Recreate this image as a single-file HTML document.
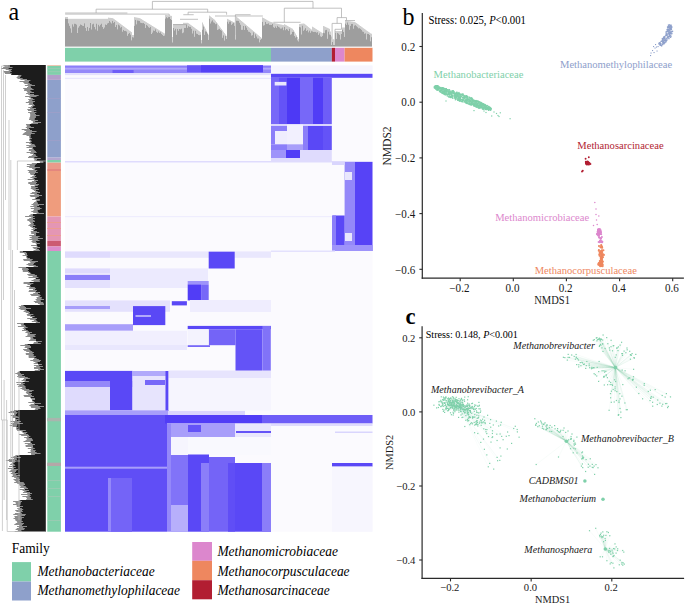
<!DOCTYPE html>
<html><head><meta charset="utf-8"><style>
html,body{margin:0;padding:0;background:#fff;width:685px;height:604px;overflow:hidden}
svg{display:block;font-family:"Liberation Serif",serif}
</style></head><body>
<svg width="685" height="604" viewBox="0 0 685 604">
<g fill="#cfcfcf"><rect x="65" y="17.0" width="1" height="1.5"/><rect x="66" y="17.0" width="1" height="2.0"/><rect x="67" y="17.0" width="1" height="2.0"/><rect x="68" y="18.8" width="1" height="4.4"/><rect x="69" y="18.8" width="1" height="6.9"/><rect x="70" y="18.8" width="1" height="9.4"/><rect x="71" y="18.8" width="1" height="13.7"/><rect x="72" y="18.8" width="1" height="5.4"/><rect x="73" y="18.8" width="1" height="7.6"/><rect x="74" y="18.8" width="1" height="4.7"/><rect x="75" y="18.8" width="1" height="4.9"/><rect x="76" y="18.8" width="1" height="5.6"/><rect x="77" y="18.8" width="1" height="14.2"/><rect x="78" y="18.8" width="1" height="8.6"/><rect x="79" y="18.8" width="1" height="7.3"/><rect x="80" y="18.8" width="1" height="5.5"/><rect x="81" y="18.8" width="1" height="6.1"/><rect x="82" y="18.8" width="1" height="6.7"/><rect x="83" y="18.8" width="1" height="7.2"/><rect x="84" y="18.8" width="1" height="4.4"/><rect x="85" y="18.8" width="1" height="8.9"/><rect x="86" y="18.8" width="1" height="11.9"/><rect x="87" y="18.8" width="1" height="8.1"/><rect x="88" y="18.8" width="1" height="11.8"/><rect x="89" y="18.8" width="1" height="8.9"/><rect x="90" y="18.8" width="1" height="4.2"/><rect x="91" y="18.8" width="1" height="10.5"/><rect x="92" y="18.8" width="1" height="5.4"/><rect x="93" y="18.8" width="1" height="4.7"/><rect x="94" y="18.8" width="1" height="8.1"/><rect x="95" y="18.8" width="1" height="10.4"/><rect x="96" y="18.8" width="1" height="4.7"/><rect x="97" y="18.8" width="1" height="11.7"/><rect x="98" y="18.8" width="1" height="5.8"/><rect x="99" y="18.8" width="1" height="7.4"/><rect x="100" y="18.8" width="1" height="5.8"/><rect x="101" y="18.8" width="1" height="4.7"/><rect x="102" y="18.8" width="1" height="8.1"/><rect x="103" y="18.8" width="1" height="9.9"/><rect x="104" y="18.8" width="1" height="8.5"/><rect x="105" y="18.8" width="1" height="5.5"/><rect x="106" y="18.8" width="1" height="6.2"/><rect x="107" y="18.8" width="1" height="4.5"/><rect x="108" y="17.6" width="1" height="5.3"/><rect x="109" y="17.8" width="1" height="3.1"/><rect x="110" y="17.9" width="1" height="4.3"/><rect x="111" y="18.0" width="1" height="5.3"/><rect x="112" y="18.1" width="1" height="2.7"/><rect x="113" y="18.6" width="1" height="4.1"/><rect x="114" y="19.3" width="1" height="2.3"/><rect x="115" y="20.1" width="1" height="6.9"/><rect x="116" y="20.8" width="1" height="4.1"/><rect x="117" y="21.6" width="1" height="7.6"/><rect x="118" y="22.3" width="1" height="2.1"/><rect x="119" y="23.1" width="1" height="2.2"/><rect x="120" y="23.8" width="1" height="3.6"/><rect x="121" y="24.6" width="1" height="2.1"/><rect x="122" y="25.3" width="1" height="6.2"/><rect x="123" y="26.1" width="1" height="3.8"/><rect x="124" y="26.8" width="1" height="4.1"/><rect x="125" y="27.6" width="1" height="3.1"/><rect x="126" y="28.3" width="1" height="3.0"/><rect x="127" y="29.1" width="1" height="6.5"/><rect x="128" y="29.8" width="1" height="3.9"/><rect x="129" y="30.6" width="1" height="2.3"/><rect x="130" y="31.3" width="1" height="3.1"/><rect x="131" y="32.1" width="1" height="8.1"/><rect x="132" y="35.0" width="1" height="2.1"/><rect x="133" y="35.0" width="1" height="2.3"/><rect x="134" y="17.1" width="1" height="8.6"/><rect x="135" y="17.3" width="1" height="2.6"/><rect x="136" y="17.5" width="1" height="6.7"/><rect x="137" y="17.7" width="1" height="2.6"/><rect x="138" y="17.9" width="1" height="2.6"/><rect x="139" y="18.1" width="1" height="2.8"/><rect x="140" y="18.5" width="1" height="3.8"/><rect x="141" y="19.1" width="1" height="3.5"/><rect x="142" y="19.8" width="1" height="3.3"/><rect x="143" y="20.4" width="1" height="2.5"/><rect x="144" y="21.0" width="1" height="2.9"/><rect x="145" y="21.6" width="1" height="6.3"/><rect x="146" y="22.2" width="1" height="2.6"/><rect x="147" y="22.9" width="1" height="2.7"/><rect x="148" y="23.5" width="1" height="3.6"/><rect x="149" y="24.1" width="1" height="3.6"/><rect x="150" y="24.7" width="1" height="2.2"/><rect x="151" y="25.3" width="1" height="8.6"/><rect x="152" y="26.0" width="1" height="6.4"/><rect x="153" y="26.6" width="1" height="3.7"/><rect x="154" y="27.2" width="1" height="3.7"/><rect x="155" y="27.8" width="1" height="1.4"/><rect x="156" y="28.4" width="1" height="3.3"/><rect x="157" y="29.1" width="1" height="3.7"/><rect x="158" y="29.7" width="1" height="1.6"/><rect x="159" y="30.3" width="1" height="2.5"/><rect x="160" y="30.9" width="1" height="1.3"/><rect x="161" y="31.5" width="1" height="2.5"/><rect x="162" y="32.2" width="1" height="2.7"/><rect x="163" y="32.8" width="1" height="3.2"/><rect x="164" y="33.4" width="1" height="2.0"/><rect x="165" y="14.9" width="1" height="3.5"/><rect x="166" y="15.0" width="1" height="2.0"/><rect x="167" y="15.2" width="1" height="2.9"/><rect x="168" y="15.4" width="1" height="1.7"/><rect x="169" y="15.6" width="1" height="1.4"/><rect x="170" y="15.7" width="1" height="3.0"/><rect x="171" y="15.9" width="1" height="4.1"/><rect x="172" y="37.0" width="1" height="5.3"/><rect x="173" y="24.0" width="1" height="4.0"/><rect x="174" y="24.0" width="1" height="6.3"/><rect x="175" y="24.0" width="1" height="4.6"/><rect x="176" y="24.0" width="1" height="10.6"/><rect x="177" y="24.0" width="1" height="4.9"/><rect x="178" y="24.0" width="1" height="6.6"/><rect x="179" y="24.0" width="1" height="5.0"/><rect x="180" y="24.0" width="1" height="5.2"/><rect x="181" y="24.0" width="1" height="4.5"/><rect x="182" y="24.0" width="1" height="9.1"/><rect x="183" y="22.8" width="1" height="9.5"/><rect x="184" y="22.8" width="1" height="5.1"/><rect x="185" y="22.8" width="1" height="5.1"/><rect x="186" y="22.8" width="1" height="1.6"/><rect x="187" y="22.8" width="1" height="4.8"/><rect x="188" y="23.2" width="1" height="3.0"/><rect x="189" y="23.9" width="1" height="2.9"/><rect x="190" y="24.7" width="1" height="2.1"/><rect x="191" y="25.4" width="1" height="3.2"/><rect x="192" y="26.1" width="1" height="7.2"/><rect x="193" y="26.9" width="1" height="3.7"/><rect x="194" y="27.6" width="1" height="9.0"/><rect x="195" y="28.4" width="1" height="2.2"/><rect x="196" y="29.1" width="1" height="4.3"/><rect x="197" y="29.8" width="1" height="4.1"/><rect x="198" y="30.6" width="1" height="4.4"/><rect x="199" y="31.3" width="1" height="3.8"/><rect x="200" y="32.1" width="1" height="2.7"/><rect x="201" y="40.0" width="1" height="3.2"/><rect x="202" y="22.5" width="1" height="7.0"/><rect x="203" y="24.5" width="1" height="1.8"/><rect x="204" y="26.6" width="1" height="8.2"/><rect x="205" y="28.6" width="1" height="2.6"/><rect x="206" y="30.6" width="1" height="1.3"/><rect x="207" y="32.7" width="1" height="1.2"/><rect x="208" y="34.7" width="1" height="5.1"/><rect x="209" y="15.6" width="1" height="2.9"/><rect x="210" y="16.4" width="1" height="6.9"/><rect x="211" y="17.2" width="1" height="4.1"/><rect x="212" y="18.0" width="1" height="2.2"/><rect x="213" y="18.8" width="1" height="3.4"/><rect x="214" y="19.6" width="1" height="3.0"/><rect x="215" y="20.7" width="1" height="3.4"/><rect x="216" y="22.1" width="1" height="1.3"/><rect x="217" y="23.4" width="1" height="6.4"/><rect x="218" y="24.8" width="1" height="4.4"/><rect x="219" y="26.2" width="1" height="2.4"/><rect x="220" y="27.6" width="1" height="2.4"/><rect x="221" y="28.9" width="1" height="1.4"/><rect x="222" y="30.3" width="1" height="7.3"/><rect x="223" y="31.7" width="1" height="3.5"/><rect x="224" y="33.1" width="1" height="7.4"/><rect x="225" y="34.4" width="1" height="1.5"/><rect x="226" y="35.8" width="1" height="3.2"/><rect x="227" y="18.9" width="1" height="2.6"/><rect x="228" y="19.4" width="1" height="4.2"/><rect x="229" y="19.9" width="1" height="1.6"/><rect x="230" y="20.4" width="1" height="1.0"/><rect x="231" y="21.0" width="1" height="4.0"/><rect x="232" y="21.5" width="1" height="2.1"/><rect x="233" y="22.0" width="1" height="0.9"/><rect x="234" y="22.5" width="1" height="3.2"/><rect x="235" y="35.7" width="1" height="3.7"/><rect x="236" y="16.7" width="1" height="3.7"/><rect x="237" y="17.6" width="1" height="3.0"/><rect x="238" y="18.4" width="1" height="2.4"/><rect x="239" y="19.3" width="1" height="3.3"/><rect x="240" y="20.1" width="1" height="4.3"/><rect x="241" y="21.0" width="1" height="8.8"/><rect x="242" y="21.8" width="1" height="7.8"/><rect x="243" y="22.6" width="1" height="3.4"/><rect x="244" y="23.5" width="1" height="6.3"/><rect x="245" y="24.3" width="1" height="1.6"/><rect x="246" y="25.2" width="1" height="2.2"/><rect x="247" y="26.0" width="1" height="3.8"/><rect x="248" y="26.9" width="1" height="4.5"/><rect x="249" y="27.7" width="1" height="4.0"/><rect x="250" y="28.6" width="1" height="4.3"/><rect x="251" y="29.4" width="1" height="6.0"/><rect x="252" y="30.2" width="1" height="4.9"/><rect x="253" y="31.1" width="1" height="1.1"/><rect x="254" y="31.9" width="1" height="5.8"/><rect x="255" y="32.8" width="1" height="1.5"/><rect x="256" y="33.6" width="1" height="2.7"/><rect x="257" y="34.5" width="1" height="3.9"/><rect x="258" y="35.3" width="1" height="3.0"/><rect x="259" y="36.1" width="1" height="6.1"/><rect x="260" y="37.0" width="1" height="2.7"/><rect x="261" y="37.8" width="1" height="1.0"/><rect x="262" y="17.4" width="1" height="4.3"/><rect x="263" y="18.0" width="1" height="7.4"/><rect x="264" y="18.5" width="1" height="6.5"/><rect x="265" y="19.1" width="1" height="2.8"/><rect x="266" y="19.7" width="1" height="4.0"/><rect x="267" y="20.3" width="1" height="3.7"/><rect x="268" y="20.8" width="1" height="2.4"/><rect x="269" y="21.4" width="1" height="3.4"/><rect x="270" y="21.8" width="1" height="2.9"/><rect x="271" y="22.1" width="1" height="2.9"/><rect x="272" y="22.4" width="1" height="1.5"/><rect x="273" y="22.7" width="1" height="4.4"/><rect x="274" y="23.0" width="1" height="4.9"/><rect x="275" y="23.3" width="1" height="3.0"/><rect x="276" y="23.5" width="1" height="4.3"/><rect x="277" y="23.7" width="1" height="1.9"/><rect x="278" y="24.0" width="1" height="2.8"/><rect x="279" y="24.2" width="1" height="3.1"/><rect x="280" y="24.4" width="1" height="4.0"/><rect x="281" y="24.6" width="1" height="3.7"/><rect x="282" y="24.9" width="1" height="2.4"/><rect x="283" y="25.1" width="1" height="5.0"/><rect x="284" y="24.2" width="1" height="2.7"/><rect x="285" y="24.8" width="1" height="5.3"/><rect x="286" y="25.3" width="1" height="3.4"/><rect x="287" y="25.9" width="1" height="3.5"/><rect x="288" y="26.5" width="1" height="4.3"/><rect x="289" y="27.0" width="1" height="1.6"/><rect x="290" y="27.6" width="1" height="6.9"/><rect x="291" y="28.2" width="1" height="6.0"/><rect x="292" y="28.7" width="1" height="3.1"/><rect x="293" y="29.9" width="1" height="1.6"/><rect x="294" y="31.7" width="1" height="4.2"/><rect x="295" y="33.5" width="1" height="3.9"/><rect x="296" y="35.2" width="1" height="1.3"/><rect x="297" y="37.0" width="1" height="3.2"/><rect x="298" y="38.8" width="1" height="2.5"/><rect x="299" y="24.0" width="1" height="2.9"/><rect x="300" y="23.9" width="1" height="3.4"/><rect x="301" y="23.7" width="1" height="10.6"/><rect x="302" y="23.6" width="1" height="1.9"/><rect x="303" y="23.5" width="1" height="7.3"/><rect x="304" y="23.8" width="1" height="5.7"/><rect x="305" y="24.6" width="1" height="3.4"/><rect x="306" y="25.4" width="1" height="5.2"/><rect x="307" y="26.2" width="1" height="3.8"/><rect x="308" y="27.1" width="1" height="5.1"/><rect x="309" y="27.9" width="1" height="2.7"/><rect x="310" y="28.7" width="1" height="3.9"/><rect x="311" y="29.5" width="1" height="1.6"/><rect x="312" y="26.7" width="1" height="4.7"/><rect x="313" y="27.3" width="1" height="4.7"/><rect x="314" y="27.9" width="1" height="3.9"/><rect x="315" y="28.6" width="1" height="3.2"/><rect x="316" y="29.2" width="1" height="3.1"/><rect x="317" y="29.9" width="1" height="2.3"/><rect x="318" y="30.5" width="1" height="4.2"/><rect x="319" y="31.2" width="1" height="2.1"/><rect x="320" y="31.8" width="1" height="4.4"/><rect x="321" y="32.4" width="1" height="4.5"/><rect x="322" y="33.1" width="1" height="2.7"/><rect x="323" y="26.0" width="1" height="6.6"/><rect x="324" y="26.4" width="1" height="6.6"/><rect x="325" y="26.9" width="1" height="3.1"/><rect x="326" y="27.4" width="1" height="2.6"/><rect x="327" y="27.8" width="1" height="10.8"/><rect x="328" y="28.3" width="1" height="3.2"/><rect x="329" y="28.8" width="1" height="5.5"/><rect x="330" y="31.5" width="1" height="3.3"/><rect x="331" y="36.5" width="1" height="8.5"/><rect x="332" y="39.2" width="1" height="2.8"/><rect x="333" y="39.2" width="1" height="5.8"/><rect x="334" y="39.2" width="1" height="5.8"/><rect x="335" y="31.0" width="1" height="2.0"/><rect x="336" y="31.0" width="1" height="7.8"/><rect x="337" y="31.0" width="1" height="1.8"/><rect x="338" y="31.0" width="1" height="2.4"/><rect x="339" y="31.0" width="1" height="3.6"/><rect x="340" y="31.0" width="1" height="8.3"/><rect x="341" y="31.0" width="1" height="2.9"/><rect x="342" y="27.5" width="1" height="1.9"/><rect x="343" y="27.5" width="1" height="4.4"/><rect x="344" y="27.5" width="1" height="9.3"/><rect x="345" y="20.6" width="1" height="2.8"/><rect x="346" y="20.7" width="1" height="4.0"/><rect x="347" y="20.9" width="1" height="1.4"/><rect x="348" y="21.0" width="1" height="3.5"/><rect x="349" y="21.2" width="1" height="8.5"/><rect x="350" y="21.3" width="1" height="4.4"/><rect x="351" y="21.5" width="1" height="2.4"/><rect x="352" y="21.6" width="1" height="2.2"/><rect x="353" y="21.8" width="1" height="6.9"/><rect x="354" y="21.9" width="1" height="3.5"/><rect x="355" y="22.4" width="1" height="2.7"/><rect x="356" y="23.1" width="1" height="3.0"/><rect x="357" y="23.8" width="1" height="3.2"/><rect x="358" y="24.5" width="1" height="3.7"/><rect x="359" y="25.3" width="1" height="2.8"/><rect x="360" y="26.0" width="1" height="2.7"/><rect x="361" y="26.7" width="1" height="3.0"/><rect x="362" y="27.4" width="1" height="3.9"/><rect x="363" y="28.2" width="1" height="3.5"/><rect x="364" y="28.9" width="1" height="4.6"/><rect x="365" y="29.6" width="1" height="3.6"/><rect x="366" y="30.4" width="1" height="8.9"/><rect x="367" y="31.1" width="1" height="2.6"/><rect x="368" y="31.8" width="1" height="2.2"/><rect x="369" y="32.5" width="1" height="2.5"/><rect x="370" y="33.3" width="1" height="8.0"/><rect x="371" y="33.7" width="1" height="3.4"/></g>
<g fill="#9e9e9e"><rect x="65" y="18.5" width="1" height="28.1"/><rect x="66" y="19.0" width="1" height="27.6"/><rect x="67" y="19.0" width="1" height="27.6"/><rect x="68" y="23.2" width="1" height="23.4"/><rect x="69" y="25.7" width="1" height="20.9"/><rect x="70" y="28.2" width="1" height="18.4"/><rect x="71" y="32.5" width="1" height="14.1"/><rect x="72" y="24.2" width="1" height="22.4"/><rect x="73" y="26.4" width="1" height="20.2"/><rect x="74" y="23.5" width="1" height="23.1"/><rect x="75" y="23.7" width="1" height="22.9"/><rect x="76" y="24.4" width="1" height="22.2"/><rect x="77" y="33.0" width="1" height="13.6"/><rect x="78" y="27.4" width="1" height="19.2"/><rect x="79" y="26.1" width="1" height="20.5"/><rect x="80" y="24.3" width="1" height="22.3"/><rect x="81" y="24.9" width="1" height="21.7"/><rect x="82" y="25.5" width="1" height="21.1"/><rect x="83" y="26.0" width="1" height="20.6"/><rect x="84" y="23.2" width="1" height="23.4"/><rect x="85" y="27.7" width="1" height="18.9"/><rect x="86" y="30.7" width="1" height="15.9"/><rect x="87" y="26.9" width="1" height="19.7"/><rect x="88" y="30.6" width="1" height="16.0"/><rect x="89" y="27.7" width="1" height="18.9"/><rect x="90" y="23.0" width="1" height="23.6"/><rect x="91" y="29.3" width="1" height="17.3"/><rect x="92" y="24.2" width="1" height="22.4"/><rect x="93" y="23.5" width="1" height="23.1"/><rect x="94" y="26.9" width="1" height="19.7"/><rect x="95" y="29.2" width="1" height="17.4"/><rect x="96" y="23.5" width="1" height="23.1"/><rect x="97" y="30.5" width="1" height="16.1"/><rect x="98" y="24.6" width="1" height="22.0"/><rect x="99" y="26.2" width="1" height="20.4"/><rect x="100" y="24.6" width="1" height="22.0"/><rect x="101" y="23.5" width="1" height="23.1"/><rect x="102" y="26.9" width="1" height="19.7"/><rect x="103" y="28.7" width="1" height="17.9"/><rect x="104" y="27.3" width="1" height="19.3"/><rect x="105" y="24.3" width="1" height="22.3"/><rect x="106" y="25.0" width="1" height="21.6"/><rect x="107" y="23.3" width="1" height="23.3"/><rect x="108" y="22.9" width="1" height="23.7"/><rect x="109" y="20.9" width="1" height="25.7"/><rect x="110" y="22.2" width="1" height="24.4"/><rect x="111" y="23.3" width="1" height="23.3"/><rect x="112" y="20.8" width="1" height="25.8"/><rect x="113" y="22.7" width="1" height="23.9"/><rect x="114" y="21.7" width="1" height="24.9"/><rect x="115" y="27.0" width="1" height="19.6"/><rect x="116" y="24.9" width="1" height="21.7"/><rect x="117" y="29.2" width="1" height="17.4"/><rect x="118" y="24.4" width="1" height="22.2"/><rect x="119" y="25.3" width="1" height="21.3"/><rect x="120" y="27.4" width="1" height="19.2"/><rect x="121" y="26.7" width="1" height="19.9"/><rect x="122" y="31.5" width="1" height="15.1"/><rect x="123" y="29.9" width="1" height="16.7"/><rect x="124" y="30.9" width="1" height="15.7"/><rect x="125" y="30.7" width="1" height="15.9"/><rect x="126" y="31.3" width="1" height="15.3"/><rect x="127" y="35.6" width="1" height="11.0"/><rect x="128" y="33.7" width="1" height="12.9"/><rect x="129" y="32.9" width="1" height="13.7"/><rect x="130" y="34.4" width="1" height="12.2"/><rect x="131" y="40.2" width="1" height="6.4"/><rect x="132" y="37.1" width="1" height="9.5"/><rect x="133" y="37.3" width="1" height="9.3"/><rect x="134" y="25.7" width="1" height="20.9"/><rect x="135" y="19.9" width="1" height="26.7"/><rect x="136" y="24.2" width="1" height="22.4"/><rect x="137" y="20.3" width="1" height="26.3"/><rect x="138" y="20.5" width="1" height="26.1"/><rect x="139" y="20.9" width="1" height="25.7"/><rect x="140" y="22.4" width="1" height="24.2"/><rect x="141" y="22.7" width="1" height="23.9"/><rect x="142" y="23.1" width="1" height="23.5"/><rect x="143" y="22.9" width="1" height="23.7"/><rect x="144" y="23.9" width="1" height="22.7"/><rect x="145" y="27.9" width="1" height="18.7"/><rect x="146" y="24.8" width="1" height="21.8"/><rect x="147" y="25.6" width="1" height="21.0"/><rect x="148" y="27.1" width="1" height="19.5"/><rect x="149" y="27.7" width="1" height="18.9"/><rect x="150" y="26.9" width="1" height="19.7"/><rect x="151" y="34.0" width="1" height="12.6"/><rect x="152" y="32.4" width="1" height="14.2"/><rect x="153" y="30.3" width="1" height="16.3"/><rect x="154" y="30.9" width="1" height="15.7"/><rect x="155" y="29.2" width="1" height="17.4"/><rect x="156" y="31.7" width="1" height="14.9"/><rect x="157" y="32.8" width="1" height="13.8"/><rect x="158" y="31.3" width="1" height="15.3"/><rect x="159" y="32.8" width="1" height="13.8"/><rect x="160" y="32.2" width="1" height="14.4"/><rect x="161" y="34.0" width="1" height="12.6"/><rect x="162" y="34.9" width="1" height="11.7"/><rect x="163" y="36.0" width="1" height="10.6"/><rect x="164" y="35.4" width="1" height="11.2"/><rect x="165" y="18.4" width="1" height="28.2"/><rect x="166" y="17.1" width="1" height="29.5"/><rect x="167" y="18.1" width="1" height="28.5"/><rect x="168" y="17.1" width="1" height="29.5"/><rect x="169" y="17.0" width="1" height="29.6"/><rect x="170" y="18.8" width="1" height="27.8"/><rect x="171" y="20.0" width="1" height="26.6"/><rect x="172" y="42.3" width="1" height="4.3"/><rect x="173" y="28.0" width="1" height="18.6"/><rect x="174" y="30.3" width="1" height="16.3"/><rect x="175" y="28.6" width="1" height="18.0"/><rect x="176" y="34.6" width="1" height="12.0"/><rect x="177" y="28.9" width="1" height="17.7"/><rect x="178" y="30.6" width="1" height="16.0"/><rect x="179" y="29.0" width="1" height="17.6"/><rect x="180" y="29.2" width="1" height="17.4"/><rect x="181" y="28.5" width="1" height="18.1"/><rect x="182" y="33.1" width="1" height="13.5"/><rect x="183" y="32.3" width="1" height="14.3"/><rect x="184" y="27.9" width="1" height="18.7"/><rect x="185" y="27.9" width="1" height="18.7"/><rect x="186" y="24.4" width="1" height="22.2"/><rect x="187" y="27.6" width="1" height="19.0"/><rect x="188" y="26.1" width="1" height="20.5"/><rect x="189" y="26.8" width="1" height="19.8"/><rect x="190" y="26.8" width="1" height="19.8"/><rect x="191" y="28.6" width="1" height="18.0"/><rect x="192" y="33.3" width="1" height="13.3"/><rect x="193" y="30.5" width="1" height="16.1"/><rect x="194" y="36.6" width="1" height="10.0"/><rect x="195" y="30.6" width="1" height="16.0"/><rect x="196" y="33.4" width="1" height="13.2"/><rect x="197" y="33.9" width="1" height="12.7"/><rect x="198" y="35.0" width="1" height="11.6"/><rect x="199" y="35.1" width="1" height="11.5"/><rect x="200" y="34.7" width="1" height="11.9"/><rect x="201" y="43.2" width="1" height="3.4"/><rect x="202" y="29.5" width="1" height="17.1"/><rect x="203" y="26.3" width="1" height="20.3"/><rect x="204" y="34.8" width="1" height="11.8"/><rect x="205" y="31.2" width="1" height="15.4"/><rect x="206" y="31.9" width="1" height="14.7"/><rect x="207" y="33.8" width="1" height="12.8"/><rect x="208" y="39.8" width="1" height="6.8"/><rect x="209" y="18.5" width="1" height="28.1"/><rect x="210" y="23.3" width="1" height="23.3"/><rect x="211" y="21.3" width="1" height="25.3"/><rect x="212" y="20.2" width="1" height="26.4"/><rect x="213" y="22.2" width="1" height="24.4"/><rect x="214" y="22.6" width="1" height="24.0"/><rect x="215" y="24.1" width="1" height="22.5"/><rect x="216" y="23.4" width="1" height="23.2"/><rect x="217" y="29.8" width="1" height="16.8"/><rect x="218" y="29.2" width="1" height="17.4"/><rect x="219" y="28.6" width="1" height="18.0"/><rect x="220" y="30.0" width="1" height="16.6"/><rect x="221" y="30.4" width="1" height="16.2"/><rect x="222" y="37.6" width="1" height="9.0"/><rect x="223" y="35.2" width="1" height="11.4"/><rect x="224" y="40.4" width="1" height="6.2"/><rect x="225" y="35.9" width="1" height="10.7"/><rect x="226" y="39.0" width="1" height="7.6"/><rect x="227" y="21.5" width="1" height="25.1"/><rect x="228" y="23.5" width="1" height="23.1"/><rect x="229" y="21.5" width="1" height="25.1"/><rect x="230" y="21.4" width="1" height="25.2"/><rect x="231" y="24.9" width="1" height="21.7"/><rect x="232" y="23.6" width="1" height="23.0"/><rect x="233" y="22.9" width="1" height="23.7"/><rect x="234" y="25.7" width="1" height="20.9"/><rect x="235" y="39.4" width="1" height="7.2"/><rect x="236" y="20.5" width="1" height="26.1"/><rect x="237" y="20.6" width="1" height="26.0"/><rect x="238" y="20.8" width="1" height="25.8"/><rect x="239" y="22.6" width="1" height="24.0"/><rect x="240" y="24.5" width="1" height="22.1"/><rect x="241" y="29.7" width="1" height="16.9"/><rect x="242" y="29.6" width="1" height="17.0"/><rect x="243" y="26.0" width="1" height="20.6"/><rect x="244" y="29.8" width="1" height="16.8"/><rect x="245" y="25.9" width="1" height="20.7"/><rect x="246" y="27.4" width="1" height="19.2"/><rect x="247" y="29.8" width="1" height="16.8"/><rect x="248" y="31.4" width="1" height="15.2"/><rect x="249" y="31.7" width="1" height="14.9"/><rect x="250" y="32.8" width="1" height="13.8"/><rect x="251" y="35.4" width="1" height="11.2"/><rect x="252" y="35.1" width="1" height="11.5"/><rect x="253" y="32.2" width="1" height="14.4"/><rect x="254" y="37.8" width="1" height="8.8"/><rect x="255" y="34.2" width="1" height="12.4"/><rect x="256" y="36.3" width="1" height="10.3"/><rect x="257" y="38.3" width="1" height="8.3"/><rect x="258" y="38.3" width="1" height="8.3"/><rect x="259" y="42.2" width="1" height="4.4"/><rect x="260" y="39.7" width="1" height="6.9"/><rect x="261" y="38.9" width="1" height="7.7"/><rect x="262" y="21.7" width="1" height="24.9"/><rect x="263" y="25.4" width="1" height="21.2"/><rect x="264" y="25.1" width="1" height="21.5"/><rect x="265" y="21.9" width="1" height="24.7"/><rect x="266" y="23.7" width="1" height="22.9"/><rect x="267" y="23.9" width="1" height="22.7"/><rect x="268" y="23.2" width="1" height="23.4"/><rect x="269" y="24.8" width="1" height="21.8"/><rect x="270" y="24.7" width="1" height="21.9"/><rect x="271" y="25.0" width="1" height="21.6"/><rect x="272" y="23.9" width="1" height="22.7"/><rect x="273" y="27.1" width="1" height="19.5"/><rect x="274" y="27.9" width="1" height="18.7"/><rect x="275" y="26.3" width="1" height="20.3"/><rect x="276" y="27.8" width="1" height="18.8"/><rect x="277" y="25.6" width="1" height="21.0"/><rect x="278" y="26.8" width="1" height="19.8"/><rect x="279" y="27.3" width="1" height="19.3"/><rect x="280" y="28.4" width="1" height="18.2"/><rect x="281" y="28.3" width="1" height="18.3"/><rect x="282" y="27.3" width="1" height="19.3"/><rect x="283" y="30.1" width="1" height="16.5"/><rect x="284" y="26.9" width="1" height="19.7"/><rect x="285" y="30.1" width="1" height="16.5"/><rect x="286" y="28.8" width="1" height="17.8"/><rect x="287" y="29.4" width="1" height="17.2"/><rect x="288" y="30.8" width="1" height="15.8"/><rect x="289" y="28.6" width="1" height="18.0"/><rect x="290" y="34.5" width="1" height="12.1"/><rect x="291" y="34.1" width="1" height="12.5"/><rect x="292" y="31.8" width="1" height="14.8"/><rect x="293" y="31.5" width="1" height="15.1"/><rect x="294" y="35.9" width="1" height="10.7"/><rect x="295" y="37.4" width="1" height="9.2"/><rect x="296" y="36.5" width="1" height="10.1"/><rect x="297" y="40.2" width="1" height="6.4"/><rect x="298" y="41.3" width="1" height="5.3"/><rect x="299" y="26.9" width="1" height="19.7"/><rect x="300" y="27.2" width="1" height="19.4"/><rect x="301" y="34.3" width="1" height="12.3"/><rect x="302" y="25.5" width="1" height="21.1"/><rect x="303" y="30.7" width="1" height="15.9"/><rect x="304" y="29.5" width="1" height="17.1"/><rect x="305" y="28.1" width="1" height="18.5"/><rect x="306" y="30.7" width="1" height="15.9"/><rect x="307" y="30.1" width="1" height="16.5"/><rect x="308" y="32.2" width="1" height="14.4"/><rect x="309" y="30.5" width="1" height="16.1"/><rect x="310" y="32.6" width="1" height="14.0"/><rect x="311" y="31.1" width="1" height="15.5"/><rect x="312" y="31.3" width="1" height="15.3"/><rect x="313" y="32.0" width="1" height="14.6"/><rect x="314" y="31.8" width="1" height="14.8"/><rect x="315" y="31.8" width="1" height="14.8"/><rect x="316" y="32.4" width="1" height="14.2"/><rect x="317" y="32.1" width="1" height="14.5"/><rect x="318" y="34.7" width="1" height="11.9"/><rect x="319" y="33.2" width="1" height="13.4"/><rect x="320" y="36.2" width="1" height="10.4"/><rect x="321" y="36.9" width="1" height="9.7"/><rect x="322" y="35.8" width="1" height="10.8"/><rect x="323" y="32.6" width="1" height="14.0"/><rect x="324" y="33.1" width="1" height="13.5"/><rect x="325" y="30.1" width="1" height="16.5"/><rect x="326" y="29.9" width="1" height="16.7"/><rect x="327" y="38.6" width="1" height="8.0"/><rect x="328" y="31.5" width="1" height="15.1"/><rect x="329" y="34.3" width="1" height="12.3"/><rect x="330" y="34.8" width="1" height="11.8"/><rect x="331" y="45.0" width="1" height="1.6"/><rect x="332" y="42.0" width="1" height="4.6"/><rect x="333" y="45.0" width="1" height="1.6"/><rect x="334" y="45.0" width="1" height="1.6"/><rect x="335" y="33.0" width="1" height="13.6"/><rect x="336" y="38.8" width="1" height="7.8"/><rect x="337" y="32.8" width="1" height="13.8"/><rect x="338" y="33.4" width="1" height="13.2"/><rect x="339" y="34.6" width="1" height="12.0"/><rect x="340" y="39.3" width="1" height="7.3"/><rect x="341" y="33.9" width="1" height="12.7"/><rect x="342" y="29.4" width="1" height="17.2"/><rect x="343" y="31.9" width="1" height="14.7"/><rect x="344" y="36.8" width="1" height="9.8"/><rect x="345" y="23.4" width="1" height="23.2"/><rect x="346" y="24.7" width="1" height="21.9"/><rect x="347" y="22.3" width="1" height="24.3"/><rect x="348" y="24.5" width="1" height="22.1"/><rect x="349" y="29.6" width="1" height="17.0"/><rect x="350" y="25.7" width="1" height="20.9"/><rect x="351" y="23.9" width="1" height="22.7"/><rect x="352" y="23.8" width="1" height="22.8"/><rect x="353" y="28.6" width="1" height="18.0"/><rect x="354" y="25.4" width="1" height="21.2"/><rect x="355" y="25.1" width="1" height="21.5"/><rect x="356" y="26.1" width="1" height="20.5"/><rect x="357" y="27.1" width="1" height="19.5"/><rect x="358" y="28.2" width="1" height="18.4"/><rect x="359" y="28.1" width="1" height="18.5"/><rect x="360" y="28.7" width="1" height="17.9"/><rect x="361" y="29.7" width="1" height="16.9"/><rect x="362" y="31.3" width="1" height="15.3"/><rect x="363" y="31.7" width="1" height="14.9"/><rect x="364" y="33.5" width="1" height="13.1"/><rect x="365" y="33.2" width="1" height="13.4"/><rect x="366" y="39.3" width="1" height="7.3"/><rect x="367" y="33.7" width="1" height="12.9"/><rect x="368" y="34.0" width="1" height="12.6"/><rect x="369" y="35.0" width="1" height="11.6"/><rect x="370" y="41.2" width="1" height="5.4"/><rect x="371" y="37.1" width="1" height="9.5"/></g>
<g stroke="#a8a8a8" stroke-width="0.7"><line x1="152.4" y1="1.4" x2="313" y2="1.4"/><line x1="152.4" y1="1.4" x2="152.4" y2="9.2"/><line x1="313" y1="1.4" x2="313" y2="8.2"/><line x1="96.1" y1="9.2" x2="207.7" y2="9.2"/><line x1="96.1" y1="9.2" x2="96.1" y2="13"/><line x1="207.7" y1="9.2" x2="207.7" y2="12.2"/><line x1="65.1" y1="13" x2="127.4" y2="13"/><line x1="65.1" y1="14.1" x2="169.2" y2="14.1"/><line x1="169.2" y1="14.1" x2="169.2" y2="16"/><line x1="188.1" y1="12.2" x2="226.6" y2="12.2"/><line x1="188.1" y1="12.2" x2="188.1" y2="14.6"/><line x1="226.6" y1="12.2" x2="226.6" y2="14.7"/><line x1="183.3" y1="14.7" x2="193.7" y2="14.7"/><line x1="180" y1="19.3" x2="198" y2="19.3"/><line x1="173" y1="24.6" x2="186.7" y2="24.6"/><line x1="235.4" y1="14.7" x2="250.6" y2="14.7"/><line x1="235.4" y1="14.7" x2="235.4" y2="35.7"/><line x1="215" y1="16" x2="262.9" y2="16"/><line x1="284.3" y1="8.2" x2="341.5" y2="8.2"/><line x1="284.3" y1="8.2" x2="284.3" y2="22.3"/><line x1="341.5" y1="8.2" x2="341.5" y2="17.6"/><line x1="273.4" y1="22.3" x2="300.6" y2="22.3"/><line x1="337.1" y1="17.6" x2="346.5" y2="17.6"/><line x1="337.1" y1="17.6" x2="337.1" y2="23.4"/><line x1="332.1" y1="23.4" x2="341.5" y2="23.4"/><line x1="346.5" y1="17.6" x2="346.5" y2="20.5"/><line x1="345" y1="20.5" x2="355" y2="20.5"/><line x1="332.1" y1="23.4" x2="332.1" y2="39.2"/><line x1="341.5" y1="23.4" x2="341.5" y2="29.3"/><line x1="335" y1="29.3" x2="341.5" y2="29.3"/><line x1="335" y1="29.3" x2="335" y2="39"/></g>
<rect x="65.00" y="47.80" width="206.00" height="13.80" fill="#7fd0aa"/>
<rect x="271.00" y="47.80" width="60.80" height="13.80" fill="#8ea0cb"/>
<rect x="331.80" y="47.80" width="3.20" height="13.80" fill="#b21e32"/>
<rect x="335.00" y="47.80" width="9.60" height="13.80" fill="#dc87cd"/>
<rect x="344.60" y="47.80" width="27.90" height="13.80" fill="#ee875f"/>
<rect x="47.30" y="251.00" width="13.60" height="280.70" fill="#7fd0aa"/>
<rect x="47.30" y="79.90" width="13.60" height="77.70" fill="#8ea0cb"/>
<rect x="47.30" y="169.00" width="13.60" height="47.50" fill="#ef9c7d"/>
<rect x="47.30" y="216.50" width="13.60" height="24.50" fill="#e496b4"/>
<rect x="47.30" y="65.90" width="13.60" height="9.00" fill="#7fd0aa"/>
<rect x="47.30" y="162.40" width="13.60" height="6.60" fill="#eb9a8a"/>
<rect x="47.30" y="241.00" width="13.60" height="5.50" fill="#cc5a72"/>
<rect x="47.30" y="74.90" width="13.60" height="5.00" fill="#b29fca"/>
<rect x="47.30" y="246.50" width="13.60" height="4.50" fill="#dc8ccc"/>
<rect x="47.30" y="417.90" width="13.60" height="3.40" fill="#a9b5ae"/>
<rect x="47.30" y="462.70" width="13.60" height="3.30" fill="#b5a7a8"/>
<rect x="47.30" y="157.60" width="13.60" height="2.40" fill="#b3a6cf"/>
<rect x="47.30" y="160.00" width="13.60" height="2.40" fill="#7fd0aa"/>
<rect x="47.30" y="169.50" width="13.60" height="1.00" fill="#d97080"/>
<rect x="47.30" y="222.00" width="13.60" height="1.00" fill="#ec9c90"/>
<rect x="47.30" y="228.00" width="13.60" height="1.00" fill="#ec9c90"/>
<rect x="47.30" y="235.00" width="13.60" height="1.00" fill="#ec9c90"/>
<rect x="47.30" y="480.00" width="13.60" height="0.60" fill="#a8c8b8"/>
<rect x="47.30" y="488.00" width="13.60" height="0.60" fill="#a8c8b8"/>
<rect x="47.30" y="496.00" width="13.60" height="0.60" fill="#a8c8b8"/>
<rect x="47.30" y="520.00" width="13.60" height="0.60" fill="#a8c8b8"/>
<rect x="47.30" y="65.30" width="13.60" height="0.60" fill="#e9a585"/>
<rect x="47.30" y="68.00" width="13.60" height="0.60" fill="#a8c8b8"/>
<rect x="47.30" y="71.50" width="13.60" height="0.60" fill="#a8c8b8"/>
<rect x="47.30" y="98.00" width="13.60" height="0.50" fill="#a89ec6"/>
<rect x="47.30" y="112.00" width="13.60" height="0.50" fill="#a89ec6"/>
<rect x="47.30" y="140.00" width="13.60" height="0.50" fill="#a89ec6"/>
<g fill="#8c8c8c"><rect x="3.4" y="65" width="6.3" height="1"/><rect x="4.5" y="66" width="5.4" height="1"/><rect x="3.1" y="67" width="9.2" height="1"/><rect x="1.1" y="68" width="7.3" height="1"/><rect x="5.7" y="69" width="5.8" height="1"/><rect x="8.7" y="70" width="1.9" height="1"/><rect x="3.6" y="71" width="7.9" height="1"/><rect x="4.3" y="72" width="5.8" height="1"/><rect x="4.9" y="73" width="6.5" height="1"/><rect x="11.6" y="74" width="0.0" height="1"/><rect x="18.3" y="75" width="2.9" height="1"/><rect x="17.5" y="76" width="3.0" height="1"/><rect x="16.6" y="77" width="3.2" height="1"/><rect x="17.5" y="78" width="4.9" height="1"/><rect x="20.4" y="79" width="6.2" height="1"/><rect x="24.5" y="80" width="5.7" height="1"/><rect x="19.5" y="81" width="9.5" height="1"/><rect x="23.4" y="82" width="5.0" height="1"/><rect x="24.3" y="83" width="5.2" height="1"/><rect x="27.6" y="84" width="3.8" height="1"/><rect x="24.9" y="85" width="10.0" height="1"/><rect x="28.1" y="86" width="2.4" height="1"/><rect x="27.0" y="87" width="3.7" height="1"/><rect x="23.2" y="88" width="8.9" height="1"/><rect x="24.3" y="89" width="9.1" height="1"/><rect x="24.1" y="90" width="6.0" height="1"/><rect x="26.8" y="91" width="4.5" height="1"/><rect x="27.5" y="92" width="6.1" height="1"/><rect x="26.1" y="93" width="3.9" height="1"/><rect x="28.3" y="94" width="5.5" height="1"/><rect x="29.7" y="95" width="8.7" height="1"/><rect x="25.1" y="96" width="11.2" height="1"/><rect x="29.3" y="97" width="1.9" height="1"/><rect x="30.5" y="98" width="2.2" height="1"/><rect x="28.2" y="99" width="6.1" height="1"/><rect x="29.1" y="100" width="3.1" height="1"/><rect x="28.3" y="101" width="6.6" height="1"/><rect x="25.8" y="102" width="7.3" height="1"/><rect x="29.1" y="103" width="3.6" height="1"/><rect x="28.6" y="104" width="5.4" height="1"/><rect x="32.2" y="105" width="2.3" height="1"/><rect x="30.9" y="106" width="2.1" height="1"/><rect x="28.3" y="107" width="3.9" height="1"/><rect x="30.1" y="108" width="5.6" height="1"/><rect x="27.3" y="109" width="6.7" height="1"/><rect x="28.0" y="110" width="8.2" height="1"/><rect x="31.5" y="111" width="2.5" height="1"/><rect x="28.1" y="112" width="8.1" height="1"/><rect x="29.9" y="113" width="5.1" height="1"/><rect x="30.2" y="114" width="5.7" height="1"/><rect x="30.2" y="115" width="9.1" height="1"/><rect x="30.1" y="116" width="5.6" height="1"/><rect x="29.6" y="117" width="6.1" height="1"/><rect x="29.4" y="118" width="5.2" height="1"/><rect x="29.0" y="119" width="5.5" height="1"/><rect x="31.3" y="120" width="6.4" height="1"/><rect x="32.8" y="121" width="2.4" height="1"/><rect x="32.9" y="122" width="8.1" height="1"/><rect x="31.3" y="123" width="6.7" height="1"/><rect x="26.0" y="124" width="3.6" height="1"/><rect x="26.6" y="125" width="2.9" height="1"/><rect x="26.8" y="126" width="3.8" height="1"/><rect x="25.8" y="127" width="8.0" height="1"/><rect x="27.0" y="128" width="2.0" height="1"/><rect x="21.7" y="129" width="8.0" height="1"/><rect x="24.4" y="130" width="7.3" height="1"/><rect x="26.1" y="131" width="10.2" height="1"/><rect x="24.6" y="132" width="7.0" height="1"/><rect x="23.4" y="133" width="11.1" height="1"/><rect x="22.6" y="134" width="8.1" height="1"/><rect x="26.5" y="135" width="3.9" height="1"/><rect x="29.1" y="136" width="1.4" height="1"/><rect x="29.2" y="137" width="1.0" height="1"/><rect x="29.6" y="138" width="1.8" height="1"/><rect x="29.0" y="139" width="1.1" height="1"/><rect x="29.3" y="140" width="1.8" height="1"/><rect x="30.3" y="141" width="1.3" height="1"/><rect x="25.9" y="142" width="4.6" height="1"/><rect x="29.2" y="143" width="2.3" height="1"/><rect x="30.7" y="144" width="3.6" height="1"/><rect x="26.3" y="145" width="8.8" height="1"/><rect x="28.8" y="146" width="7.0" height="1"/><rect x="26.5" y="147" width="6.6" height="1"/><rect x="31.8" y="148" width="1.3" height="1"/><rect x="29.0" y="149" width="4.5" height="1"/><rect x="28.8" y="150" width="5.7" height="1"/><rect x="30.9" y="151" width="4.9" height="1"/><rect x="26.6" y="152" width="9.8" height="1"/><rect x="30.3" y="153" width="3.4" height="1"/><rect x="33.0" y="154" width="2.3" height="1"/><rect x="31.7" y="155" width="4.0" height="1"/><rect x="28.9" y="156" width="8.3" height="1"/><rect x="28.0" y="157" width="6.2" height="1"/><rect x="33.7" y="158" width="6.8" height="1"/><rect x="34.4" y="159" width="2.4" height="1"/><rect x="34.3" y="160" width="1.9" height="1"/><rect x="39.6" y="161" width="3.5" height="1"/><rect x="39.9" y="162" width="3.3" height="1"/><rect x="31.8" y="163" width="5.1" height="1"/><rect x="26.9" y="164" width="8.7" height="1"/><rect x="29.7" y="165" width="5.0" height="1"/><rect x="26.8" y="166" width="7.6" height="1"/><rect x="29.2" y="167" width="10.6" height="1"/><rect x="32.1" y="168" width="3.3" height="1"/><rect x="33.5" y="169" width="1.2" height="1"/><rect x="27.7" y="170" width="9.4" height="1"/><rect x="29.1" y="171" width="6.7" height="1"/><rect x="28.5" y="172" width="9.1" height="1"/><rect x="30.0" y="173" width="4.9" height="1"/><rect x="30.5" y="174" width="3.5" height="1"/><rect x="33.7" y="175" width="2.1" height="1"/><rect x="32.2" y="176" width="2.4" height="1"/><rect x="30.4" y="177" width="6.0" height="1"/><rect x="32.6" y="178" width="1.5" height="1"/><rect x="27.7" y="179" width="6.9" height="1"/><rect x="34.0" y="180" width="3.6" height="1"/><rect x="31.9" y="181" width="3.6" height="1"/><rect x="28.3" y="182" width="8.7" height="1"/><rect x="28.3" y="183" width="7.8" height="1"/><rect x="30.1" y="184" width="8.7" height="1"/><rect x="34.6" y="185" width="2.9" height="1"/><rect x="31.0" y="186" width="4.1" height="1"/><rect x="31.2" y="187" width="6.2" height="1"/><rect x="30.8" y="188" width="4.5" height="1"/><rect x="32.5" y="189" width="6.4" height="1"/><rect x="33.9" y="190" width="2.0" height="1"/><rect x="35.2" y="191" width="2.4" height="1"/><rect x="31.9" y="192" width="8.1" height="1"/><rect x="30.4" y="193" width="6.3" height="1"/><rect x="34.4" y="194" width="4.0" height="1"/><rect x="29.8" y="195" width="12.2" height="1"/><rect x="30.4" y="196" width="8.3" height="1"/><rect x="35.3" y="197" width="1.8" height="1"/><rect x="34.8" y="198" width="1.0" height="1"/><rect x="32.2" y="199" width="7.4" height="1"/><rect x="36.3" y="200" width="3.2" height="1"/><rect x="35.5" y="201" width="1.4" height="1"/><rect x="34.0" y="202" width="3.3" height="1"/><rect x="33.1" y="203" width="4.6" height="1"/><rect x="31.5" y="204" width="12.5" height="1"/><rect x="33.4" y="205" width="5.5" height="1"/><rect x="30.3" y="206" width="6.8" height="1"/><rect x="34.2" y="207" width="5.5" height="1"/><rect x="30.8" y="208" width="10.7" height="1"/><rect x="33.9" y="209" width="5.9" height="1"/><rect x="33.3" y="210" width="4.1" height="1"/><rect x="31.3" y="211" width="6.5" height="1"/><rect x="33.2" y="212" width="5.0" height="1"/><rect x="36.6" y="213" width="7.4" height="1"/><rect x="30.5" y="214" width="2.5" height="1"/><rect x="29.1" y="215" width="3.9" height="1"/><rect x="25.1" y="216" width="9.3" height="1"/><rect x="31.3" y="217" width="1.6" height="1"/><rect x="29.2" y="218" width="5.7" height="1"/><rect x="27.4" y="219" width="5.2" height="1"/><rect x="27.4" y="220" width="6.8" height="1"/><rect x="29.3" y="221" width="5.6" height="1"/><rect x="30.2" y="222" width="2.7" height="1"/><rect x="30.8" y="223" width="2.8" height="1"/><rect x="29.5" y="224" width="3.9" height="1"/><rect x="28.4" y="225" width="6.7" height="1"/><rect x="30.2" y="226" width="2.8" height="1"/><rect x="31.6" y="227" width="3.2" height="1"/><rect x="33.1" y="228" width="3.4" height="1"/><rect x="31.4" y="229" width="3.4" height="1"/><rect x="33.0" y="230" width="1.0" height="1"/><rect x="30.8" y="231" width="5.9" height="1"/><rect x="31.2" y="232" width="7.9" height="1"/><rect x="31.2" y="233" width="4.7" height="1"/><rect x="34.0" y="234" width="2.1" height="1"/><rect x="29.2" y="235" width="6.7" height="1"/><rect x="31.7" y="236" width="7.7" height="1"/><rect x="29.7" y="237" width="8.4" height="1"/><rect x="31.6" y="238" width="11.1" height="1"/><rect x="29.4" y="239" width="8.2" height="1"/><rect x="32.4" y="240" width="6.9" height="1"/><rect x="31.5" y="241" width="4.3" height="1"/><rect x="32.4" y="242" width="4.3" height="1"/><rect x="35.7" y="243" width="3.9" height="1"/><rect x="36.3" y="244" width="0.7" height="1"/><rect x="31.1" y="245" width="5.7" height="1"/><rect x="36.6" y="246" width="0.8" height="1"/><rect x="32.7" y="247" width="7.2" height="1"/><rect x="33.6" y="248" width="3.5" height="1"/><rect x="35.6" y="249" width="3.3" height="1"/><rect x="33.5" y="250" width="6.2" height="1"/><rect x="19.8" y="251" width="3.2" height="1"/><rect x="19.8" y="252" width="6.3" height="1"/><rect x="24.4" y="253" width="2.6" height="1"/><rect x="25.0" y="254" width="2.0" height="1"/><rect x="22.6" y="255" width="4.8" height="1"/><rect x="26.2" y="256" width="0.5" height="1"/><rect x="26.3" y="257" width="1.0" height="1"/><rect x="26.8" y="258" width="3.0" height="1"/><rect x="23.2" y="259" width="9.3" height="1"/><rect x="23.7" y="260" width="7.6" height="1"/><rect x="29.7" y="261" width="8.2" height="1"/><rect x="30.4" y="262" width="4.9" height="1"/><rect x="28.1" y="263" width="6.0" height="1"/><rect x="26.5" y="264" width="6.7" height="1"/><rect x="28.5" y="265" width="7.0" height="1"/><rect x="33.6" y="266" width="4.2" height="1"/><rect x="18.4" y="267" width="7.7" height="1"/><rect x="22.2" y="268" width="5.9" height="1"/><rect x="22.0" y="269" width="6.7" height="1"/><rect x="22.7" y="270" width="4.9" height="1"/><rect x="22.8" y="271" width="6.1" height="1"/><rect x="28.2" y="272" width="1.8" height="1"/><rect x="29.7" y="273" width="1.4" height="1"/><rect x="27.3" y="274" width="7.2" height="1"/><rect x="28.4" y="275" width="8.5" height="1"/><rect x="32.7" y="276" width="3.8" height="1"/><rect x="28.4" y="277" width="9.7" height="1"/><rect x="35.5" y="278" width="0.4" height="1"/><rect x="33.6" y="279" width="6.2" height="1"/><rect x="31.5" y="280" width="7.9" height="1"/><rect x="33.7" y="281" width="6.0" height="1"/><rect x="23.6" y="282" width="5.8" height="1"/><rect x="23.5" y="283" width="9.8" height="1"/><rect x="27.5" y="284" width="3.6" height="1"/><rect x="29.9" y="285" width="0.2" height="1"/><rect x="26.6" y="286" width="3.7" height="1"/><rect x="29.4" y="287" width="5.4" height="1"/><rect x="28.9" y="288" width="6.7" height="1"/><rect x="33.0" y="289" width="2.0" height="1"/><rect x="29.1" y="290" width="7.4" height="1"/><rect x="28.6" y="291" width="7.3" height="1"/><rect x="35.2" y="292" width="4.6" height="1"/><rect x="33.2" y="293" width="4.5" height="1"/><rect x="30.3" y="294" width="9.1" height="1"/><rect x="31.2" y="295" width="9.2" height="1"/><rect x="38.4" y="296" width="1.2" height="1"/><rect x="36.5" y="297" width="5.3" height="1"/><rect x="36.9" y="298" width="4.4" height="1"/><rect x="35.6" y="299" width="8.4" height="1"/><rect x="36.4" y="300" width="4.0" height="1"/><rect x="33.8" y="301" width="6.9" height="1"/><rect x="35.0" y="302" width="8.1" height="1"/><rect x="37.9" y="303" width="5.6" height="1"/><rect x="39.7" y="304" width="4.3" height="1"/><rect x="21.1" y="305" width="2.2" height="1"/><rect x="18.8" y="306" width="5.9" height="1"/><rect x="19.9" y="307" width="5.9" height="1"/><rect x="18.8" y="308" width="12.1" height="1"/><rect x="20.5" y="309" width="5.5" height="1"/><rect x="24.6" y="310" width="2.0" height="1"/><rect x="23.6" y="311" width="5.0" height="1"/><rect x="25.7" y="312" width="4.1" height="1"/><rect x="28.2" y="313" width="1.1" height="1"/><rect x="26.8" y="314" width="6.4" height="1"/><rect x="27.2" y="315" width="3.8" height="1"/><rect x="30.1" y="316" width="4.4" height="1"/><rect x="32.6" y="317" width="0.0" height="1"/><rect x="27.2" y="318" width="9.6" height="1"/><rect x="30.1" y="319" width="5.3" height="1"/><rect x="33.8" y="320" width="2.6" height="1"/><rect x="31.8" y="321" width="5.5" height="1"/><rect x="35.8" y="322" width="4.2" height="1"/><rect x="17.1" y="323" width="6.7" height="1"/><rect x="20.9" y="324" width="2.8" height="1"/><rect x="21.3" y="325" width="3.9" height="1"/><rect x="17.9" y="326" width="7.6" height="1"/><rect x="23.9" y="327" width="3.6" height="1"/><rect x="22.7" y="328" width="2.5" height="1"/><rect x="24.0" y="329" width="2.0" height="1"/><rect x="22.0" y="330" width="5.5" height="1"/><rect x="26.4" y="331" width="2.1" height="1"/><rect x="25.4" y="332" width="6.4" height="1"/><rect x="27.6" y="333" width="2.1" height="1"/><rect x="27.6" y="334" width="8.1" height="1"/><rect x="27.3" y="335" width="7.1" height="1"/><rect x="25.6" y="336" width="9.6" height="1"/><rect x="30.3" y="337" width="2.4" height="1"/><rect x="30.5" y="338" width="2.8" height="1"/><rect x="30.2" y="339" width="5.8" height="1"/><rect x="28.9" y="340" width="6.9" height="1"/><rect x="36.2" y="341" width="5.4" height="1"/><rect x="33.8" y="342" width="3.9" height="1"/><rect x="33.3" y="343" width="7.2" height="1"/><rect x="24.8" y="344" width="2.6" height="1"/><rect x="20.3" y="345" width="9.5" height="1"/><rect x="25.2" y="346" width="5.3" height="1"/><rect x="24.6" y="347" width="6.5" height="1"/><rect x="27.0" y="348" width="1.4" height="1"/><rect x="23.1" y="349" width="6.2" height="1"/><rect x="24.2" y="350" width="6.1" height="1"/><rect x="26.2" y="351" width="5.9" height="1"/><rect x="29.1" y="352" width="4.6" height="1"/><rect x="25.7" y="353" width="6.8" height="1"/><rect x="25.9" y="354" width="8.0" height="1"/><rect x="28.6" y="355" width="4.8" height="1"/><rect x="28.6" y="356" width="7.4" height="1"/><rect x="28.7" y="357" width="5.6" height="1"/><rect x="34.1" y="358" width="2.3" height="1"/><rect x="33.1" y="359" width="5.5" height="1"/><rect x="30.3" y="360" width="10.4" height="1"/><rect x="33.4" y="361" width="6.4" height="1"/><rect x="35.4" y="362" width="1.9" height="1"/><rect x="33.7" y="363" width="4.1" height="1"/><rect x="38.1" y="364" width="3.6" height="1"/><rect x="33.9" y="365" width="5.1" height="1"/><rect x="36.2" y="366" width="6.7" height="1"/><rect x="34.0" y="367" width="5.6" height="1"/><rect x="34.0" y="368" width="6.4" height="1"/><rect x="38.2" y="369" width="5.8" height="1"/><rect x="34.7" y="370" width="5.3" height="1"/><rect x="18.6" y="371" width="1.2" height="1"/><rect x="17.4" y="372" width="2.3" height="1"/><rect x="15.3" y="373" width="5.5" height="1"/><rect x="17.5" y="374" width="6.5" height="1"/><rect x="18.0" y="375" width="4.1" height="1"/><rect x="17.1" y="376" width="7.9" height="1"/><rect x="18.6" y="377" width="8.9" height="1"/><rect x="24.1" y="378" width="5.7" height="1"/><rect x="23.1" y="379" width="2.9" height="1"/><rect x="21.6" y="380" width="3.9" height="1"/><rect x="24.5" y="381" width="4.2" height="1"/><rect x="16.3" y="382" width="6.2" height="1"/><rect x="21.0" y="383" width="3.8" height="1"/><rect x="16.9" y="384" width="6.4" height="1"/><rect x="18.9" y="385" width="5.5" height="1"/><rect x="17.9" y="386" width="7.4" height="1"/><rect x="22.2" y="387" width="3.1" height="1"/><rect x="20.4" y="388" width="5.4" height="1"/><rect x="22.3" y="389" width="6.7" height="1"/><rect x="24.1" y="390" width="9.3" height="1"/><rect x="26.5" y="391" width="5.3" height="1"/><rect x="25.9" y="392" width="3.4" height="1"/><rect x="26.6" y="393" width="5.0" height="1"/><rect x="28.1" y="394" width="2.9" height="1"/><rect x="23.6" y="395" width="8.2" height="1"/><rect x="24.2" y="396" width="9.4" height="1"/><rect x="30.1" y="397" width="0.7" height="1"/><rect x="30.8" y="398" width="4.1" height="1"/><rect x="31.8" y="399" width="3.1" height="1"/><rect x="32.3" y="400" width="0.0" height="1"/><rect x="32.5" y="401" width="1.6" height="1"/><rect x="28.3" y="402" width="6.7" height="1"/><rect x="33.9" y="403" width="6.8" height="1"/><rect x="30.6" y="404" width="3.9" height="1"/><rect x="29.3" y="405" width="8.8" height="1"/><rect x="30.7" y="406" width="13.2" height="1"/><rect x="31.1" y="407" width="8.5" height="1"/><rect x="35.4" y="408" width="5.1" height="1"/><rect x="34.8" y="409" width="3.3" height="1"/><rect x="13.9" y="410" width="4.0" height="1"/><rect x="10.2" y="411" width="5.9" height="1"/><rect x="8.6" y="412" width="8.7" height="1"/><rect x="13.8" y="413" width="3.0" height="1"/><rect x="13.9" y="414" width="2.0" height="1"/><rect x="10.8" y="415" width="4.5" height="1"/><rect x="12.6" y="416" width="4.8" height="1"/><rect x="12.6" y="417" width="6.0" height="1"/><rect x="15.1" y="418" width="0.5" height="1"/><rect x="15.2" y="419" width="3.1" height="1"/><rect x="15.0" y="420" width="1.8" height="1"/><rect x="10.4" y="421" width="10.5" height="1"/><rect x="13.7" y="422" width="4.9" height="1"/><rect x="10.9" y="423" width="11.8" height="1"/><rect x="12.0" y="424" width="5.2" height="1"/><rect x="9.8" y="425" width="7.3" height="1"/><rect x="12.4" y="426" width="4.0" height="1"/><rect x="16.2" y="427" width="1.4" height="1"/><rect x="16.1" y="428" width="1.1" height="1"/><rect x="16.4" y="429" width="2.7" height="1"/><rect x="17.2" y="430" width="8.3" height="1"/><rect x="21.6" y="431" width="1.1" height="1"/><rect x="22.5" y="432" width="4.6" height="1"/><rect x="23.7" y="433" width="2.2" height="1"/><rect x="19.1" y="434" width="9.0" height="1"/><rect x="21.2" y="435" width="7.5" height="1"/><rect x="27.1" y="436" width="3.1" height="1"/><rect x="24.1" y="437" width="4.4" height="1"/><rect x="26.4" y="438" width="5.6" height="1"/><rect x="26.7" y="439" width="5.7" height="1"/><rect x="25.5" y="440" width="7.4" height="1"/><rect x="23.5" y="441" width="7.0" height="1"/><rect x="30.1" y="442" width="0.9" height="1"/><rect x="24.8" y="443" width="7.3" height="1"/><rect x="27.7" y="444" width="6.9" height="1"/><rect x="25.5" y="445" width="7.1" height="1"/><rect x="25.7" y="446" width="7.1" height="1"/><rect x="31.4" y="447" width="1.8" height="1"/><rect x="27.8" y="448" width="6.6" height="1"/><rect x="31.0" y="449" width="2.2" height="1"/><rect x="30.5" y="450" width="5.0" height="1"/><rect x="30.7" y="451" width="4.2" height="1"/><rect x="27.8" y="452" width="8.6" height="1"/><rect x="31.0" y="453" width="9.3" height="1"/><rect x="31.1" y="454" width="3.8" height="1"/><rect x="15.4" y="455" width="3.4" height="1"/><rect x="13.5" y="456" width="3.1" height="1"/><rect x="11.1" y="457" width="9.3" height="1"/><rect x="13.8" y="458" width="2.6" height="1"/><rect x="8.8" y="459" width="7.9" height="1"/><rect x="5.9" y="460" width="9.0" height="1"/><rect x="9.1" y="461" width="6.2" height="1"/><rect x="12.0" y="462" width="2.5" height="1"/><rect x="11.5" y="463" width="1.9" height="1"/><rect x="10.1" y="464" width="4.2" height="1"/><rect x="12.3" y="465" width="2.7" height="1"/><rect x="9.1" y="466" width="4.1" height="1"/><rect x="12.7" y="467" width="2.8" height="1"/><rect x="7.8" y="468" width="6.1" height="1"/><rect x="11.5" y="469" width="6.2" height="1"/><rect x="10.5" y="470" width="5.8" height="1"/><rect x="9.4" y="471" width="6.6" height="1"/><rect x="12.1" y="472" width="2.6" height="1"/><rect x="10.8" y="473" width="7.0" height="1"/><rect x="12.6" y="474" width="3.6" height="1"/><rect x="12.8" y="475" width="7.1" height="1"/><rect x="11.8" y="476" width="5.5" height="1"/><rect x="14.2" y="477" width="4.1" height="1"/><rect x="15.9" y="478" width="2.6" height="1"/><rect x="13.5" y="479" width="6.3" height="1"/><rect x="14.6" y="480" width="4.4" height="1"/><rect x="15.8" y="481" width="4.2" height="1"/><rect x="14.2" y="482" width="9.3" height="1"/><rect x="17.3" y="483" width="7.0" height="1"/><rect x="19.2" y="484" width="5.6" height="1"/><rect x="19.6" y="485" width="3.9" height="1"/><rect x="20.6" y="486" width="4.9" height="1"/><rect x="20.1" y="487" width="6.2" height="1"/><rect x="23.9" y="488" width="4.1" height="1"/><rect x="19.6" y="489" width="5.3" height="1"/><rect x="22.6" y="490" width="6.2" height="1"/><rect x="24.2" y="491" width="2.1" height="1"/><rect x="22.9" y="492" width="6.8" height="1"/><rect x="27.2" y="493" width="4.6" height="1"/><rect x="21.1" y="494" width="8.8" height="1"/><rect x="27.5" y="495" width="2.8" height="1"/><rect x="22.4" y="496" width="7.1" height="1"/><rect x="26.2" y="497" width="4.9" height="1"/><rect x="26.9" y="498" width="4.2" height="1"/><rect x="26.2" y="499" width="6.3" height="1"/><rect x="18.8" y="500" width="1.4" height="1"/><rect x="13.1" y="501" width="8.6" height="1"/><rect x="15.5" y="502" width="5.5" height="1"/><rect x="15.8" y="503" width="4.7" height="1"/><rect x="13.0" y="504" width="7.3" height="1"/><rect x="16.6" y="505" width="2.9" height="1"/><rect x="16.7" y="506" width="5.9" height="1"/><rect x="19.7" y="507" width="0.1" height="1"/><rect x="17.2" y="508" width="4.5" height="1"/><rect x="18.3" y="509" width="4.8" height="1"/><rect x="15.2" y="510" width="6.6" height="1"/><rect x="16.4" y="511" width="6.2" height="1"/><rect x="19.6" y="512" width="1.5" height="1"/><rect x="14.9" y="513" width="6.7" height="1"/><rect x="13.3" y="514" width="12.3" height="1"/><rect x="17.4" y="515" width="7.5" height="1"/><rect x="14.4" y="516" width="6.9" height="1"/><rect x="14.9" y="517" width="8.8" height="1"/><rect x="13.5" y="518" width="8.2" height="1"/><rect x="15.2" y="519" width="6.3" height="1"/><rect x="15.5" y="520" width="5.9" height="1"/><rect x="16.8" y="521" width="6.0" height="1"/><rect x="17.2" y="522" width="4.2" height="1"/><rect x="15.6" y="523" width="8.4" height="1"/><rect x="14.3" y="524" width="8.7" height="1"/><rect x="19.2" y="525" width="2.8" height="1"/><rect x="17.0" y="526" width="9.7" height="1"/><rect x="18.8" y="527" width="4.3" height="1"/><rect x="16.7" y="528" width="7.9" height="1"/><rect x="15.6" y="529" width="8.4" height="1"/><rect x="17.8" y="530" width="3.3" height="1"/><rect x="14.7" y="531" width="6.7" height="1"/></g>
<g fill="#1c1c1c"><rect x="9.7" y="65" width="36.1" height="1"/><rect x="9.9" y="66" width="35.9" height="1"/><rect x="12.3" y="67" width="33.5" height="1"/><rect x="8.4" y="68" width="37.4" height="1"/><rect x="11.6" y="69" width="34.2" height="1"/><rect x="10.6" y="70" width="35.2" height="1"/><rect x="11.5" y="71" width="34.3" height="1"/><rect x="10.1" y="72" width="35.7" height="1"/><rect x="11.4" y="73" width="34.4" height="1"/><rect x="11.2" y="74" width="34.6" height="1"/><rect x="21.2" y="75" width="24.6" height="1"/><rect x="20.5" y="76" width="25.3" height="1"/><rect x="19.8" y="77" width="26.0" height="1"/><rect x="22.4" y="78" width="23.4" height="1"/><rect x="26.7" y="79" width="19.1" height="1"/><rect x="30.2" y="80" width="15.6" height="1"/><rect x="29.0" y="81" width="16.8" height="1"/><rect x="28.4" y="82" width="17.4" height="1"/><rect x="29.5" y="83" width="16.3" height="1"/><rect x="31.4" y="84" width="14.4" height="1"/><rect x="34.9" y="85" width="10.9" height="1"/><rect x="30.5" y="86" width="15.3" height="1"/><rect x="30.7" y="87" width="15.1" height="1"/><rect x="32.1" y="88" width="13.7" height="1"/><rect x="33.4" y="89" width="12.4" height="1"/><rect x="30.2" y="90" width="15.6" height="1"/><rect x="31.3" y="91" width="14.5" height="1"/><rect x="33.7" y="92" width="12.1" height="1"/><rect x="30.0" y="93" width="15.8" height="1"/><rect x="33.9" y="94" width="11.9" height="1"/><rect x="38.4" y="95" width="7.4" height="1"/><rect x="36.3" y="96" width="9.5" height="1"/><rect x="31.1" y="97" width="14.7" height="1"/><rect x="32.7" y="98" width="13.1" height="1"/><rect x="34.3" y="99" width="11.5" height="1"/><rect x="32.2" y="100" width="13.6" height="1"/><rect x="34.9" y="101" width="10.9" height="1"/><rect x="33.1" y="102" width="12.7" height="1"/><rect x="32.8" y="103" width="13.0" height="1"/><rect x="33.9" y="104" width="11.9" height="1"/><rect x="34.5" y="105" width="11.3" height="1"/><rect x="33.1" y="106" width="12.7" height="1"/><rect x="32.2" y="107" width="13.6" height="1"/><rect x="35.7" y="108" width="10.1" height="1"/><rect x="34.0" y="109" width="11.8" height="1"/><rect x="36.2" y="110" width="9.6" height="1"/><rect x="33.9" y="111" width="11.9" height="1"/><rect x="36.2" y="112" width="9.6" height="1"/><rect x="35.0" y="113" width="10.8" height="1"/><rect x="35.9" y="114" width="9.9" height="1"/><rect x="39.3" y="115" width="6.5" height="1"/><rect x="35.7" y="116" width="10.1" height="1"/><rect x="35.7" y="117" width="10.1" height="1"/><rect x="34.6" y="118" width="11.2" height="1"/><rect x="34.5" y="119" width="11.3" height="1"/><rect x="37.7" y="120" width="8.1" height="1"/><rect x="35.1" y="121" width="10.7" height="1"/><rect x="41.0" y="122" width="4.8" height="1"/><rect x="38.0" y="123" width="7.8" height="1"/><rect x="29.6" y="124" width="16.2" height="1"/><rect x="29.5" y="125" width="16.3" height="1"/><rect x="30.6" y="126" width="15.2" height="1"/><rect x="33.8" y="127" width="12.0" height="1"/><rect x="29.0" y="128" width="16.8" height="1"/><rect x="29.8" y="129" width="16.0" height="1"/><rect x="31.8" y="130" width="14.0" height="1"/><rect x="36.3" y="131" width="9.5" height="1"/><rect x="31.6" y="132" width="14.2" height="1"/><rect x="34.5" y="133" width="11.3" height="1"/><rect x="30.7" y="134" width="15.1" height="1"/><rect x="30.4" y="135" width="15.4" height="1"/><rect x="30.5" y="136" width="15.3" height="1"/><rect x="30.3" y="137" width="15.5" height="1"/><rect x="31.5" y="138" width="14.3" height="1"/><rect x="30.1" y="139" width="15.7" height="1"/><rect x="31.1" y="140" width="14.7" height="1"/><rect x="31.5" y="141" width="14.3" height="1"/><rect x="30.4" y="142" width="15.4" height="1"/><rect x="31.5" y="143" width="14.3" height="1"/><rect x="34.3" y="144" width="11.5" height="1"/><rect x="35.1" y="145" width="10.7" height="1"/><rect x="35.7" y="146" width="10.1" height="1"/><rect x="33.0" y="147" width="12.8" height="1"/><rect x="33.1" y="148" width="12.7" height="1"/><rect x="33.5" y="149" width="12.3" height="1"/><rect x="34.5" y="150" width="11.3" height="1"/><rect x="35.8" y="151" width="10.0" height="1"/><rect x="36.4" y="152" width="9.4" height="1"/><rect x="33.7" y="153" width="12.1" height="1"/><rect x="35.3" y="154" width="10.5" height="1"/><rect x="35.7" y="155" width="10.1" height="1"/><rect x="37.2" y="156" width="8.6" height="1"/><rect x="34.2" y="157" width="11.6" height="1"/><rect x="40.5" y="158" width="5.3" height="1"/><rect x="36.9" y="159" width="8.9" height="1"/><rect x="36.2" y="160" width="9.6" height="1"/><rect x="43.1" y="161" width="2.7" height="1"/><rect x="43.2" y="162" width="2.6" height="1"/><rect x="36.9" y="163" width="8.9" height="1"/><rect x="35.5" y="164" width="10.3" height="1"/><rect x="34.7" y="165" width="11.1" height="1"/><rect x="34.4" y="166" width="11.4" height="1"/><rect x="39.8" y="167" width="6.0" height="1"/><rect x="35.3" y="168" width="10.5" height="1"/><rect x="34.7" y="169" width="11.1" height="1"/><rect x="37.1" y="170" width="8.7" height="1"/><rect x="35.9" y="171" width="9.9" height="1"/><rect x="37.6" y="172" width="8.2" height="1"/><rect x="35.0" y="173" width="10.8" height="1"/><rect x="34.1" y="174" width="11.7" height="1"/><rect x="35.8" y="175" width="10.0" height="1"/><rect x="34.7" y="176" width="11.1" height="1"/><rect x="36.4" y="177" width="9.4" height="1"/><rect x="34.1" y="178" width="11.7" height="1"/><rect x="34.6" y="179" width="11.2" height="1"/><rect x="37.7" y="180" width="8.1" height="1"/><rect x="35.5" y="181" width="10.3" height="1"/><rect x="37.0" y="182" width="8.8" height="1"/><rect x="36.0" y="183" width="9.8" height="1"/><rect x="38.8" y="184" width="7.0" height="1"/><rect x="37.5" y="185" width="8.3" height="1"/><rect x="35.1" y="186" width="10.7" height="1"/><rect x="37.5" y="187" width="8.3" height="1"/><rect x="35.4" y="188" width="10.4" height="1"/><rect x="38.9" y="189" width="6.9" height="1"/><rect x="35.9" y="190" width="9.9" height="1"/><rect x="37.5" y="191" width="8.3" height="1"/><rect x="40.0" y="192" width="5.8" height="1"/><rect x="36.7" y="193" width="9.1" height="1"/><rect x="38.5" y="194" width="7.3" height="1"/><rect x="42.0" y="195" width="3.8" height="1"/><rect x="38.7" y="196" width="7.1" height="1"/><rect x="37.1" y="197" width="8.7" height="1"/><rect x="35.8" y="198" width="10.0" height="1"/><rect x="39.6" y="199" width="6.2" height="1"/><rect x="39.5" y="200" width="6.3" height="1"/><rect x="36.9" y="201" width="8.9" height="1"/><rect x="37.3" y="202" width="8.5" height="1"/><rect x="37.7" y="203" width="8.1" height="1"/><rect x="44.0" y="204" width="1.8" height="1"/><rect x="39.0" y="205" width="6.8" height="1"/><rect x="37.1" y="206" width="8.7" height="1"/><rect x="39.7" y="207" width="6.1" height="1"/><rect x="41.4" y="208" width="4.4" height="1"/><rect x="39.7" y="209" width="6.1" height="1"/><rect x="37.4" y="210" width="8.4" height="1"/><rect x="37.7" y="211" width="8.1" height="1"/><rect x="38.3" y="212" width="7.5" height="1"/><rect x="44.0" y="213" width="1.8" height="1"/><rect x="33.0" y="214" width="12.8" height="1"/><rect x="32.9" y="215" width="12.9" height="1"/><rect x="34.4" y="216" width="11.4" height="1"/><rect x="33.0" y="217" width="12.8" height="1"/><rect x="34.9" y="218" width="10.9" height="1"/><rect x="32.7" y="219" width="13.1" height="1"/><rect x="34.2" y="220" width="11.6" height="1"/><rect x="34.9" y="221" width="10.9" height="1"/><rect x="32.9" y="222" width="12.9" height="1"/><rect x="33.6" y="223" width="12.2" height="1"/><rect x="33.4" y="224" width="12.4" height="1"/><rect x="35.2" y="225" width="10.6" height="1"/><rect x="33.0" y="226" width="12.8" height="1"/><rect x="34.9" y="227" width="10.9" height="1"/><rect x="36.5" y="228" width="9.3" height="1"/><rect x="34.8" y="229" width="11.0" height="1"/><rect x="34.0" y="230" width="11.8" height="1"/><rect x="36.7" y="231" width="9.1" height="1"/><rect x="39.1" y="232" width="6.7" height="1"/><rect x="35.9" y="233" width="9.9" height="1"/><rect x="36.1" y="234" width="9.7" height="1"/><rect x="35.9" y="235" width="9.9" height="1"/><rect x="39.4" y="236" width="6.4" height="1"/><rect x="38.1" y="237" width="7.7" height="1"/><rect x="42.7" y="238" width="3.1" height="1"/><rect x="37.6" y="239" width="8.2" height="1"/><rect x="39.3" y="240" width="6.5" height="1"/><rect x="35.8" y="241" width="10.0" height="1"/><rect x="36.6" y="242" width="9.2" height="1"/><rect x="39.6" y="243" width="6.2" height="1"/><rect x="37.0" y="244" width="8.8" height="1"/><rect x="36.8" y="245" width="9.0" height="1"/><rect x="37.4" y="246" width="8.4" height="1"/><rect x="39.9" y="247" width="5.9" height="1"/><rect x="37.1" y="248" width="8.7" height="1"/><rect x="38.9" y="249" width="6.9" height="1"/><rect x="39.7" y="250" width="6.1" height="1"/><rect x="23.0" y="251" width="22.8" height="1"/><rect x="26.1" y="252" width="19.7" height="1"/><rect x="27.0" y="253" width="18.8" height="1"/><rect x="27.0" y="254" width="18.8" height="1"/><rect x="27.4" y="255" width="18.4" height="1"/><rect x="26.7" y="256" width="19.1" height="1"/><rect x="27.3" y="257" width="18.5" height="1"/><rect x="29.8" y="258" width="16.0" height="1"/><rect x="32.5" y="259" width="13.3" height="1"/><rect x="31.4" y="260" width="14.4" height="1"/><rect x="37.9" y="261" width="7.9" height="1"/><rect x="35.2" y="262" width="10.6" height="1"/><rect x="34.0" y="263" width="11.8" height="1"/><rect x="33.2" y="264" width="12.6" height="1"/><rect x="35.5" y="265" width="10.3" height="1"/><rect x="37.8" y="266" width="8.0" height="1"/><rect x="26.1" y="267" width="19.7" height="1"/><rect x="28.1" y="268" width="17.7" height="1"/><rect x="28.7" y="269" width="17.1" height="1"/><rect x="27.6" y="270" width="18.2" height="1"/><rect x="28.9" y="271" width="16.9" height="1"/><rect x="30.1" y="272" width="15.7" height="1"/><rect x="31.1" y="273" width="14.7" height="1"/><rect x="34.5" y="274" width="11.3" height="1"/><rect x="36.9" y="275" width="8.9" height="1"/><rect x="36.5" y="276" width="9.3" height="1"/><rect x="38.2" y="277" width="7.6" height="1"/><rect x="35.9" y="278" width="9.9" height="1"/><rect x="39.8" y="279" width="6.0" height="1"/><rect x="39.4" y="280" width="6.4" height="1"/><rect x="39.7" y="281" width="6.1" height="1"/><rect x="29.4" y="282" width="16.4" height="1"/><rect x="33.2" y="283" width="12.6" height="1"/><rect x="31.1" y="284" width="14.7" height="1"/><rect x="30.1" y="285" width="15.7" height="1"/><rect x="30.4" y="286" width="15.4" height="1"/><rect x="34.7" y="287" width="11.1" height="1"/><rect x="35.6" y="288" width="10.2" height="1"/><rect x="35.0" y="289" width="10.8" height="1"/><rect x="36.6" y="290" width="9.2" height="1"/><rect x="35.9" y="291" width="9.9" height="1"/><rect x="39.9" y="292" width="5.9" height="1"/><rect x="37.8" y="293" width="8.0" height="1"/><rect x="39.4" y="294" width="6.4" height="1"/><rect x="40.4" y="295" width="5.4" height="1"/><rect x="39.6" y="296" width="6.2" height="1"/><rect x="41.7" y="297" width="4.1" height="1"/><rect x="41.3" y="298" width="4.5" height="1"/><rect x="44.0" y="299" width="1.8" height="1"/><rect x="40.4" y="300" width="5.4" height="1"/><rect x="40.7" y="301" width="5.1" height="1"/><rect x="43.1" y="302" width="2.7" height="1"/><rect x="43.5" y="303" width="2.3" height="1"/><rect x="44.0" y="304" width="1.8" height="1"/><rect x="23.3" y="305" width="22.5" height="1"/><rect x="24.6" y="306" width="21.2" height="1"/><rect x="25.9" y="307" width="19.9" height="1"/><rect x="30.9" y="308" width="14.9" height="1"/><rect x="26.0" y="309" width="19.8" height="1"/><rect x="26.6" y="310" width="19.2" height="1"/><rect x="28.6" y="311" width="17.2" height="1"/><rect x="29.9" y="312" width="15.9" height="1"/><rect x="29.3" y="313" width="16.5" height="1"/><rect x="33.2" y="314" width="12.6" height="1"/><rect x="30.9" y="315" width="14.9" height="1"/><rect x="34.4" y="316" width="11.4" height="1"/><rect x="32.3" y="317" width="13.5" height="1"/><rect x="36.8" y="318" width="9.0" height="1"/><rect x="35.4" y="319" width="10.4" height="1"/><rect x="36.3" y="320" width="9.5" height="1"/><rect x="37.3" y="321" width="8.5" height="1"/><rect x="40.0" y="322" width="5.8" height="1"/><rect x="23.8" y="323" width="22.0" height="1"/><rect x="23.6" y="324" width="22.2" height="1"/><rect x="25.1" y="325" width="20.7" height="1"/><rect x="25.5" y="326" width="20.3" height="1"/><rect x="27.4" y="327" width="18.4" height="1"/><rect x="25.2" y="328" width="20.6" height="1"/><rect x="26.0" y="329" width="19.8" height="1"/><rect x="27.5" y="330" width="18.3" height="1"/><rect x="28.5" y="331" width="17.3" height="1"/><rect x="31.8" y="332" width="14.0" height="1"/><rect x="29.8" y="333" width="16.0" height="1"/><rect x="35.7" y="334" width="10.1" height="1"/><rect x="34.4" y="335" width="11.4" height="1"/><rect x="35.2" y="336" width="10.6" height="1"/><rect x="32.7" y="337" width="13.1" height="1"/><rect x="33.3" y="338" width="12.5" height="1"/><rect x="36.0" y="339" width="9.8" height="1"/><rect x="35.8" y="340" width="10.0" height="1"/><rect x="41.6" y="341" width="4.2" height="1"/><rect x="37.7" y="342" width="8.1" height="1"/><rect x="40.5" y="343" width="5.3" height="1"/><rect x="27.4" y="344" width="18.4" height="1"/><rect x="29.8" y="345" width="16.0" height="1"/><rect x="30.6" y="346" width="15.2" height="1"/><rect x="31.0" y="347" width="14.8" height="1"/><rect x="28.4" y="348" width="17.4" height="1"/><rect x="29.3" y="349" width="16.5" height="1"/><rect x="30.3" y="350" width="15.5" height="1"/><rect x="32.1" y="351" width="13.7" height="1"/><rect x="33.7" y="352" width="12.1" height="1"/><rect x="32.5" y="353" width="13.3" height="1"/><rect x="33.8" y="354" width="12.0" height="1"/><rect x="33.4" y="355" width="12.4" height="1"/><rect x="35.9" y="356" width="9.9" height="1"/><rect x="34.3" y="357" width="11.5" height="1"/><rect x="36.4" y="358" width="9.4" height="1"/><rect x="38.6" y="359" width="7.2" height="1"/><rect x="40.7" y="360" width="5.1" height="1"/><rect x="39.8" y="361" width="6.0" height="1"/><rect x="37.3" y="362" width="8.5" height="1"/><rect x="37.8" y="363" width="8.0" height="1"/><rect x="41.7" y="364" width="4.1" height="1"/><rect x="39.1" y="365" width="6.7" height="1"/><rect x="42.9" y="366" width="2.9" height="1"/><rect x="39.6" y="367" width="6.2" height="1"/><rect x="40.4" y="368" width="5.4" height="1"/><rect x="44.0" y="369" width="1.8" height="1"/><rect x="40.0" y="370" width="5.8" height="1"/><rect x="19.8" y="371" width="26.0" height="1"/><rect x="19.7" y="372" width="26.1" height="1"/><rect x="20.7" y="373" width="25.1" height="1"/><rect x="24.0" y="374" width="21.8" height="1"/><rect x="22.1" y="375" width="23.7" height="1"/><rect x="25.0" y="376" width="20.8" height="1"/><rect x="27.5" y="377" width="18.3" height="1"/><rect x="29.7" y="378" width="16.1" height="1"/><rect x="26.0" y="379" width="19.8" height="1"/><rect x="25.5" y="380" width="20.3" height="1"/><rect x="28.7" y="381" width="17.1" height="1"/><rect x="22.5" y="382" width="23.3" height="1"/><rect x="24.7" y="383" width="21.1" height="1"/><rect x="23.2" y="384" width="22.6" height="1"/><rect x="24.3" y="385" width="21.5" height="1"/><rect x="25.3" y="386" width="20.5" height="1"/><rect x="25.3" y="387" width="20.5" height="1"/><rect x="25.8" y="388" width="20.0" height="1"/><rect x="29.1" y="389" width="16.7" height="1"/><rect x="33.4" y="390" width="12.4" height="1"/><rect x="31.8" y="391" width="14.0" height="1"/><rect x="29.2" y="392" width="16.6" height="1"/><rect x="31.6" y="393" width="14.2" height="1"/><rect x="31.0" y="394" width="14.8" height="1"/><rect x="31.8" y="395" width="14.0" height="1"/><rect x="33.7" y="396" width="12.1" height="1"/><rect x="30.8" y="397" width="15.0" height="1"/><rect x="34.9" y="398" width="10.9" height="1"/><rect x="34.9" y="399" width="10.9" height="1"/><rect x="32.3" y="400" width="13.5" height="1"/><rect x="34.1" y="401" width="11.7" height="1"/><rect x="35.0" y="402" width="10.8" height="1"/><rect x="40.7" y="403" width="5.1" height="1"/><rect x="34.5" y="404" width="11.3" height="1"/><rect x="38.1" y="405" width="7.7" height="1"/><rect x="43.9" y="406" width="1.9" height="1"/><rect x="39.6" y="407" width="6.2" height="1"/><rect x="40.4" y="408" width="5.4" height="1"/><rect x="38.1" y="409" width="7.7" height="1"/><rect x="18.0" y="410" width="27.8" height="1"/><rect x="16.1" y="411" width="29.7" height="1"/><rect x="17.3" y="412" width="28.5" height="1"/><rect x="16.8" y="413" width="29.0" height="1"/><rect x="15.8" y="414" width="30.0" height="1"/><rect x="15.4" y="415" width="30.4" height="1"/><rect x="17.4" y="416" width="28.4" height="1"/><rect x="18.6" y="417" width="27.2" height="1"/><rect x="15.6" y="418" width="30.2" height="1"/><rect x="18.3" y="419" width="27.5" height="1"/><rect x="16.8" y="420" width="29.0" height="1"/><rect x="20.9" y="421" width="24.9" height="1"/><rect x="18.6" y="422" width="27.2" height="1"/><rect x="22.7" y="423" width="23.1" height="1"/><rect x="17.2" y="424" width="28.6" height="1"/><rect x="17.1" y="425" width="28.7" height="1"/><rect x="16.4" y="426" width="29.4" height="1"/><rect x="17.7" y="427" width="28.1" height="1"/><rect x="17.2" y="428" width="28.6" height="1"/><rect x="19.1" y="429" width="26.7" height="1"/><rect x="25.5" y="430" width="20.3" height="1"/><rect x="22.7" y="431" width="23.1" height="1"/><rect x="27.1" y="432" width="18.7" height="1"/><rect x="25.9" y="433" width="19.9" height="1"/><rect x="28.1" y="434" width="17.7" height="1"/><rect x="28.8" y="435" width="17.0" height="1"/><rect x="30.2" y="436" width="15.6" height="1"/><rect x="28.5" y="437" width="17.3" height="1"/><rect x="32.0" y="438" width="13.8" height="1"/><rect x="32.4" y="439" width="13.4" height="1"/><rect x="32.9" y="440" width="12.9" height="1"/><rect x="30.5" y="441" width="15.3" height="1"/><rect x="31.0" y="442" width="14.8" height="1"/><rect x="32.0" y="443" width="13.8" height="1"/><rect x="34.7" y="444" width="11.1" height="1"/><rect x="32.6" y="445" width="13.2" height="1"/><rect x="32.9" y="446" width="12.9" height="1"/><rect x="33.1" y="447" width="12.7" height="1"/><rect x="34.5" y="448" width="11.3" height="1"/><rect x="33.1" y="449" width="12.7" height="1"/><rect x="35.5" y="450" width="10.3" height="1"/><rect x="35.0" y="451" width="10.8" height="1"/><rect x="36.4" y="452" width="9.4" height="1"/><rect x="40.3" y="453" width="5.5" height="1"/><rect x="34.8" y="454" width="11.0" height="1"/><rect x="18.8" y="455" width="27.0" height="1"/><rect x="16.6" y="456" width="29.2" height="1"/><rect x="20.5" y="457" width="25.3" height="1"/><rect x="16.4" y="458" width="29.4" height="1"/><rect x="16.7" y="459" width="29.1" height="1"/><rect x="15.0" y="460" width="30.8" height="1"/><rect x="15.4" y="461" width="30.4" height="1"/><rect x="14.5" y="462" width="31.3" height="1"/><rect x="13.3" y="463" width="32.5" height="1"/><rect x="14.3" y="464" width="31.5" height="1"/><rect x="15.1" y="465" width="30.7" height="1"/><rect x="13.2" y="466" width="32.6" height="1"/><rect x="15.5" y="467" width="30.3" height="1"/><rect x="13.9" y="468" width="31.9" height="1"/><rect x="17.7" y="469" width="28.1" height="1"/><rect x="16.3" y="470" width="29.5" height="1"/><rect x="16.0" y="471" width="29.8" height="1"/><rect x="14.7" y="472" width="31.1" height="1"/><rect x="17.7" y="473" width="28.1" height="1"/><rect x="16.1" y="474" width="29.7" height="1"/><rect x="19.9" y="475" width="25.9" height="1"/><rect x="17.3" y="476" width="28.5" height="1"/><rect x="18.4" y="477" width="27.4" height="1"/><rect x="18.5" y="478" width="27.3" height="1"/><rect x="19.8" y="479" width="26.0" height="1"/><rect x="19.1" y="480" width="26.7" height="1"/><rect x="20.0" y="481" width="25.8" height="1"/><rect x="23.5" y="482" width="22.3" height="1"/><rect x="24.3" y="483" width="21.5" height="1"/><rect x="24.9" y="484" width="20.9" height="1"/><rect x="23.4" y="485" width="22.4" height="1"/><rect x="25.5" y="486" width="20.3" height="1"/><rect x="26.3" y="487" width="19.5" height="1"/><rect x="28.0" y="488" width="17.8" height="1"/><rect x="25.0" y="489" width="20.8" height="1"/><rect x="28.8" y="490" width="17.0" height="1"/><rect x="26.3" y="491" width="19.5" height="1"/><rect x="29.8" y="492" width="16.0" height="1"/><rect x="31.8" y="493" width="14.0" height="1"/><rect x="29.8" y="494" width="16.0" height="1"/><rect x="30.4" y="495" width="15.4" height="1"/><rect x="29.5" y="496" width="16.3" height="1"/><rect x="31.1" y="497" width="14.7" height="1"/><rect x="31.0" y="498" width="14.8" height="1"/><rect x="32.5" y="499" width="13.3" height="1"/><rect x="20.2" y="500" width="25.6" height="1"/><rect x="21.8" y="501" width="24.0" height="1"/><rect x="20.9" y="502" width="24.9" height="1"/><rect x="20.4" y="503" width="25.4" height="1"/><rect x="20.3" y="504" width="25.5" height="1"/><rect x="19.5" y="505" width="26.3" height="1"/><rect x="22.7" y="506" width="23.1" height="1"/><rect x="19.8" y="507" width="26.0" height="1"/><rect x="21.7" y="508" width="24.1" height="1"/><rect x="23.1" y="509" width="22.7" height="1"/><rect x="21.9" y="510" width="23.9" height="1"/><rect x="22.6" y="511" width="23.2" height="1"/><rect x="21.1" y="512" width="24.7" height="1"/><rect x="21.6" y="513" width="24.2" height="1"/><rect x="25.6" y="514" width="20.2" height="1"/><rect x="24.9" y="515" width="20.9" height="1"/><rect x="21.3" y="516" width="24.5" height="1"/><rect x="23.7" y="517" width="22.1" height="1"/><rect x="21.7" y="518" width="24.1" height="1"/><rect x="21.5" y="519" width="24.3" height="1"/><rect x="21.4" y="520" width="24.4" height="1"/><rect x="22.8" y="521" width="23.0" height="1"/><rect x="21.3" y="522" width="24.5" height="1"/><rect x="24.0" y="523" width="21.8" height="1"/><rect x="22.9" y="524" width="22.9" height="1"/><rect x="22.0" y="525" width="23.8" height="1"/><rect x="26.8" y="526" width="19.0" height="1"/><rect x="23.1" y="527" width="22.7" height="1"/><rect x="24.6" y="528" width="21.2" height="1"/><rect x="24.1" y="529" width="21.7" height="1"/><rect x="21.2" y="530" width="24.6" height="1"/><rect x="21.5" y="531" width="24.3" height="1"/></g>
<g stroke="#bcbcbc" stroke-width="0.7"><line x1="1.5" y1="66" x2="1.5" y2="420"/><line x1="1.5" y1="66" x2="8" y2="66"/><line x1="3.5" y1="70" x2="3.5" y2="300"/><line x1="7.2" y1="420" x2="7.2" y2="531.5"/><line x1="7.2" y1="531.5" x2="45.8" y2="531.5"/><line x1="10.8" y1="160" x2="10.8" y2="460"/><line x1="12.5" y1="250" x2="12.5" y2="470"/><line x1="14.5" y1="290" x2="14.5" y2="410"/><line x1="17.4" y1="161" x2="17.4" y2="250"/><line x1="17.4" y1="161" x2="45.8" y2="161"/><line x1="19" y1="376" x2="19" y2="520"/><line x1="9" y1="120" x2="9" y2="250"/><line x1="5.5" y1="75" x2="5.5" y2="200"/><line x1="2.4" y1="420" x2="2.4" y2="531"/><line x1="4.1" y1="380" x2="4.1" y2="500"/><line x1="1.5" y1="420" x2="7.2" y2="420"/><line x1="12" y1="461" x2="20" y2="461"/><line x1="6.6" y1="400" x2="6.6" y2="520"/></g>
<rect x="65.00" y="65.50" width="307.50" height="466.20" fill="rgb(251,250,254)"/>
<rect x="65.00" y="65.50" width="206.00" height="2.40" fill="rgb(139,126,249)"/>
<rect x="65.00" y="67.90" width="206.00" height="1.30" fill="rgb(177,169,251)"/>
<rect x="65.00" y="69.20" width="206.00" height="4.00" fill="rgb(148,136,249)"/>
<rect x="112.50" y="70.00" width="21.10" height="3.00" fill="rgb(110,93,247)"/>
<rect x="65.00" y="73.20" width="206.00" height="1.90" fill="rgb(228,225,253)"/>
<rect x="187.00" y="65.30" width="76.00" height="6.90" fill="rgb(104,87,247)"/>
<rect x="201.00" y="65.30" width="62.00" height="6.90" fill="rgb(85,65,246)"/>
<rect x="65.00" y="77.80" width="206.00" height="1.20" fill="rgb(233,231,253)"/>
<rect x="271.00" y="65.50" width="101.50" height="7.00" fill="rgb(246,245,254)"/>
<rect x="271.00" y="73.80" width="101.50" height="4.00" fill="rgb(90,72,246)"/>
<rect x="271.00" y="77.80" width="8.00" height="46.20" fill="rgb(119,104,248)"/>
<rect x="279.00" y="77.80" width="8.00" height="46.20" fill="rgb(100,83,247)"/>
<rect x="287.00" y="77.80" width="13.00" height="46.20" fill="rgb(77,57,245)"/>
<rect x="300.00" y="77.80" width="13.00" height="46.20" fill="rgb(119,104,248)"/>
<rect x="313.00" y="77.80" width="10.00" height="46.20" fill="rgb(81,61,246)"/>
<rect x="323.00" y="77.80" width="8.80" height="46.20" fill="rgb(110,93,247)"/>
<rect x="274.70" y="81.90" width="11.70" height="3.60" fill="rgb(233,231,253)"/>
<rect x="271.00" y="124.00" width="60.80" height="2.20" fill="rgb(217,213,253)"/>
<rect x="271.00" y="126.00" width="4.00" height="18.30" fill="rgb(139,126,249)"/>
<rect x="275.00" y="126.00" width="12.00" height="5.00" fill="rgb(139,126,249)"/>
<rect x="275.00" y="131.00" width="12.00" height="13.30" fill="rgb(239,237,254)"/>
<rect x="287.00" y="124.60" width="16.00" height="19.70" fill="rgb(242,240,254)"/>
<rect x="303.00" y="126.00" width="5.00" height="24.00" fill="rgb(139,126,249)"/>
<rect x="308.00" y="126.00" width="15.00" height="24.00" fill="rgb(90,72,246)"/>
<rect x="323.00" y="126.00" width="8.80" height="24.00" fill="rgb(100,83,247)"/>
<rect x="271.00" y="144.30" width="16.00" height="5.70" fill="rgb(139,126,249)"/>
<rect x="287.00" y="144.30" width="16.00" height="5.70" fill="rgb(168,158,250)"/>
<rect x="271.00" y="150.00" width="15.00" height="8.00" fill="rgb(158,147,250)"/>
<rect x="286.00" y="150.00" width="14.00" height="8.00" fill="rgb(81,61,246)"/>
<rect x="300.00" y="150.00" width="31.80" height="8.00" fill="rgb(223,219,253)"/>
<rect x="271.00" y="158.00" width="60.80" height="3.20" fill="rgb(223,219,253)"/>
<rect x="65.00" y="161.00" width="307.50" height="1.50" fill="rgb(223,219,253)"/>
<rect x="344.60" y="162.00" width="10.40" height="89.00" fill="rgb(148,136,249)"/>
<rect x="355.00" y="162.00" width="17.50" height="89.00" fill="rgb(87,67,246)"/>
<rect x="345.00" y="172.00" width="7.00" height="8.00" fill="rgb(233,231,253)"/>
<rect x="345.00" y="233.00" width="7.00" height="8.00" fill="rgb(233,231,253)"/>
<rect x="332.00" y="162.00" width="12.60" height="3.00" fill="rgb(217,213,253)"/>
<rect x="332.50" y="215.50" width="12.10" height="29.50" fill="rgb(90,72,246)"/>
<rect x="332.00" y="215.50" width="4.00" height="29.50" fill="rgb(139,126,249)"/>
<rect x="332.00" y="245.00" width="40.50" height="6.00" fill="rgb(158,147,250)"/>
<rect x="65.00" y="216.00" width="267.00" height="1.20" fill="rgb(239,237,254)"/>
<rect x="65.00" y="251.40" width="45.00" height="6.40" fill="rgb(223,219,253)"/>
<rect x="110.00" y="251.40" width="161.00" height="6.40" fill="rgb(233,231,253)"/>
<rect x="271.00" y="250.50" width="64.00" height="1.50" fill="rgb(228,225,253)"/>
<rect x="208.70" y="251.70" width="26.00" height="16.80" fill="rgb(90,72,246)"/>
<rect x="65.00" y="268.40" width="45.00" height="5.20" fill="rgb(223,219,253)"/>
<rect x="65.00" y="274.80" width="45.00" height="5.20" fill="rgb(139,126,249)"/>
<rect x="65.00" y="280.00" width="45.00" height="8.00" fill="rgb(228,225,253)"/>
<rect x="110.00" y="268.40" width="98.00" height="19.60" fill="rgb(236,234,254)"/>
<rect x="187.70" y="281.00" width="21.00" height="3.40" fill="rgb(158,147,250)"/>
<rect x="187.70" y="284.40" width="13.40" height="16.00" fill="rgb(81,61,246)"/>
<rect x="201.10" y="284.40" width="7.60" height="20.60" fill="rgb(119,104,248)"/>
<rect x="171.80" y="301.20" width="15.10" height="4.20" fill="rgb(90,72,246)"/>
<rect x="65.00" y="300.40" width="105.00" height="11.40" fill="rgb(228,225,253)"/>
<rect x="65.00" y="306.00" width="45.00" height="3.00" fill="rgb(168,158,250)"/>
<rect x="190.00" y="300.00" width="81.00" height="12.00" fill="rgb(239,237,254)"/>
<rect x="133.00" y="306.10" width="32.30" height="19.00" fill="rgb(90,72,246)"/>
<rect x="135.50" y="315.00" width="15.50" height="2.00" fill="rgb(177,169,251)"/>
<rect x="65.00" y="324.20" width="68.00" height="6.60" fill="rgb(168,158,250)"/>
<rect x="65.00" y="330.80" width="122.00" height="14.20" fill="rgb(241,239,254)"/>
<rect x="65.00" y="345.00" width="122.00" height="5.00" fill="rgb(233,231,253)"/>
<rect x="187.70" y="325.90" width="83.30" height="3.30" fill="rgb(90,72,246)"/>
<rect x="208.70" y="329.20" width="26.80" height="16.00" fill="rgb(116,100,247)"/>
<rect x="235.50" y="329.20" width="26.90" height="42.00" fill="rgb(100,83,247)"/>
<rect x="262.40" y="326.00" width="8.40" height="45.00" fill="rgb(129,115,248)"/>
<rect x="187.70" y="329.20" width="21.00" height="16.00" fill="rgb(244,243,254)"/>
<rect x="187.70" y="345.20" width="22.30" height="1.80" fill="rgb(119,104,248)"/>
<rect x="65.00" y="370.90" width="67.50" height="10.10" fill="rgb(90,72,246)"/>
<rect x="65.00" y="381.00" width="67.50" height="6.00" fill="rgb(148,136,249)"/>
<rect x="65.00" y="387.00" width="45.00" height="23.30" fill="rgb(223,219,253)"/>
<rect x="110.00" y="381.00" width="22.50" height="29.30" fill="rgb(90,72,246)"/>
<rect x="132.50" y="371.00" width="33.50" height="5.00" fill="rgb(177,169,251)"/>
<rect x="132.50" y="376.00" width="33.50" height="34.30" fill="rgb(231,228,253)"/>
<rect x="145.00" y="380.00" width="20.00" height="5.00" fill="rgb(119,104,248)"/>
<rect x="165.50" y="371.00" width="3.10" height="52.00" fill="rgb(90,72,246)"/>
<rect x="168.60" y="370.50" width="102.40" height="7.50" fill="rgb(231,228,253)"/>
<rect x="168.60" y="378.00" width="102.40" height="32.50" fill="rgb(246,245,254)"/>
<rect x="65.00" y="410.30" width="103.00" height="4.70" fill="rgb(168,158,250)"/>
<rect x="168.00" y="410.90" width="77.00" height="4.10" fill="rgb(217,213,253)"/>
<rect x="65.00" y="415.00" width="102.00" height="116.70" fill="rgb(96,78,246)"/>
<rect x="108.00" y="478.00" width="24.00" height="53.70" fill="rgb(116,100,247)"/>
<rect x="108.00" y="478.00" width="3.00" height="53.70" fill="rgb(148,136,249)"/>
<rect x="65.00" y="466.70" width="102.00" height="2.00" fill="rgb(168,158,250)"/>
<rect x="165.00" y="415.00" width="97.00" height="8.50" fill="rgb(81,61,246)"/>
<rect x="262.00" y="415.00" width="110.50" height="8.50" fill="rgb(110,93,247)"/>
<rect x="167.00" y="423.50" width="68.00" height="13.50" fill="rgb(168,158,250)"/>
<rect x="188.00" y="425.00" width="13.00" height="7.00" fill="rgb(100,83,247)"/>
<rect x="235.00" y="423.50" width="36.00" height="13.50" fill="rgb(233,231,253)"/>
<rect x="236.00" y="431.00" width="35.00" height="2.00" fill="rgb(100,83,247)"/>
<rect x="271.00" y="423.50" width="101.50" height="2.50" fill="rgb(223,219,253)"/>
<rect x="335.00" y="431.50" width="37.50" height="1.50" fill="rgb(217,213,253)"/>
<rect x="167.00" y="423.50" width="4.00" height="108.20" fill="rgb(148,136,249)"/>
<rect x="171.00" y="437.00" width="17.00" height="18.00" fill="rgb(246,245,254)"/>
<rect x="171.00" y="455.00" width="17.00" height="76.70" fill="rgb(129,115,248)"/>
<rect x="171.00" y="505.00" width="17.00" height="26.70" fill="rgb(183,175,251)"/>
<rect x="188.00" y="437.00" width="83.00" height="18.00" fill="rgb(249,249,254)"/>
<rect x="188.00" y="454.50" width="21.00" height="77.20" fill="rgb(90,72,246)"/>
<rect x="209.00" y="457.00" width="26.00" height="74.70" fill="rgb(116,100,247)"/>
<rect x="235.00" y="463.00" width="36.00" height="68.70" fill="rgb(90,72,246)"/>
<rect x="201.00" y="463.00" width="8.00" height="68.70" fill="rgb(139,126,249)"/>
<rect x="262.00" y="463.00" width="9.00" height="68.70" fill="rgb(139,126,249)"/>
<rect x="228.00" y="463.00" width="7.00" height="68.70" fill="rgb(96,78,246)"/>
<rect x="332.00" y="463.00" width="40.50" height="3.60" fill="rgb(90,72,246)"/>
<rect x="332.00" y="466.60" width="40.50" height="65.10" fill="rgb(247,246,254)"/>
<text transform="translate(11.70 553.00) scale(0.955 1)" font-size="14.1" fill="#000">Family</text>
<rect x="12.00" y="562.10" width="19.00" height="19.40" fill="#7fd0aa"/>
<rect x="12.00" y="581.50" width="19.00" height="19.00" fill="#8ea0cb"/>
<text transform="translate(37.40 576.00) scale(0.955 1)" font-size="14.1" fill="#000" font-style="italic">Methanobacteriaceae</text>
<text transform="translate(37.40 595.30) scale(0.955 1)" font-size="14.1" fill="#000" font-style="italic">Methanomethylophilaceae</text>
<rect x="192.20" y="542.00" width="19.80" height="18.80" fill="#dc87cd"/>
<rect x="192.20" y="560.80" width="19.80" height="19.40" fill="#ee875f"/>
<rect x="192.20" y="580.20" width="19.80" height="19.10" fill="#b21e32"/>
<text transform="translate(217.40 556.30) scale(0.955 1)" font-size="14.1" fill="#000" font-style="italic">Methanomicrobiaceae</text>
<text transform="translate(217.40 575.80) scale(0.955 1)" font-size="14.1" fill="#000" font-style="italic">Methanocorpusculaceae</text>
<text transform="translate(217.40 594.80) scale(0.955 1)" font-size="14.1" fill="#000" font-style="italic">Methanosarcinaceae</text>
<text transform="translate(8.60 19.80) scale(0.960 1)" font-size="25" fill="#000">a</text>
<line x1="422.30" y1="12.90" x2="422.30" y2="278.70" stroke="#2a2a2a" stroke-width="1.2"/>
<line x1="421.70" y1="278.20" x2="683.90" y2="278.20" stroke="#2a2a2a" stroke-width="1.2"/>
<line x1="419.40" y1="46.50" x2="422.30" y2="46.50" stroke="#2a2a2a" stroke-width="1.1"/>
<text transform="translate(415.20 50.70) scale(0.955 1)" font-size="11.6" fill="#1a1a1a" text-anchor="end">0.2</text>
<line x1="419.40" y1="102.20" x2="422.30" y2="102.20" stroke="#2a2a2a" stroke-width="1.1"/>
<text transform="translate(415.20 106.40) scale(0.955 1)" font-size="11.6" fill="#1a1a1a" text-anchor="end">0.0</text>
<line x1="419.40" y1="157.90" x2="422.30" y2="157.90" stroke="#2a2a2a" stroke-width="1.1"/>
<text transform="translate(415.20 162.10) scale(0.955 1)" font-size="11.6" fill="#1a1a1a" text-anchor="end">−0.2</text>
<line x1="419.40" y1="213.60" x2="422.30" y2="213.60" stroke="#2a2a2a" stroke-width="1.1"/>
<text transform="translate(415.20 217.80) scale(0.955 1)" font-size="11.6" fill="#1a1a1a" text-anchor="end">−0.4</text>
<line x1="419.40" y1="269.30" x2="422.30" y2="269.30" stroke="#2a2a2a" stroke-width="1.1"/>
<text transform="translate(415.20 273.50) scale(0.955 1)" font-size="11.6" fill="#1a1a1a" text-anchor="end">−0.6</text>
<line x1="460.20" y1="278.20" x2="460.20" y2="281.20" stroke="#2a2a2a" stroke-width="1.1"/>
<text transform="translate(459.40 291.90) scale(0.955 1)" font-size="11.6" fill="#1a1a1a" text-anchor="middle">−0.2</text>
<line x1="513.30" y1="278.20" x2="513.30" y2="281.20" stroke="#2a2a2a" stroke-width="1.1"/>
<text transform="translate(512.50 291.90) scale(0.955 1)" font-size="11.6" fill="#1a1a1a" text-anchor="middle">0.0</text>
<line x1="566.40" y1="278.20" x2="566.40" y2="281.20" stroke="#2a2a2a" stroke-width="1.1"/>
<text transform="translate(565.60 291.90) scale(0.955 1)" font-size="11.6" fill="#1a1a1a" text-anchor="middle">0.2</text>
<line x1="619.60" y1="278.20" x2="619.60" y2="281.20" stroke="#2a2a2a" stroke-width="1.1"/>
<text transform="translate(618.80 291.90) scale(0.955 1)" font-size="11.6" fill="#1a1a1a" text-anchor="middle">0.4</text>
<line x1="672.70" y1="278.20" x2="672.70" y2="281.20" stroke="#2a2a2a" stroke-width="1.1"/>
<text transform="translate(671.90 291.90) scale(0.955 1)" font-size="11.6" fill="#1a1a1a" text-anchor="middle">0.6</text>
<text transform="translate(552.10 304.40) scale(0.915 1)" font-size="11.5" fill="#1a1a1a" text-anchor="middle">NMDS1</text>
<text transform="translate(391.40 146.00) rotate(-90) scale(0.980 1)" font-size="11.8" fill="#1a1a1a" text-anchor="middle">NMDS2</text>
<text transform="translate(402.60 24.70) scale(0.960 1)" font-size="25" fill="#000">b</text>
<text transform="translate(428.6 23.6) scale(0.915 1)" font-size="11.7" fill="#000">Stress: 0.025, <tspan font-style="italic">P</tspan>&lt;0.001</text>
<text transform="translate(433.60 78.20) scale(0.937 1)" font-size="11.3" fill="#7fd0aa">Methanobacteriaceae</text>
<text transform="translate(560.00 68.20) scale(0.937 1)" font-size="11.3" fill="#8ea0cb">Methanomethylophilaceae</text>
<text transform="translate(577.30 148.50) scale(0.937 1)" font-size="11.3" fill="#b21e32">Methanosarcinaceae</text>
<text transform="translate(495.20 220.70) scale(0.937 1)" font-size="11.3" fill="#dc87cd">Methanomicrobiaceae</text>
<text transform="translate(534.70 273.60) scale(0.937 1)" font-size="11.3" fill="#ee875f">Methanocorpusculaceae</text>
<g fill="#7fd0aa"><rect x="468.9" y="100.7" width="1.3" height="1.3"/><rect x="484.1" y="107.6" width="1.3" height="1.3"/><rect x="477.3" y="104.4" width="1.3" height="1.3"/><rect x="445.5" y="93.4" width="1.3" height="1.3"/><rect x="450.3" y="93.7" width="1.3" height="1.3"/><rect x="483.6" y="104.5" width="1.3" height="1.3"/><rect x="434.0" y="86.0" width="1.3" height="1.3"/><rect x="480.1" y="104.9" width="1.3" height="1.3"/><rect x="479.5" y="102.6" width="1.3" height="1.3"/><rect x="459.8" y="97.8" width="1.3" height="1.3"/><rect x="449.7" y="95.6" width="1.3" height="1.3"/><rect x="450.2" y="90.4" width="1.3" height="1.3"/><rect x="447.8" y="92.5" width="1.3" height="1.3"/><rect x="458.2" y="98.1" width="1.3" height="1.3"/><rect x="462.4" y="97.0" width="1.3" height="1.3"/><rect x="465.6" y="97.1" width="1.3" height="1.3"/><rect x="490.3" y="108.0" width="1.3" height="1.3"/><rect x="478.4" y="104.5" width="1.3" height="1.3"/><rect x="468.4" y="101.4" width="1.3" height="1.3"/><rect x="489.7" y="108.4" width="1.3" height="1.3"/><rect x="446.7" y="89.0" width="1.3" height="1.3"/><rect x="441.9" y="91.7" width="1.3" height="1.3"/><rect x="467.2" y="102.6" width="1.3" height="1.3"/><rect x="437.0" y="85.5" width="1.3" height="1.3"/><rect x="436.2" y="85.8" width="1.3" height="1.3"/><rect x="463.6" y="95.6" width="1.3" height="1.3"/><rect x="459.1" y="99.4" width="1.3" height="1.3"/><rect x="485.1" y="108.6" width="1.3" height="1.3"/><rect x="470.5" y="97.5" width="1.3" height="1.3"/><rect x="463.2" y="96.7" width="1.3" height="1.3"/><rect x="462.5" y="95.4" width="1.3" height="1.3"/><rect x="447.6" y="91.9" width="1.3" height="1.3"/><rect x="433.8" y="87.3" width="1.3" height="1.3"/><rect x="445.4" y="88.4" width="1.3" height="1.3"/><rect x="473.7" y="99.9" width="1.3" height="1.3"/><rect x="444.9" y="90.9" width="1.3" height="1.3"/><rect x="454.3" y="95.1" width="1.3" height="1.3"/><rect x="433.7" y="86.5" width="1.3" height="1.3"/><rect x="480.7" y="104.8" width="1.3" height="1.3"/><rect x="443.0" y="88.1" width="1.3" height="1.3"/><rect x="449.0" y="91.6" width="1.3" height="1.3"/><rect x="482.7" y="108.4" width="1.3" height="1.3"/><rect x="461.9" y="99.5" width="1.3" height="1.3"/><rect x="482.3" y="103.5" width="1.3" height="1.3"/><rect x="469.1" y="102.5" width="1.3" height="1.3"/><rect x="476.1" y="102.0" width="1.3" height="1.3"/><rect x="438.2" y="89.4" width="1.3" height="1.3"/><rect x="465.5" y="95.1" width="1.3" height="1.3"/><rect x="461.5" y="100.3" width="1.3" height="1.3"/><rect x="483.5" y="104.3" width="1.3" height="1.3"/><rect x="454.1" y="94.4" width="1.3" height="1.3"/><rect x="467.1" y="100.6" width="1.3" height="1.3"/><rect x="437.0" y="87.4" width="1.3" height="1.3"/><rect x="456.3" y="92.8" width="1.3" height="1.3"/><rect x="452.8" y="91.3" width="1.3" height="1.3"/><rect x="442.5" y="88.7" width="1.3" height="1.3"/><rect x="480.9" y="102.4" width="1.3" height="1.3"/><rect x="455.7" y="93.0" width="1.3" height="1.3"/><rect x="489.6" y="106.8" width="1.3" height="1.3"/><rect x="467.2" y="99.2" width="1.3" height="1.3"/><rect x="468.3" y="98.9" width="1.3" height="1.3"/><rect x="469.6" y="101.1" width="1.3" height="1.3"/><rect x="472.5" y="100.2" width="1.3" height="1.3"/><rect x="443.1" y="87.4" width="1.3" height="1.3"/><rect x="458.9" y="95.1" width="1.3" height="1.3"/><rect x="446.4" y="93.5" width="1.3" height="1.3"/><rect x="456.9" y="93.8" width="1.3" height="1.3"/><rect x="439.3" y="88.0" width="1.3" height="1.3"/><rect x="488.3" y="108.7" width="1.3" height="1.3"/><rect x="445.9" y="90.8" width="1.3" height="1.3"/><rect x="470.7" y="103.7" width="1.3" height="1.3"/><rect x="449.3" y="96.2" width="1.3" height="1.3"/><rect x="483.5" y="105.1" width="1.3" height="1.3"/><rect x="470.5" y="102.6" width="1.3" height="1.3"/><rect x="441.5" y="88.2" width="1.3" height="1.3"/><rect x="482.1" y="103.5" width="1.3" height="1.3"/><rect x="487.3" y="107.1" width="1.3" height="1.3"/><rect x="484.7" y="107.0" width="1.3" height="1.3"/><rect x="464.9" y="101.9" width="1.3" height="1.3"/><rect x="442.5" y="87.9" width="1.3" height="1.3"/><rect x="443.9" y="92.0" width="1.3" height="1.3"/><rect x="486.3" y="107.0" width="1.3" height="1.3"/><rect x="465.8" y="96.1" width="1.3" height="1.3"/><rect x="442.7" y="93.1" width="1.3" height="1.3"/><rect x="483.4" y="107.1" width="1.3" height="1.3"/><rect x="471.0" y="98.4" width="1.3" height="1.3"/><rect x="465.0" y="101.7" width="1.3" height="1.3"/><rect x="455.8" y="92.1" width="1.3" height="1.3"/><rect x="457.8" y="92.8" width="1.3" height="1.3"/><rect x="447.5" y="90.9" width="1.3" height="1.3"/><rect x="435.1" y="88.2" width="1.3" height="1.3"/><rect x="484.0" y="103.8" width="1.3" height="1.3"/><rect x="459.0" y="99.9" width="1.3" height="1.3"/><rect x="464.4" y="99.3" width="1.3" height="1.3"/><rect x="453.0" y="90.8" width="1.3" height="1.3"/><rect x="476.0" y="103.7" width="1.3" height="1.3"/><rect x="435.3" y="86.2" width="1.3" height="1.3"/><rect x="454.4" y="95.5" width="1.3" height="1.3"/><rect x="435.1" y="87.3" width="1.3" height="1.3"/><rect x="440.1" y="90.0" width="1.3" height="1.3"/><rect x="488.0" y="109.6" width="1.3" height="1.3"/><rect x="471.8" y="98.9" width="1.3" height="1.3"/><rect x="457.0" y="98.4" width="1.3" height="1.3"/><rect x="463.5" y="97.4" width="1.3" height="1.3"/><rect x="482.6" y="107.4" width="1.3" height="1.3"/><rect x="451.8" y="97.2" width="1.3" height="1.3"/><rect x="465.8" y="102.6" width="1.3" height="1.3"/><rect x="473.0" y="100.3" width="1.3" height="1.3"/><rect x="453.7" y="94.3" width="1.3" height="1.3"/><rect x="462.0" y="101.0" width="1.3" height="1.3"/><rect x="475.8" y="106.2" width="1.3" height="1.3"/><rect x="485.4" y="106.1" width="1.3" height="1.3"/><rect x="441.1" y="92.1" width="1.3" height="1.3"/><rect x="486.7" y="106.8" width="1.3" height="1.3"/><rect x="434.3" y="85.4" width="1.3" height="1.3"/><rect x="475.6" y="104.8" width="1.3" height="1.3"/><rect x="479.6" y="104.6" width="1.3" height="1.3"/><rect x="441.4" y="89.2" width="1.3" height="1.3"/><rect x="457.6" y="95.1" width="1.3" height="1.3"/><rect x="479.9" y="104.5" width="1.3" height="1.3"/><rect x="435.2" y="85.0" width="1.3" height="1.3"/><rect x="470.5" y="97.6" width="1.3" height="1.3"/><rect x="477.9" y="105.7" width="1.3" height="1.3"/><rect x="462.5" y="98.3" width="1.3" height="1.3"/><rect x="474.3" y="103.7" width="1.3" height="1.3"/><rect x="445.6" y="93.4" width="1.3" height="1.3"/><rect x="445.4" y="89.4" width="1.3" height="1.3"/><rect x="454.7" y="92.8" width="1.3" height="1.3"/><rect x="444.2" y="89.3" width="1.3" height="1.3"/><rect x="453.7" y="93.0" width="1.3" height="1.3"/><rect x="487.1" y="108.4" width="1.3" height="1.3"/><rect x="466.5" y="98.2" width="1.3" height="1.3"/><rect x="453.3" y="93.0" width="1.3" height="1.3"/><rect x="448.5" y="93.5" width="1.3" height="1.3"/><rect x="488.1" y="106.4" width="1.3" height="1.3"/><rect x="459.7" y="93.6" width="1.3" height="1.3"/><rect x="489.1" y="108.7" width="1.3" height="1.3"/><rect x="462.2" y="99.6" width="1.3" height="1.3"/><rect x="463.6" y="96.6" width="1.3" height="1.3"/><rect x="484.2" y="107.1" width="1.3" height="1.3"/><rect x="476.8" y="100.4" width="1.3" height="1.3"/><rect x="466.8" y="98.6" width="1.3" height="1.3"/><rect x="457.5" y="96.6" width="1.3" height="1.3"/><rect x="483.8" y="104.9" width="1.3" height="1.3"/><rect x="457.2" y="94.7" width="1.3" height="1.3"/><rect x="485.8" y="107.4" width="1.3" height="1.3"/><rect x="437.4" y="88.0" width="1.3" height="1.3"/><rect x="458.8" y="93.6" width="1.3" height="1.3"/><rect x="462.6" y="99.4" width="1.3" height="1.3"/><rect x="488.1" y="105.9" width="1.3" height="1.3"/><rect x="446.5" y="95.1" width="1.3" height="1.3"/><rect x="479.9" y="103.0" width="1.3" height="1.3"/><rect x="472.6" y="100.0" width="1.3" height="1.3"/><rect x="475.0" y="100.7" width="1.3" height="1.3"/><rect x="468.0" y="103.4" width="1.3" height="1.3"/><rect x="489.0" y="107.2" width="1.3" height="1.3"/><rect x="452.0" y="94.8" width="1.3" height="1.3"/><rect x="454.8" y="99.1" width="1.3" height="1.3"/><rect x="443.9" y="93.6" width="1.3" height="1.3"/><rect x="437.5" y="85.5" width="1.3" height="1.3"/><rect x="445.5" y="91.4" width="1.3" height="1.3"/><rect x="485.4" y="107.2" width="1.3" height="1.3"/><rect x="480.8" y="106.5" width="1.3" height="1.3"/><rect x="440.3" y="88.1" width="1.3" height="1.3"/><rect x="468.4" y="98.6" width="1.3" height="1.3"/><rect x="462.0" y="93.6" width="1.3" height="1.3"/><rect x="468.7" y="96.6" width="1.3" height="1.3"/><rect x="470.9" y="101.4" width="1.3" height="1.3"/><rect x="452.1" y="90.6" width="1.3" height="1.3"/><rect x="488.6" y="106.6" width="1.3" height="1.3"/><rect x="460.4" y="95.7" width="1.3" height="1.3"/><rect x="470.4" y="97.6" width="1.3" height="1.3"/><rect x="470.9" y="97.6" width="1.3" height="1.3"/><rect x="443.0" y="92.9" width="1.3" height="1.3"/><rect x="437.3" y="87.2" width="1.3" height="1.3"/><rect x="457.6" y="93.6" width="1.3" height="1.3"/><rect x="476.4" y="104.8" width="1.3" height="1.3"/><rect x="480.9" y="102.2" width="1.3" height="1.3"/><rect x="475.6" y="101.3" width="1.3" height="1.3"/><rect x="438.9" y="90.9" width="1.3" height="1.3"/><rect x="484.9" y="108.5" width="1.3" height="1.3"/><rect x="478.7" y="105.3" width="1.3" height="1.3"/><rect x="484.0" y="104.1" width="1.3" height="1.3"/><rect x="463.7" y="96.8" width="1.3" height="1.3"/><rect x="486.2" y="104.8" width="1.3" height="1.3"/><rect x="436.9" y="86.0" width="1.3" height="1.3"/><rect x="436.3" y="85.0" width="1.3" height="1.3"/><rect x="435.6" y="85.1" width="1.3" height="1.3"/><rect x="447.5" y="93.0" width="1.3" height="1.3"/><rect x="448.6" y="89.6" width="1.3" height="1.3"/><rect x="444.9" y="88.8" width="1.3" height="1.3"/><rect x="464.9" y="101.6" width="1.3" height="1.3"/><rect x="436.3" y="86.2" width="1.3" height="1.3"/><rect x="467.6" y="98.3" width="1.3" height="1.3"/><rect x="443.8" y="88.0" width="1.3" height="1.3"/><rect x="471.3" y="103.3" width="1.3" height="1.3"/><rect x="434.7" y="86.8" width="1.3" height="1.3"/><rect x="450.9" y="93.9" width="1.3" height="1.3"/><rect x="486.7" y="107.7" width="1.3" height="1.3"/><rect x="465.1" y="95.6" width="1.3" height="1.3"/><rect x="480.1" y="103.4" width="1.3" height="1.3"/><rect x="470.7" y="101.6" width="1.3" height="1.3"/><rect x="467.0" y="102.8" width="1.3" height="1.3"/><rect x="443.6" y="92.5" width="1.3" height="1.3"/><rect x="465.9" y="100.0" width="1.3" height="1.3"/><rect x="436.0" y="86.9" width="1.3" height="1.3"/><rect x="480.2" y="101.8" width="1.3" height="1.3"/><rect x="487.7" y="109.1" width="1.3" height="1.3"/><rect x="482.7" y="103.4" width="1.3" height="1.3"/><rect x="437.3" y="85.8" width="1.3" height="1.3"/><rect x="452.1" y="95.6" width="1.3" height="1.3"/><rect x="450.6" y="95.9" width="1.3" height="1.3"/><rect x="439.3" y="90.2" width="1.3" height="1.3"/><rect x="469.3" y="100.0" width="1.3" height="1.3"/><rect x="479.5" y="102.6" width="1.3" height="1.3"/><rect x="452.6" y="90.4" width="1.3" height="1.3"/><rect x="481.9" y="107.6" width="1.3" height="1.3"/><rect x="477.6" y="107.1" width="1.3" height="1.3"/><rect x="441.4" y="88.1" width="1.3" height="1.3"/><rect x="476.1" y="105.8" width="1.3" height="1.3"/><rect x="483.8" y="105.7" width="1.3" height="1.3"/><rect x="445.1" y="89.9" width="1.3" height="1.3"/><rect x="466.2" y="99.1" width="1.3" height="1.3"/><rect x="471.2" y="97.5" width="1.3" height="1.3"/><rect x="468.4" y="99.5" width="1.3" height="1.3"/><rect x="439.7" y="87.1" width="1.3" height="1.3"/><rect x="470.5" y="102.4" width="1.3" height="1.3"/><rect x="469.5" y="100.4" width="1.3" height="1.3"/><rect x="479.6" y="107.1" width="1.3" height="1.3"/><rect x="478.1" y="106.8" width="1.3" height="1.3"/><rect x="452.5" y="92.7" width="1.3" height="1.3"/><rect x="475.1" y="101.3" width="1.3" height="1.3"/><rect x="482.0" y="108.1" width="1.3" height="1.3"/><rect x="484.2" y="106.4" width="1.3" height="1.3"/><rect x="443.5" y="88.0" width="1.3" height="1.3"/><rect x="436.1" y="85.0" width="1.3" height="1.3"/><rect x="469.2" y="103.9" width="1.3" height="1.3"/><rect x="445.5" y="91.8" width="1.3" height="1.3"/><rect x="466.7" y="95.9" width="1.3" height="1.3"/><rect x="487.2" y="107.4" width="1.3" height="1.3"/><rect x="455.0" y="95.1" width="1.3" height="1.3"/><rect x="448.0" y="91.8" width="1.3" height="1.3"/><rect x="458.3" y="99.9" width="1.3" height="1.3"/><rect x="469.7" y="103.8" width="1.3" height="1.3"/><rect x="440.2" y="86.9" width="1.3" height="1.3"/><rect x="456.0" y="92.5" width="1.3" height="1.3"/><rect x="441.3" y="89.0" width="1.3" height="1.3"/><rect x="470.3" y="103.2" width="1.3" height="1.3"/><rect x="480.4" y="105.9" width="1.3" height="1.3"/><rect x="454.2" y="96.8" width="1.3" height="1.3"/><rect x="454.3" y="95.5" width="1.3" height="1.3"/><rect x="464.9" y="96.4" width="1.3" height="1.3"/><rect x="444.9" y="93.2" width="1.3" height="1.3"/><rect x="448.8" y="89.1" width="1.3" height="1.3"/><rect x="451.6" y="95.4" width="1.3" height="1.3"/><rect x="460.2" y="94.5" width="1.3" height="1.3"/><rect x="438.3" y="87.9" width="1.3" height="1.3"/><rect x="475.1" y="106.1" width="1.3" height="1.3"/><rect x="466.4" y="99.4" width="1.3" height="1.3"/><rect x="451.7" y="90.3" width="1.3" height="1.3"/><rect x="438.2" y="87.6" width="1.3" height="1.3"/><rect x="476.4" y="104.5" width="1.3" height="1.3"/><rect x="441.9" y="87.2" width="1.3" height="1.3"/><rect x="441.6" y="88.2" width="1.3" height="1.3"/><rect x="441.9" y="87.0" width="1.3" height="1.3"/><rect x="438.2" y="88.1" width="1.3" height="1.3"/><rect x="485.2" y="106.1" width="1.3" height="1.3"/><rect x="448.7" y="92.6" width="1.3" height="1.3"/><rect x="451.4" y="92.1" width="1.3" height="1.3"/><rect x="480.5" y="106.1" width="1.3" height="1.3"/><rect x="469.7" y="98.1" width="1.3" height="1.3"/><rect x="443.2" y="92.9" width="1.3" height="1.3"/><rect x="457.0" y="99.6" width="1.3" height="1.3"/><rect x="483.7" y="106.2" width="1.3" height="1.3"/><rect x="454.8" y="94.8" width="1.3" height="1.3"/><rect x="473.0" y="104.5" width="1.3" height="1.3"/><rect x="439.5" y="87.5" width="1.3" height="1.3"/><rect x="474.0" y="104.5" width="1.3" height="1.3"/><rect x="478.1" y="102.7" width="1.3" height="1.3"/><rect x="479.9" y="106.3" width="1.3" height="1.3"/><rect x="472.3" y="100.4" width="1.3" height="1.3"/><rect x="454.2" y="95.7" width="1.3" height="1.3"/><rect x="436.5" y="89.1" width="1.3" height="1.3"/><rect x="464.1" y="94.9" width="1.3" height="1.3"/><rect x="475.7" y="105.2" width="1.3" height="1.3"/><rect x="444.2" y="91.0" width="1.3" height="1.3"/><rect x="448.9" y="91.8" width="1.3" height="1.3"/><rect x="464.4" y="97.3" width="1.3" height="1.3"/><rect x="477.1" y="100.8" width="1.3" height="1.3"/><rect x="484.8" y="105.4" width="1.3" height="1.3"/><rect x="440.4" y="89.8" width="1.3" height="1.3"/><rect x="444.9" y="88.4" width="1.3" height="1.3"/><rect x="478.5" y="105.4" width="1.3" height="1.3"/><rect x="468.9" y="103.6" width="1.3" height="1.3"/><rect x="473.2" y="105.4" width="1.3" height="1.3"/><rect x="489.9" y="109.6" width="1.3" height="1.3"/><rect x="486.5" y="108.5" width="1.3" height="1.3"/><rect x="481.9" y="103.7" width="1.3" height="1.3"/><rect x="476.5" y="106.6" width="1.3" height="1.3"/><rect x="456.7" y="93.2" width="1.3" height="1.3"/><rect x="469.0" y="102.9" width="1.3" height="1.3"/><rect x="443.1" y="92.7" width="1.3" height="1.3"/><rect x="476.3" y="104.2" width="1.3" height="1.3"/><rect x="476.5" y="103.6" width="1.3" height="1.3"/><rect x="475.2" y="100.8" width="1.3" height="1.3"/><rect x="458.7" y="96.6" width="1.3" height="1.3"/><rect x="455.5" y="93.5" width="1.3" height="1.3"/><rect x="458.3" y="93.2" width="1.3" height="1.3"/><rect x="436.3" y="85.4" width="1.3" height="1.3"/><rect x="480.9" y="107.0" width="1.3" height="1.3"/><rect x="463.4" y="101.3" width="1.3" height="1.3"/><rect x="456.4" y="92.6" width="1.3" height="1.3"/><rect x="465.9" y="95.2" width="1.3" height="1.3"/><rect x="475.1" y="101.2" width="1.3" height="1.3"/><rect x="456.1" y="92.4" width="1.3" height="1.3"/><rect x="481.2" y="103.5" width="1.3" height="1.3"/><rect x="485.7" y="107.2" width="1.3" height="1.3"/><rect x="455.6" y="94.7" width="1.3" height="1.3"/><rect x="441.5" y="89.2" width="1.3" height="1.3"/><rect x="477.4" y="101.8" width="1.3" height="1.3"/><rect x="489.9" y="108.8" width="1.3" height="1.3"/><rect x="442.3" y="88.7" width="1.3" height="1.3"/><rect x="474.3" y="101.8" width="1.3" height="1.3"/><rect x="480.4" y="104.9" width="1.3" height="1.3"/><rect x="485.3" y="108.6" width="1.3" height="1.3"/><rect x="441.0" y="88.0" width="1.3" height="1.3"/><rect x="438.3" y="89.2" width="1.3" height="1.3"/><rect x="490.0" y="107.6" width="1.3" height="1.3"/><rect x="439.2" y="90.8" width="1.3" height="1.3"/><rect x="443.8" y="89.9" width="1.3" height="1.3"/><rect x="466.2" y="99.1" width="1.3" height="1.3"/><rect x="457.9" y="99.2" width="1.3" height="1.3"/><rect x="475.7" y="104.3" width="1.3" height="1.3"/><rect x="445.2" y="88.5" width="1.3" height="1.3"/><rect x="486.0" y="105.2" width="1.3" height="1.3"/><rect x="444.6" y="94.3" width="1.3" height="1.3"/><rect x="478.3" y="101.1" width="1.3" height="1.3"/><rect x="437.9" y="86.8" width="1.3" height="1.3"/><rect x="459.3" y="100.3" width="1.3" height="1.3"/><rect x="436.5" y="85.0" width="1.3" height="1.3"/><rect x="452.2" y="91.3" width="1.3" height="1.3"/><rect x="452.0" y="91.6" width="1.3" height="1.3"/><rect x="475.4" y="100.1" width="1.3" height="1.3"/><rect x="459.4" y="96.4" width="1.3" height="1.3"/><rect x="436.7" y="87.6" width="1.3" height="1.3"/><rect x="490.4" y="107.8" width="1.3" height="1.3"/><rect x="484.6" y="104.5" width="1.3" height="1.3"/><rect x="485.2" y="108.2" width="1.3" height="1.3"/><rect x="446.7" y="94.0" width="1.3" height="1.3"/><rect x="455.7" y="95.9" width="1.3" height="1.3"/><rect x="447.3" y="89.5" width="1.3" height="1.3"/><rect x="440.5" y="89.4" width="1.3" height="1.3"/><rect x="435.4" y="87.0" width="1.3" height="1.3"/><rect x="462.3" y="97.1" width="1.3" height="1.3"/><rect x="439.8" y="90.9" width="1.3" height="1.3"/><rect x="443.7" y="89.8" width="1.3" height="1.3"/><rect x="482.3" y="105.8" width="1.3" height="1.3"/><rect x="462.0" y="94.5" width="1.3" height="1.3"/><rect x="443.8" y="90.9" width="1.3" height="1.3"/><rect x="470.9" y="103.0" width="1.3" height="1.3"/><rect x="447.9" y="94.0" width="1.3" height="1.3"/><rect x="464.1" y="96.4" width="1.3" height="1.3"/><rect x="448.2" y="96.2" width="1.3" height="1.3"/><rect x="462.3" y="99.4" width="1.3" height="1.3"/><rect x="469.5" y="99.9" width="1.3" height="1.3"/><rect x="464.2" y="97.7" width="1.3" height="1.3"/><rect x="455.2" y="97.5" width="1.3" height="1.3"/><rect x="479.2" y="102.4" width="1.3" height="1.3"/><rect x="482.9" y="106.7" width="1.3" height="1.3"/><rect x="443.2" y="91.7" width="1.3" height="1.3"/><rect x="441.2" y="89.6" width="1.3" height="1.3"/><rect x="439.1" y="90.6" width="1.3" height="1.3"/><rect x="489.3" y="108.0" width="1.3" height="1.3"/><rect x="487.1" y="107.2" width="1.3" height="1.3"/><rect x="447.1" y="90.4" width="1.3" height="1.3"/><rect x="488.2" y="109.3" width="1.3" height="1.3"/><rect x="445.7" y="90.1" width="1.3" height="1.3"/><rect x="461.8" y="99.0" width="1.3" height="1.3"/><rect x="462.0" y="96.9" width="1.3" height="1.3"/><rect x="484.9" y="108.7" width="1.3" height="1.3"/><rect x="435.2" y="88.3" width="1.3" height="1.3"/><rect x="452.7" y="90.4" width="1.3" height="1.3"/><rect x="466.3" y="102.8" width="1.3" height="1.3"/><rect x="437.2" y="87.9" width="1.3" height="1.3"/><rect x="448.0" y="89.3" width="1.3" height="1.3"/><rect x="459.9" y="96.8" width="1.3" height="1.3"/><rect x="484.3" y="104.0" width="1.3" height="1.3"/><rect x="476.6" y="103.8" width="1.3" height="1.3"/><rect x="481.1" y="103.4" width="1.3" height="1.3"/><rect x="477.0" y="102.8" width="1.3" height="1.3"/><rect x="474.2" y="101.1" width="1.3" height="1.3"/><rect x="481.6" y="106.1" width="1.3" height="1.3"/><rect x="471.4" y="103.6" width="1.3" height="1.3"/><rect x="474.2" y="105.5" width="1.3" height="1.3"/><rect x="451.1" y="92.2" width="1.3" height="1.3"/><rect x="442.9" y="90.6" width="1.3" height="1.3"/><rect x="477.7" y="100.6" width="1.3" height="1.3"/><rect x="443.2" y="89.5" width="1.3" height="1.3"/><rect x="485.1" y="108.8" width="1.3" height="1.3"/><rect x="468.5" y="97.1" width="1.3" height="1.3"/><rect x="451.0" y="96.6" width="1.3" height="1.3"/><rect x="486.6" y="107.8" width="1.3" height="1.3"/><rect x="442.7" y="88.9" width="1.3" height="1.3"/><rect x="462.1" y="99.8" width="1.3" height="1.3"/><rect x="439.3" y="87.4" width="1.3" height="1.3"/><rect x="488.0" y="109.2" width="1.3" height="1.3"/><rect x="467.3" y="96.3" width="1.3" height="1.3"/><rect x="480.0" y="102.5" width="1.3" height="1.3"/><rect x="448.8" y="94.5" width="1.3" height="1.3"/><rect x="479.1" y="104.3" width="1.3" height="1.3"/><rect x="474.3" y="100.0" width="1.3" height="1.3"/><rect x="470.1" y="100.8" width="1.3" height="1.3"/><rect x="487.8" y="106.7" width="1.3" height="1.3"/><rect x="458.0" y="96.6" width="1.3" height="1.3"/><rect x="456.4" y="97.6" width="1.3" height="1.3"/><rect x="471.9" y="104.0" width="1.3" height="1.3"/><rect x="481.7" y="102.9" width="1.3" height="1.3"/><rect x="452.2" y="94.8" width="1.3" height="1.3"/><rect x="470.3" y="104.3" width="1.3" height="1.3"/><rect x="445.4" y="91.0" width="1.3" height="1.3"/><rect x="464.3" y="100.4" width="1.3" height="1.3"/><rect x="478.2" y="101.4" width="1.3" height="1.3"/><rect x="436.6" y="88.9" width="1.3" height="1.3"/><rect x="474.6" y="103.2" width="1.3" height="1.3"/><rect x="434.1" y="87.3" width="1.3" height="1.3"/><rect x="487.7" y="108.7" width="1.3" height="1.3"/><rect x="459.2" y="99.5" width="1.3" height="1.3"/><rect x="457.8" y="92.5" width="1.3" height="1.3"/><rect x="473.9" y="103.8" width="1.3" height="1.3"/><rect x="464.0" y="96.0" width="1.3" height="1.3"/><rect x="475.6" y="101.4" width="1.3" height="1.3"/><rect x="438.8" y="87.4" width="1.3" height="1.3"/><rect x="465.3" y="99.4" width="1.3" height="1.3"/><rect x="465.0" y="99.6" width="1.3" height="1.3"/><rect x="485.9" y="108.9" width="1.3" height="1.3"/><rect x="436.9" y="85.1" width="1.3" height="1.3"/><rect x="460.0" y="94.4" width="1.3" height="1.3"/><rect x="469.8" y="99.5" width="1.3" height="1.3"/><rect x="464.1" y="100.7" width="1.3" height="1.3"/><rect x="437.8" y="88.0" width="1.3" height="1.3"/><rect x="467.3" y="99.6" width="1.3" height="1.3"/><rect x="445.4" y="93.0" width="1.3" height="1.3"/><rect x="444.2" y="91.7" width="1.3" height="1.3"/><rect x="483.8" y="105.1" width="1.3" height="1.3"/><rect x="445.7" y="88.6" width="1.3" height="1.3"/><rect x="459.4" y="96.4" width="1.3" height="1.3"/><rect x="475.2" y="105.5" width="1.3" height="1.3"/><rect x="473.4" y="102.8" width="1.3" height="1.3"/><rect x="466.1" y="95.6" width="1.3" height="1.3"/><rect x="479.4" y="104.3" width="1.3" height="1.3"/><rect x="460.3" y="96.0" width="1.3" height="1.3"/><rect x="468.6" y="100.7" width="1.3" height="1.3"/><rect x="479.8" y="105.4" width="1.3" height="1.3"/><rect x="470.9" y="104.3" width="1.3" height="1.3"/><rect x="470.5" y="99.7" width="1.3" height="1.3"/><rect x="456.8" y="95.0" width="1.3" height="1.3"/><rect x="465.0" y="99.5" width="1.3" height="1.3"/><rect x="454.9" y="98.3" width="1.3" height="1.3"/><rect x="475.3" y="104.3" width="1.3" height="1.3"/><rect x="455.1" y="94.9" width="1.3" height="1.3"/><rect x="459.2" y="99.1" width="1.3" height="1.3"/><rect x="476.4" y="103.3" width="1.3" height="1.3"/><rect x="461.0" y="100.8" width="1.3" height="1.3"/><rect x="453.3" y="92.7" width="1.3" height="1.3"/><rect x="481.1" y="103.0" width="1.3" height="1.3"/><rect x="454.2" y="97.6" width="1.3" height="1.3"/><rect x="481.8" y="104.4" width="1.3" height="1.3"/><rect x="477.2" y="106.1" width="1.3" height="1.3"/><rect x="458.6" y="97.3" width="1.3" height="1.3"/><rect x="474.0" y="102.4" width="1.3" height="1.3"/><rect x="436.4" y="85.3" width="1.3" height="1.3"/><rect x="454.8" y="97.4" width="1.3" height="1.3"/><rect x="483.1" y="103.5" width="1.3" height="1.3"/><rect x="465.4" y="102.2" width="1.3" height="1.3"/><rect x="464.4" y="101.3" width="1.3" height="1.3"/><rect x="471.8" y="100.0" width="1.3" height="1.3"/><rect x="473.0" y="99.3" width="1.3" height="1.3"/><rect x="465.7" y="101.7" width="1.3" height="1.3"/><rect x="457.4" y="95.8" width="1.3" height="1.3"/><rect x="444.8" y="88.5" width="1.3" height="1.3"/><rect x="450.1" y="93.1" width="1.3" height="1.3"/><rect x="450.8" y="91.5" width="1.3" height="1.3"/><rect x="458.2" y="95.5" width="1.3" height="1.3"/><rect x="490.3" y="108.9" width="1.3" height="1.3"/><rect x="452.2" y="97.6" width="1.3" height="1.3"/><rect x="458.1" y="98.7" width="1.3" height="1.3"/><rect x="455.4" y="92.4" width="1.3" height="1.3"/><rect x="466.7" y="99.1" width="1.3" height="1.3"/><rect x="487.4" y="107.4" width="1.3" height="1.3"/><rect x="483.3" y="108.6" width="1.3" height="1.3"/><rect x="455.9" y="92.0" width="1.3" height="1.3"/><rect x="448.6" y="92.6" width="1.3" height="1.3"/><rect x="483.1" y="108.2" width="1.3" height="1.3"/><rect x="461.8" y="96.7" width="1.3" height="1.3"/><rect x="473.1" y="100.3" width="1.3" height="1.3"/><rect x="437.7" y="88.0" width="1.3" height="1.3"/><rect x="483.0" y="105.0" width="1.3" height="1.3"/><rect x="450.0" y="96.6" width="1.3" height="1.3"/><rect x="462.6" y="94.6" width="1.3" height="1.3"/><rect x="445.4" y="89.3" width="1.3" height="1.3"/><rect x="458.4" y="92.9" width="1.3" height="1.3"/><rect x="480.1" y="106.3" width="1.3" height="1.3"/><rect x="480.8" y="104.0" width="1.3" height="1.3"/><rect x="459.4" y="99.9" width="1.3" height="1.3"/><rect x="476.1" y="106.0" width="1.3" height="1.3"/><rect x="458.4" y="99.8" width="1.3" height="1.3"/><rect x="455.3" y="93.2" width="1.3" height="1.3"/><rect x="465.8" y="95.1" width="1.3" height="1.3"/><rect x="445.2" y="90.4" width="1.3" height="1.3"/><rect x="450.1" y="96.9" width="1.3" height="1.3"/><rect x="473.0" y="103.8" width="1.3" height="1.3"/><rect x="478.3" y="101.3" width="1.3" height="1.3"/><rect x="436.5" y="88.0" width="1.3" height="1.3"/><rect x="474.1" y="105.3" width="1.3" height="1.3"/><rect x="478.8" y="107.5" width="1.3" height="1.3"/><rect x="458.2" y="98.0" width="1.3" height="1.3"/><rect x="436.5" y="88.8" width="1.3" height="1.3"/><rect x="471.4" y="103.7" width="1.3" height="1.3"/><rect x="447.8" y="91.2" width="1.3" height="1.3"/><rect x="471.2" y="98.2" width="1.3" height="1.3"/><rect x="454.2" y="96.8" width="1.3" height="1.3"/><rect x="470.7" y="98.3" width="1.3" height="1.3"/><rect x="448.4" y="91.6" width="1.3" height="1.3"/><rect x="459.4" y="100.6" width="1.3" height="1.3"/><rect x="463.2" y="98.5" width="1.3" height="1.3"/><rect x="469.4" y="100.5" width="1.3" height="1.3"/><rect x="444.0" y="93.6" width="1.3" height="1.3"/><rect x="488.5" y="106.9" width="1.3" height="1.3"/><rect x="448.5" y="96.4" width="1.3" height="1.3"/><rect x="449.6" y="96.3" width="1.3" height="1.3"/><rect x="448.4" y="91.4" width="1.3" height="1.3"/><rect x="437.8" y="86.9" width="1.3" height="1.3"/><rect x="458.4" y="93.3" width="1.3" height="1.3"/><rect x="476.3" y="106.2" width="1.3" height="1.3"/><rect x="474.6" y="100.4" width="1.3" height="1.3"/><rect x="445.7" y="88.1" width="1.3" height="1.3"/><rect x="440.5" y="91.4" width="1.3" height="1.3"/><rect x="451.4" y="94.5" width="1.3" height="1.3"/><rect x="476.7" y="104.7" width="1.3" height="1.3"/><rect x="460.7" y="98.9" width="1.3" height="1.3"/><rect x="486.6" y="105.1" width="1.3" height="1.3"/><rect x="471.9" y="98.5" width="1.3" height="1.3"/><rect x="468.8" y="100.2" width="1.3" height="1.3"/><rect x="478.2" y="101.1" width="1.3" height="1.3"/><rect x="476.1" y="103.3" width="1.3" height="1.3"/><rect x="452.2" y="96.1" width="1.3" height="1.3"/><rect x="447.6" y="93.3" width="1.3" height="1.3"/><rect x="458.0" y="97.1" width="1.3" height="1.3"/><rect x="462.4" y="94.2" width="1.3" height="1.3"/><rect x="442.1" y="88.3" width="1.3" height="1.3"/><rect x="457.5" y="99.2" width="1.3" height="1.3"/><rect x="470.9" y="98.3" width="1.3" height="1.3"/><rect x="441.1" y="89.6" width="1.3" height="1.3"/><rect x="442.3" y="87.3" width="1.3" height="1.3"/><rect x="442.4" y="92.7" width="1.3" height="1.3"/><rect x="450.4" y="90.8" width="1.3" height="1.3"/><rect x="488.3" y="107.4" width="1.3" height="1.3"/><rect x="435.2" y="86.5" width="1.3" height="1.3"/><rect x="443.4" y="91.8" width="1.3" height="1.3"/><rect x="441.9" y="92.5" width="1.3" height="1.3"/><rect x="459.9" y="98.7" width="1.3" height="1.3"/><rect x="434.9" y="85.6" width="1.3" height="1.3"/><rect x="460.6" y="93.7" width="1.3" height="1.3"/><rect x="442.3" y="91.2" width="1.3" height="1.3"/><rect x="447.5" y="95.7" width="1.3" height="1.3"/><rect x="479.6" y="101.6" width="1.3" height="1.3"/><rect x="443.3" y="92.1" width="1.3" height="1.3"/><rect x="469.5" y="98.0" width="1.3" height="1.3"/><rect x="456.6" y="95.4" width="1.3" height="1.3"/><rect x="457.1" y="96.1" width="1.3" height="1.3"/><rect x="479.6" y="105.5" width="1.3" height="1.3"/><rect x="441.6" y="92.6" width="1.3" height="1.3"/><rect x="485.8" y="107.8" width="1.3" height="1.3"/><rect x="484.4" y="105.9" width="1.3" height="1.3"/><rect x="470.9" y="102.6" width="1.3" height="1.3"/><rect x="436.6" y="86.9" width="1.3" height="1.3"/><rect x="471.5" y="100.7" width="1.3" height="1.3"/><rect x="468.1" y="98.8" width="1.3" height="1.3"/><rect x="477.3" y="103.8" width="1.3" height="1.3"/><rect x="446.1" y="90.0" width="1.3" height="1.3"/><rect x="488.1" y="106.6" width="1.3" height="1.3"/><rect x="484.4" y="104.6" width="1.3" height="1.3"/><rect x="440.2" y="88.7" width="1.3" height="1.3"/><rect x="451.9" y="92.3" width="1.3" height="1.3"/><rect x="435.0" y="87.7" width="1.3" height="1.3"/><rect x="480.0" y="107.1" width="1.3" height="1.3"/><rect x="485.8" y="106.1" width="1.3" height="1.3"/><rect x="489.7" y="108.6" width="1.3" height="1.3"/><rect x="467.2" y="102.5" width="1.3" height="1.3"/><rect x="471.7" y="100.4" width="1.3" height="1.3"/><rect x="471.9" y="101.9" width="1.3" height="1.3"/><rect x="466.1" y="98.6" width="1.3" height="1.3"/><rect x="487.5" y="108.1" width="1.3" height="1.3"/><rect x="466.9" y="102.8" width="1.3" height="1.3"/><rect x="453.6" y="91.6" width="1.3" height="1.3"/><rect x="461.5" y="101.0" width="1.3" height="1.3"/><rect x="434.6" y="86.7" width="1.3" height="1.3"/><rect x="473.9" y="104.4" width="1.3" height="1.3"/><rect x="472.6" y="102.7" width="1.3" height="1.3"/><rect x="456.4" y="98.7" width="1.3" height="1.3"/><rect x="482.1" y="104.7" width="1.3" height="1.3"/><rect x="475.9" y="104.6" width="1.3" height="1.3"/><rect x="453.2" y="92.5" width="1.3" height="1.3"/><rect x="438.0" y="87.9" width="1.3" height="1.3"/><rect x="440.6" y="90.3" width="1.3" height="1.3"/><rect x="444.6" y="89.0" width="1.3" height="1.3"/><rect x="451.9" y="90.4" width="1.3" height="1.3"/><rect x="458.2" y="98.6" width="1.3" height="1.3"/><rect x="485.9" y="108.3" width="1.3" height="1.3"/><rect x="448.8" y="93.9" width="1.3" height="1.3"/><rect x="484.8" y="105.7" width="1.3" height="1.3"/><rect x="471.8" y="102.6" width="1.3" height="1.3"/><rect x="482.7" y="103.5" width="1.3" height="1.3"/><rect x="455.9" y="96.8" width="1.3" height="1.3"/><rect x="433.9" y="86.0" width="1.3" height="1.3"/><rect x="477.9" y="104.8" width="1.3" height="1.3"/><rect x="447.5" y="91.7" width="1.3" height="1.3"/><rect x="442.2" y="88.2" width="1.3" height="1.3"/><rect x="478.3" y="105.7" width="1.3" height="1.3"/><rect x="472.6" y="101.5" width="1.3" height="1.3"/><rect x="444.9" y="92.7" width="1.3" height="1.3"/><rect x="449.0" y="91.7" width="1.3" height="1.3"/><rect x="487.5" y="105.7" width="1.3" height="1.3"/><rect x="448.6" y="92.9" width="1.3" height="1.3"/><rect x="473.1" y="102.9" width="1.3" height="1.3"/><rect x="440.0" y="91.4" width="1.3" height="1.3"/><rect x="478.8" y="107.0" width="1.3" height="1.3"/><rect x="441.3" y="87.0" width="1.3" height="1.3"/><rect x="462.2" y="99.8" width="1.3" height="1.3"/><rect x="436.2" y="85.9" width="1.3" height="1.3"/><rect x="464.4" y="99.9" width="1.3" height="1.3"/><rect x="481.8" y="104.8" width="1.3" height="1.3"/><rect x="438.8" y="87.3" width="1.3" height="1.3"/><rect x="449.1" y="92.6" width="1.3" height="1.3"/><rect x="476.8" y="103.8" width="1.3" height="1.3"/><rect x="467.6" y="101.1" width="1.3" height="1.3"/><rect x="450.8" y="94.6" width="1.3" height="1.3"/><rect x="468.8" y="101.5" width="1.3" height="1.3"/><rect x="459.6" y="95.8" width="1.3" height="1.3"/><rect x="482.2" y="106.7" width="1.3" height="1.3"/><rect x="450.5" y="92.1" width="1.3" height="1.3"/><rect x="476.3" y="104.1" width="1.3" height="1.3"/><rect x="469.8" y="100.3" width="1.3" height="1.3"/><rect x="475.4" y="103.4" width="1.3" height="1.3"/><rect x="456.2" y="91.5" width="1.3" height="1.3"/><rect x="474.7" y="102.7" width="1.3" height="1.3"/><rect x="473.9" y="100.4" width="1.3" height="1.3"/><rect x="455.7" y="94.4" width="1.3" height="1.3"/><rect x="436.0" y="85.0" width="1.3" height="1.3"/><rect x="488.1" y="108.3" width="1.3" height="1.3"/><rect x="473.0" y="104.7" width="1.3" height="1.3"/><rect x="445.4" y="90.3" width="1.3" height="1.3"/><rect x="476.0" y="100.5" width="1.3" height="1.3"/><rect x="448.9" y="93.6" width="1.3" height="1.3"/><rect x="461.1" y="94.3" width="1.3" height="1.3"/><rect x="481.7" y="107.7" width="1.3" height="1.3"/><rect x="459.9" y="93.8" width="1.3" height="1.3"/><rect x="450.2" y="92.1" width="1.3" height="1.3"/><rect x="450.8" y="93.4" width="1.3" height="1.3"/><rect x="438.8" y="86.3" width="1.3" height="1.3"/><rect x="446.4" y="90.4" width="1.3" height="1.3"/><rect x="449.4" y="91.2" width="1.3" height="1.3"/><rect x="442.8" y="91.5" width="1.3" height="1.3"/><rect x="436.3" y="89.3" width="1.3" height="1.3"/><rect x="460.3" y="95.9" width="1.3" height="1.3"/><rect x="444.9" y="93.0" width="1.3" height="1.3"/><rect x="476.4" y="100.9" width="1.3" height="1.3"/><rect x="485.8" y="107.3" width="1.3" height="1.3"/><rect x="449.1" y="92.3" width="1.3" height="1.3"/><rect x="466.6" y="97.6" width="1.3" height="1.3"/><rect x="461.5" y="99.9" width="1.3" height="1.3"/><rect x="437.4" y="88.8" width="1.3" height="1.3"/><rect x="441.3" y="87.4" width="1.3" height="1.3"/><rect x="484.1" y="105.2" width="1.3" height="1.3"/><rect x="459.7" y="99.3" width="1.3" height="1.3"/><rect x="478.0" y="107.3" width="1.3" height="1.3"/><rect x="437.2" y="88.0" width="1.3" height="1.3"/><rect x="466.4" y="101.9" width="1.3" height="1.3"/><rect x="481.8" y="108.3" width="1.3" height="1.3"/><rect x="482.3" y="107.1" width="1.3" height="1.3"/><rect x="433.9" y="86.2" width="1.3" height="1.3"/><rect x="463.9" y="96.1" width="1.3" height="1.3"/><rect x="454.7" y="93.9" width="1.3" height="1.3"/><rect x="476.3" y="104.2" width="1.3" height="1.3"/><rect x="436.9" y="89.4" width="1.3" height="1.3"/><rect x="449.0" y="91.2" width="1.3" height="1.3"/><rect x="479.9" y="104.2" width="1.3" height="1.3"/><rect x="461.4" y="93.6" width="1.3" height="1.3"/><rect x="458.7" y="98.0" width="1.3" height="1.3"/><rect x="488.7" y="107.6" width="1.3" height="1.3"/><rect x="450.7" y="95.9" width="1.3" height="1.3"/><rect x="436.6" y="85.9" width="1.3" height="1.3"/><rect x="455.3" y="96.6" width="1.3" height="1.3"/><rect x="441.8" y="90.8" width="1.3" height="1.3"/><rect x="438.3" y="87.9" width="1.3" height="1.3"/><rect x="466.6" y="96.9" width="1.3" height="1.3"/><rect x="487.9" y="107.2" width="1.3" height="1.3"/><rect x="465.9" y="100.8" width="1.3" height="1.3"/><rect x="471.1" y="98.9" width="1.3" height="1.3"/><rect x="453.0" y="91.0" width="1.3" height="1.3"/></g>
<g fill="#7fd0aa"><rect x="473.4" y="110.0" width="1.2" height="1.2"/><rect x="491.1" y="115.4" width="1.2" height="1.2"/><rect x="493.4" y="111.4" width="1.2" height="1.2"/><rect x="495.9" y="112.9" width="1.2" height="1.2"/><rect x="497.4" y="114.9" width="1.2" height="1.2"/><rect x="499.7" y="112.2" width="1.2" height="1.2"/><rect x="498.4" y="115.9" width="1.2" height="1.2"/><rect x="509.5" y="118.1" width="1.2" height="1.2"/><rect x="485.4" y="111.9" width="1.2" height="1.2"/><rect x="479.4" y="103.9" width="1.2" height="1.2"/><rect x="458.4" y="91.9" width="1.2" height="1.2"/><rect x="462.4" y="93.4" width="1.2" height="1.2"/><rect x="445.4" y="100.4" width="1.2" height="1.2"/><rect x="469.4" y="96.9" width="1.2" height="1.2"/><rect x="475.4" y="99.9" width="1.2" height="1.2"/><rect x="483.4" y="110.4" width="1.2" height="1.2"/></g>
<g fill="#8ea0cb"><rect x="665.6" y="34.1" width="1.3" height="1.3"/><rect x="669.0" y="29.6" width="1.3" height="1.3"/><rect x="662.4" y="40.8" width="1.3" height="1.3"/><rect x="662.9" y="41.6" width="1.3" height="1.3"/><rect x="660.0" y="43.2" width="1.3" height="1.3"/><rect x="662.7" y="42.1" width="1.3" height="1.3"/><rect x="663.5" y="36.6" width="1.3" height="1.3"/><rect x="667.4" y="28.7" width="1.3" height="1.3"/><rect x="662.6" y="41.5" width="1.3" height="1.3"/><rect x="665.2" y="41.3" width="1.3" height="1.3"/><rect x="661.7" y="38.1" width="1.3" height="1.3"/><rect x="664.7" y="39.8" width="1.3" height="1.3"/><rect x="661.2" y="40.7" width="1.3" height="1.3"/><rect x="666.7" y="30.3" width="1.3" height="1.3"/><rect x="663.3" y="37.2" width="1.3" height="1.3"/><rect x="664.8" y="35.2" width="1.3" height="1.3"/><rect x="668.5" y="32.0" width="1.3" height="1.3"/><rect x="666.5" y="31.0" width="1.3" height="1.3"/><rect x="669.4" y="27.8" width="1.3" height="1.3"/><rect x="668.6" y="35.9" width="1.3" height="1.3"/><rect x="668.3" y="32.7" width="1.3" height="1.3"/><rect x="668.7" y="34.2" width="1.3" height="1.3"/><rect x="660.4" y="40.8" width="1.3" height="1.3"/><rect x="663.0" y="37.2" width="1.3" height="1.3"/><rect x="665.6" y="40.2" width="1.3" height="1.3"/><rect x="660.6" y="44.8" width="1.3" height="1.3"/><rect x="670.0" y="29.2" width="1.3" height="1.3"/><rect x="667.3" y="35.8" width="1.3" height="1.3"/><rect x="666.9" y="26.5" width="1.3" height="1.3"/><rect x="665.4" y="32.3" width="1.3" height="1.3"/><rect x="658.6" y="42.3" width="1.3" height="1.3"/><rect x="668.0" y="26.3" width="1.3" height="1.3"/><rect x="662.3" y="39.2" width="1.3" height="1.3"/><rect x="662.1" y="42.4" width="1.3" height="1.3"/><rect x="667.8" y="36.1" width="1.3" height="1.3"/><rect x="664.3" y="42.0" width="1.3" height="1.3"/><rect x="665.6" y="33.6" width="1.3" height="1.3"/><rect x="669.6" y="32.8" width="1.3" height="1.3"/><rect x="669.6" y="36.6" width="1.3" height="1.3"/><rect x="670.3" y="28.6" width="1.3" height="1.3"/><rect x="669.7" y="31.7" width="1.3" height="1.3"/><rect x="667.4" y="30.8" width="1.3" height="1.3"/><rect x="661.0" y="45.2" width="1.3" height="1.3"/><rect x="670.0" y="32.5" width="1.3" height="1.3"/><rect x="667.0" y="28.7" width="1.3" height="1.3"/><rect x="659.1" y="42.3" width="1.3" height="1.3"/><rect x="668.5" y="27.5" width="1.3" height="1.3"/><rect x="659.7" y="43.6" width="1.3" height="1.3"/><rect x="662.5" y="42.4" width="1.3" height="1.3"/><rect x="663.4" y="36.5" width="1.3" height="1.3"/><rect x="666.2" y="33.4" width="1.3" height="1.3"/><rect x="669.2" y="28.8" width="1.3" height="1.3"/><rect x="670.8" y="26.5" width="1.3" height="1.3"/><rect x="670.5" y="26.5" width="1.3" height="1.3"/><rect x="669.0" y="32.5" width="1.3" height="1.3"/><rect x="668.9" y="33.9" width="1.3" height="1.3"/><rect x="661.9" y="44.0" width="1.3" height="1.3"/><rect x="667.2" y="36.8" width="1.3" height="1.3"/><rect x="659.6" y="44.3" width="1.3" height="1.3"/><rect x="664.3" y="40.2" width="1.3" height="1.3"/><rect x="669.8" y="27.5" width="1.3" height="1.3"/><rect x="667.2" y="37.4" width="1.3" height="1.3"/><rect x="669.9" y="27.8" width="1.3" height="1.3"/><rect x="668.4" y="25.1" width="1.3" height="1.3"/><rect x="660.2" y="43.3" width="1.3" height="1.3"/><rect x="670.2" y="32.6" width="1.3" height="1.3"/><rect x="667.6" y="28.8" width="1.3" height="1.3"/><rect x="669.0" y="26.6" width="1.3" height="1.3"/><rect x="664.9" y="38.4" width="1.3" height="1.3"/><rect x="666.2" y="34.3" width="1.3" height="1.3"/><rect x="667.8" y="24.5" width="1.3" height="1.3"/><rect x="662.4" y="37.7" width="1.3" height="1.3"/><rect x="667.3" y="29.5" width="1.3" height="1.3"/><rect x="661.9" y="39.6" width="1.3" height="1.3"/><rect x="665.9" y="34.9" width="1.3" height="1.3"/><rect x="668.3" y="38.0" width="1.3" height="1.3"/><rect x="666.3" y="34.2" width="1.3" height="1.3"/><rect x="665.3" y="39.6" width="1.3" height="1.3"/><rect x="660.2" y="44.7" width="1.3" height="1.3"/><rect x="663.8" y="41.7" width="1.3" height="1.3"/><rect x="669.5" y="25.7" width="1.3" height="1.3"/><rect x="670.0" y="36.5" width="1.3" height="1.3"/><rect x="668.4" y="29.3" width="1.3" height="1.3"/><rect x="667.9" y="26.7" width="1.3" height="1.3"/><rect x="667.7" y="28.9" width="1.3" height="1.3"/><rect x="671.2" y="30.7" width="1.3" height="1.3"/><rect x="659.5" y="43.3" width="1.3" height="1.3"/><rect x="661.9" y="38.3" width="1.3" height="1.3"/><rect x="663.2" y="42.9" width="1.3" height="1.3"/><rect x="665.1" y="40.2" width="1.3" height="1.3"/><rect x="669.9" y="31.9" width="1.3" height="1.3"/><rect x="668.2" y="33.2" width="1.3" height="1.3"/><rect x="669.5" y="34.9" width="1.3" height="1.3"/><rect x="668.5" y="30.9" width="1.3" height="1.3"/><rect x="668.7" y="34.2" width="1.3" height="1.3"/><rect x="662.1" y="39.5" width="1.3" height="1.3"/><rect x="668.9" y="25.9" width="1.3" height="1.3"/><rect x="667.8" y="30.2" width="1.3" height="1.3"/><rect x="668.8" y="35.7" width="1.3" height="1.3"/><rect x="663.6" y="37.7" width="1.3" height="1.3"/><rect x="664.0" y="37.1" width="1.3" height="1.3"/><rect x="662.7" y="38.4" width="1.3" height="1.3"/><rect x="671.2" y="26.4" width="1.3" height="1.3"/><rect x="666.8" y="28.7" width="1.3" height="1.3"/><rect x="668.2" y="31.2" width="1.3" height="1.3"/><rect x="670.2" y="31.2" width="1.3" height="1.3"/><rect x="663.2" y="40.1" width="1.3" height="1.3"/><rect x="659.4" y="44.2" width="1.3" height="1.3"/><rect x="664.2" y="38.6" width="1.3" height="1.3"/><rect x="670.0" y="24.8" width="1.3" height="1.3"/><rect x="670.1" y="31.5" width="1.3" height="1.3"/><rect x="662.7" y="41.0" width="1.3" height="1.3"/><rect x="659.5" y="42.2" width="1.3" height="1.3"/><rect x="666.0" y="37.6" width="1.3" height="1.3"/><rect x="671.0" y="33.2" width="1.3" height="1.3"/><rect x="668.6" y="32.4" width="1.3" height="1.3"/><rect x="666.3" y="39.2" width="1.3" height="1.3"/><rect x="663.1" y="43.1" width="1.3" height="1.3"/><rect x="665.6" y="31.0" width="1.3" height="1.3"/><rect x="670.5" y="28.5" width="1.3" height="1.3"/><rect x="668.7" y="24.2" width="1.3" height="1.3"/><rect x="669.9" y="27.3" width="1.3" height="1.3"/><rect x="663.2" y="42.8" width="1.3" height="1.3"/><rect x="663.7" y="36.0" width="1.3" height="1.3"/><rect x="658.2" y="43.2" width="1.3" height="1.3"/><rect x="670.5" y="25.6" width="1.3" height="1.3"/><rect x="668.7" y="32.8" width="1.3" height="1.3"/><rect x="662.8" y="40.9" width="1.3" height="1.3"/><rect x="665.9" y="39.8" width="1.3" height="1.3"/><rect x="668.3" y="25.8" width="1.3" height="1.3"/><rect x="666.3" y="32.8" width="1.3" height="1.3"/><rect x="664.0" y="36.8" width="1.3" height="1.3"/><rect x="663.5" y="38.0" width="1.3" height="1.3"/><rect x="670.4" y="35.5" width="1.3" height="1.3"/><rect x="670.8" y="28.4" width="1.3" height="1.3"/><rect x="659.8" y="43.7" width="1.3" height="1.3"/><rect x="666.2" y="34.4" width="1.3" height="1.3"/><rect x="664.0" y="39.7" width="1.3" height="1.3"/><rect x="667.1" y="36.6" width="1.3" height="1.3"/><rect x="667.4" y="26.2" width="1.3" height="1.3"/><rect x="671.9" y="30.7" width="1.3" height="1.3"/><rect x="670.0" y="25.5" width="1.3" height="1.3"/><rect x="670.5" y="28.5" width="1.3" height="1.3"/><rect x="666.5" y="29.1" width="1.3" height="1.3"/><rect x="669.4" y="34.3" width="1.3" height="1.3"/><rect x="671.2" y="32.5" width="1.3" height="1.3"/><rect x="668.7" y="32.7" width="1.3" height="1.3"/><rect x="661.4" y="40.4" width="1.3" height="1.3"/><rect x="670.3" y="24.5" width="1.3" height="1.3"/><rect x="667.4" y="26.7" width="1.3" height="1.3"/></g>
<g fill="#8ea0cb"><rect x="654.5" y="47.5" width="1.1" height="1.1"/><rect x="652.0" y="50.0" width="1.1" height="1.1"/><rect x="650.5" y="52.5" width="1.1" height="1.1"/><rect x="650.0" y="55.0" width="1.1" height="1.1"/><rect x="653.5" y="52.0" width="1.1" height="1.1"/><rect x="656.0" y="46.5" width="1.1" height="1.1"/><rect x="656.5" y="50.5" width="1.1" height="1.1"/><rect x="653.0" y="46.0" width="1.1" height="1.1"/><rect x="657.5" y="46.0" width="1.1" height="1.1"/><rect x="655.0" y="44.0" width="1.1" height="1.1"/></g>
<g fill="#b21e32"><circle cx="586.1" cy="162.7" r="1.1"/><circle cx="587.7" cy="163.7" r="1.1"/><circle cx="587.0" cy="163.0" r="1.1"/><circle cx="586.6" cy="163.5" r="1.1"/><circle cx="588.6" cy="162.5" r="1.1"/><circle cx="588.9" cy="164.4" r="1.1"/><circle cx="586.9" cy="164.4" r="1.1"/><circle cx="585.9" cy="161.9" r="1.1"/><circle cx="586.1" cy="163.2" r="1.1"/><circle cx="587.1" cy="163.1" r="1.1"/><circle cx="587.5" cy="161.5" r="1.1"/><circle cx="587.9" cy="162.2" r="1.1"/><circle cx="586.7" cy="163.2" r="1.1"/><circle cx="586.2" cy="162.2" r="1.1"/><circle cx="586.4" cy="163.6" r="1.1"/><circle cx="588.0" cy="164.2" r="1.1"/><circle cx="586.4" cy="162.8" r="1.1"/><circle cx="586.5" cy="164.0" r="1.1"/></g>
<circle cx="585.6" cy="158.8" r="0.95" fill="#b21e32"/>
<circle cx="588.8" cy="157.2" r="0.95" fill="#b21e32"/>
<circle cx="590.4" cy="164" r="0.95" fill="#b21e32"/>
<circle cx="582" cy="171.5" r="0.95" fill="#b21e32"/>
<circle cx="582.8" cy="170.7" r="0.95" fill="#b21e32"/>
<circle cx="589.5" cy="163" r="0.95" fill="#b21e32"/>
<g fill="#dc87cd"><circle cx="599.8" cy="232.3" r="1.0"/><circle cx="601.9" cy="242.2" r="1.0"/><circle cx="598.0" cy="230.1" r="1.0"/><circle cx="597.7" cy="232.1" r="1.0"/><circle cx="601.0" cy="238.2" r="1.0"/><circle cx="601.9" cy="237.0" r="1.0"/><circle cx="598.4" cy="233.1" r="1.0"/><circle cx="599.8" cy="242.3" r="1.0"/><circle cx="599.0" cy="234.8" r="1.0"/><circle cx="599.0" cy="237.5" r="1.0"/><circle cx="600.0" cy="230.2" r="1.0"/><circle cx="600.9" cy="241.4" r="1.0"/><circle cx="600.6" cy="230.2" r="1.0"/><circle cx="601.2" cy="234.3" r="1.0"/><circle cx="599.8" cy="241.5" r="1.0"/><circle cx="601.6" cy="242.1" r="1.0"/><circle cx="598.6" cy="242.0" r="1.0"/><circle cx="600.6" cy="240.6" r="1.0"/><circle cx="600.1" cy="232.2" r="1.0"/><circle cx="598.3" cy="229.6" r="1.0"/><circle cx="598.1" cy="235.6" r="1.0"/><circle cx="598.6" cy="230.0" r="1.0"/><circle cx="602.1" cy="242.3" r="1.0"/><circle cx="598.6" cy="229.2" r="1.0"/><circle cx="598.3" cy="233.8" r="1.0"/><circle cx="599.9" cy="231.8" r="1.0"/><circle cx="599.8" cy="229.1" r="1.0"/><circle cx="599.0" cy="236.1" r="1.0"/><circle cx="599.0" cy="230.1" r="1.0"/><circle cx="601.9" cy="241.4" r="1.0"/><circle cx="600.8" cy="238.6" r="1.0"/><circle cx="600.5" cy="234.1" r="1.0"/><circle cx="600.4" cy="240.8" r="1.0"/><circle cx="600.5" cy="240.2" r="1.0"/><circle cx="598.5" cy="233.7" r="1.0"/><circle cx="600.0" cy="241.0" r="1.0"/><circle cx="602.4" cy="241.8" r="1.0"/><circle cx="599.8" cy="237.7" r="1.0"/><circle cx="598.8" cy="234.1" r="1.0"/><circle cx="600.3" cy="241.7" r="1.0"/></g>
<g fill="#dc87cd"><circle cx="600.5" cy="232.2" r="1.3"/><circle cx="598.5" cy="234.4" r="1.3"/><circle cx="598.4" cy="229.8" r="1.3"/><circle cx="600.5" cy="231.9" r="1.3"/><circle cx="599.2" cy="230.9" r="1.3"/><circle cx="598.2" cy="231.3" r="1.3"/><circle cx="599.1" cy="233.6" r="1.3"/><circle cx="597.2" cy="234.1" r="1.3"/><circle cx="598.3" cy="231.4" r="1.3"/><circle cx="600.2" cy="232.9" r="1.3"/></g>
<circle cx="594.8" cy="202.6" r="0.75" fill="#dc87cd"/>
<circle cx="596" cy="214.5" r="0.75" fill="#dc87cd"/>
<circle cx="598.8" cy="216" r="0.75" fill="#dc87cd"/>
<circle cx="596.5" cy="220" r="0.75" fill="#dc87cd"/>
<circle cx="597.2" cy="224.5" r="0.75" fill="#dc87cd"/>
<circle cx="593.5" cy="225.5" r="0.75" fill="#dc87cd"/>
<circle cx="596" cy="209" r="0.75" fill="#dc87cd"/>
<g fill="#ee875f"><circle cx="599.4" cy="265.3" r="1.05"/><circle cx="602.0" cy="250.3" r="1.05"/><circle cx="600.6" cy="251.3" r="1.05"/><circle cx="601.0" cy="262.9" r="1.05"/><circle cx="602.5" cy="264.2" r="1.05"/><circle cx="601.4" cy="260.8" r="1.05"/><circle cx="601.6" cy="252.2" r="1.05"/><circle cx="603.9" cy="254.9" r="1.05"/><circle cx="600.7" cy="263.0" r="1.05"/><circle cx="600.7" cy="252.7" r="1.05"/><circle cx="601.8" cy="262.3" r="1.05"/><circle cx="602.8" cy="261.8" r="1.05"/><circle cx="599.7" cy="255.1" r="1.05"/><circle cx="601.1" cy="264.3" r="1.05"/><circle cx="600.2" cy="253.3" r="1.05"/><circle cx="599.8" cy="261.1" r="1.05"/><circle cx="601.9" cy="258.7" r="1.05"/><circle cx="600.4" cy="252.1" r="1.05"/><circle cx="601.6" cy="256.4" r="1.05"/><circle cx="601.4" cy="258.0" r="1.05"/><circle cx="601.4" cy="256.5" r="1.05"/><circle cx="601.2" cy="247.4" r="1.05"/><circle cx="600.2" cy="266.3" r="1.05"/><circle cx="601.3" cy="265.8" r="1.05"/><circle cx="601.4" cy="245.8" r="1.05"/><circle cx="601.7" cy="265.3" r="1.05"/><circle cx="600.9" cy="256.4" r="1.05"/><circle cx="602.2" cy="247.7" r="1.05"/><circle cx="601.9" cy="262.6" r="1.05"/><circle cx="601.3" cy="254.3" r="1.05"/><circle cx="602.0" cy="260.3" r="1.05"/><circle cx="601.5" cy="262.8" r="1.05"/><circle cx="602.0" cy="256.6" r="1.05"/><circle cx="599.0" cy="246.1" r="1.05"/><circle cx="599.9" cy="262.7" r="1.05"/><circle cx="600.8" cy="259.9" r="1.05"/><circle cx="601.4" cy="264.6" r="1.05"/><circle cx="598.8" cy="250.8" r="1.05"/><circle cx="601.0" cy="261.9" r="1.05"/><circle cx="601.5" cy="263.8" r="1.05"/><circle cx="600.9" cy="252.6" r="1.05"/><circle cx="600.9" cy="253.8" r="1.05"/><circle cx="599.7" cy="252.2" r="1.05"/><circle cx="601.2" cy="245.1" r="1.05"/><circle cx="598.9" cy="250.0" r="1.05"/><circle cx="602.2" cy="252.1" r="1.05"/><circle cx="600.5" cy="247.3" r="1.05"/><circle cx="602.5" cy="261.4" r="1.05"/><circle cx="599.3" cy="254.2" r="1.05"/><circle cx="601.7" cy="257.2" r="1.05"/><circle cx="601.3" cy="251.1" r="1.05"/><circle cx="600.3" cy="252.8" r="1.05"/><circle cx="600.0" cy="261.2" r="1.05"/><circle cx="602.5" cy="255.1" r="1.05"/><circle cx="601.7" cy="257.8" r="1.05"/><circle cx="602.8" cy="254.1" r="1.05"/><circle cx="601.2" cy="257.0" r="1.05"/><circle cx="601.5" cy="264.3" r="1.05"/><circle cx="601.6" cy="250.7" r="1.05"/><circle cx="602.1" cy="256.2" r="1.05"/><circle cx="601.8" cy="259.8" r="1.05"/><circle cx="602.0" cy="246.9" r="1.05"/><circle cx="600.8" cy="265.7" r="1.05"/><circle cx="599.6" cy="255.7" r="1.05"/><circle cx="603.4" cy="250.3" r="1.05"/><circle cx="601.5" cy="261.3" r="1.05"/><circle cx="601.8" cy="262.5" r="1.05"/><circle cx="600.8" cy="258.6" r="1.05"/><circle cx="602.4" cy="264.7" r="1.05"/><circle cx="601.4" cy="246.9" r="1.05"/><circle cx="602.4" cy="256.3" r="1.05"/><circle cx="600.6" cy="261.0" r="1.05"/><circle cx="601.3" cy="264.7" r="1.05"/><circle cx="601.5" cy="258.8" r="1.05"/><circle cx="600.9" cy="258.0" r="1.05"/><circle cx="601.5" cy="253.3" r="1.05"/><circle cx="603.0" cy="257.3" r="1.05"/><circle cx="600.7" cy="256.9" r="1.05"/><circle cx="601.1" cy="264.5" r="1.05"/><circle cx="601.5" cy="262.8" r="1.05"/></g>
<g fill="#ee875f"><circle cx="601.7" cy="265.7" r="1.3"/><circle cx="599.2" cy="263.7" r="1.3"/><circle cx="602.4" cy="265.9" r="1.3"/><circle cx="599.6" cy="263.3" r="1.3"/><circle cx="599.7" cy="264.0" r="1.3"/><circle cx="598.6" cy="264.5" r="1.3"/><circle cx="599.0" cy="263.3" r="1.3"/><circle cx="601.6" cy="263.8" r="1.3"/></g>
<line x1="422.10" y1="326.20" x2="422.10" y2="578.90" stroke="#2a2a2a" stroke-width="1.2"/>
<line x1="421.50" y1="578.40" x2="684.10" y2="578.40" stroke="#2a2a2a" stroke-width="1.2"/>
<line x1="419.20" y1="337.80" x2="422.10" y2="337.80" stroke="#2a2a2a" stroke-width="1.1"/>
<text transform="translate(415.40 341.70) scale(0.940 1)" font-size="11.3" fill="#1a1a1a" text-anchor="end">0.2</text>
<line x1="419.20" y1="411.90" x2="422.10" y2="411.90" stroke="#2a2a2a" stroke-width="1.1"/>
<text transform="translate(415.40 415.80) scale(0.940 1)" font-size="11.3" fill="#1a1a1a" text-anchor="end">0.0</text>
<line x1="419.20" y1="486.00" x2="422.10" y2="486.00" stroke="#2a2a2a" stroke-width="1.1"/>
<text transform="translate(415.40 489.90) scale(0.940 1)" font-size="11.3" fill="#1a1a1a" text-anchor="end">−0.2</text>
<line x1="419.20" y1="560.00" x2="422.10" y2="560.00" stroke="#2a2a2a" stroke-width="1.1"/>
<text transform="translate(415.40 563.90) scale(0.940 1)" font-size="11.3" fill="#1a1a1a" text-anchor="end">−0.4</text>
<line x1="450.50" y1="578.40" x2="450.50" y2="581.40" stroke="#2a2a2a" stroke-width="1.1"/>
<text transform="translate(449.80 590.80) scale(0.940 1)" font-size="11.3" fill="#1a1a1a" text-anchor="middle">−0.2</text>
<line x1="531.15" y1="578.40" x2="531.15" y2="581.40" stroke="#2a2a2a" stroke-width="1.1"/>
<text transform="translate(530.45 590.80) scale(0.940 1)" font-size="11.3" fill="#1a1a1a" text-anchor="middle">0.0</text>
<line x1="611.80" y1="578.40" x2="611.80" y2="581.40" stroke="#2a2a2a" stroke-width="1.1"/>
<text transform="translate(611.10 590.80) scale(0.940 1)" font-size="11.3" fill="#1a1a1a" text-anchor="middle">0.2</text>
<text transform="translate(552.60 603.00) scale(0.920 1)" font-size="11.3" fill="#1a1a1a" text-anchor="middle">NMDS1</text>
<text transform="translate(393.00 452.50) rotate(-90) scale(0.920 1)" font-size="11.3" fill="#1a1a1a" text-anchor="middle">NMDS2</text>
<text transform="translate(405.40 324.00) scale(0.960 1)" font-size="23.5" fill="#000" font-weight="bold">c</text>
<text transform="translate(425.7 337.8) scale(0.958 1)" font-size="10.6" fill="#000">Stress: 0.148, <tspan font-style="italic">P</tspan>&lt;0.001</text>
<g stroke="#7fd0aa" stroke-width="0.5" stroke-opacity="0.07"><line x1="459.0" y1="407.0" x2="457.8" y2="408.8"/><line x1="459.0" y1="407.0" x2="460.0" y2="403.3"/><line x1="459.0" y1="407.0" x2="447.6" y2="404.4"/><line x1="459.0" y1="407.0" x2="476.9" y2="415.3"/><line x1="459.0" y1="407.0" x2="445.6" y2="405.1"/><line x1="459.0" y1="407.0" x2="461.5" y2="398.4"/><line x1="459.0" y1="407.0" x2="446.6" y2="400.7"/><line x1="459.0" y1="407.0" x2="457.9" y2="402.7"/><line x1="459.0" y1="407.0" x2="454.8" y2="400.1"/><line x1="459.0" y1="407.0" x2="442.3" y2="403.2"/><line x1="459.0" y1="407.0" x2="462.3" y2="402.6"/><line x1="459.0" y1="407.0" x2="462.7" y2="400.0"/><line x1="459.0" y1="407.0" x2="476.5" y2="410.9"/><line x1="459.0" y1="407.0" x2="457.0" y2="406.1"/><line x1="459.0" y1="407.0" x2="467.8" y2="413.5"/><line x1="459.0" y1="407.0" x2="463.1" y2="404.6"/><line x1="459.0" y1="407.0" x2="460.9" y2="404.9"/><line x1="459.0" y1="407.0" x2="451.1" y2="405.5"/><line x1="459.0" y1="407.0" x2="463.4" y2="405.0"/><line x1="459.0" y1="407.0" x2="467.3" y2="411.3"/><line x1="459.0" y1="407.0" x2="474.1" y2="409.2"/><line x1="459.0" y1="407.0" x2="457.4" y2="400.6"/><line x1="459.0" y1="407.0" x2="474.5" y2="406.6"/><line x1="459.0" y1="407.0" x2="452.2" y2="400.4"/><line x1="459.0" y1="407.0" x2="460.1" y2="406.8"/><line x1="459.0" y1="407.0" x2="443.4" y2="411.3"/><line x1="459.0" y1="407.0" x2="465.5" y2="406.2"/><line x1="459.0" y1="407.0" x2="477.5" y2="406.1"/><line x1="459.0" y1="407.0" x2="461.0" y2="415.0"/><line x1="459.0" y1="407.0" x2="444.6" y2="412.4"/><line x1="459.0" y1="407.0" x2="479.0" y2="408.8"/><line x1="459.0" y1="407.0" x2="475.4" y2="409.2"/><line x1="459.0" y1="407.0" x2="455.9" y2="406.2"/><line x1="459.0" y1="407.0" x2="472.5" y2="403.3"/><line x1="459.0" y1="407.0" x2="458.6" y2="403.3"/><line x1="459.0" y1="407.0" x2="466.5" y2="409.0"/><line x1="459.0" y1="407.0" x2="462.5" y2="400.8"/><line x1="459.0" y1="407.0" x2="453.9" y2="410.3"/><line x1="459.0" y1="407.0" x2="460.5" y2="400.8"/><line x1="459.0" y1="407.0" x2="453.6" y2="405.8"/><line x1="459.0" y1="407.0" x2="464.7" y2="412.8"/><line x1="459.0" y1="407.0" x2="449.2" y2="405.8"/><line x1="459.0" y1="407.0" x2="449.8" y2="402.0"/><line x1="459.0" y1="407.0" x2="471.8" y2="403.6"/><line x1="459.0" y1="407.0" x2="464.4" y2="409.4"/><line x1="459.0" y1="407.0" x2="467.4" y2="410.3"/><line x1="459.0" y1="407.0" x2="472.4" y2="407.9"/><line x1="459.0" y1="407.0" x2="440.0" y2="401.5"/><line x1="459.0" y1="407.0" x2="442.8" y2="409.4"/><line x1="459.0" y1="407.0" x2="452.2" y2="402.1"/><line x1="459.0" y1="407.0" x2="459.2" y2="405.8"/><line x1="459.0" y1="407.0" x2="449.7" y2="405.5"/><line x1="459.0" y1="407.0" x2="456.9" y2="399.5"/><line x1="459.0" y1="407.0" x2="467.0" y2="404.9"/><line x1="459.0" y1="407.0" x2="458.9" y2="412.2"/><line x1="459.0" y1="407.0" x2="450.0" y2="408.4"/><line x1="459.0" y1="407.0" x2="445.7" y2="398.3"/><line x1="459.0" y1="407.0" x2="448.0" y2="408.4"/><line x1="459.0" y1="407.0" x2="456.3" y2="405.1"/><line x1="459.0" y1="407.0" x2="439.0" y2="404.4"/><line x1="459.0" y1="407.0" x2="459.9" y2="410.2"/><line x1="459.0" y1="407.0" x2="467.6" y2="399.8"/><line x1="459.0" y1="407.0" x2="468.4" y2="412.3"/><line x1="459.0" y1="407.0" x2="451.0" y2="402.7"/><line x1="459.0" y1="407.0" x2="459.0" y2="398.7"/><line x1="459.0" y1="407.0" x2="452.2" y2="402.3"/><line x1="459.0" y1="407.0" x2="448.7" y2="401.3"/><line x1="459.0" y1="407.0" x2="462.9" y2="404.3"/><line x1="459.0" y1="407.0" x2="448.5" y2="410.5"/><line x1="459.0" y1="407.0" x2="465.1" y2="410.7"/><line x1="459.0" y1="407.0" x2="471.5" y2="407.2"/><line x1="459.0" y1="407.0" x2="457.5" y2="402.2"/><line x1="459.0" y1="407.0" x2="472.6" y2="417.0"/><line x1="459.0" y1="407.0" x2="453.7" y2="405.2"/><line x1="459.0" y1="407.0" x2="448.7" y2="405.0"/><line x1="459.0" y1="407.0" x2="463.2" y2="406.2"/><line x1="459.0" y1="407.0" x2="455.8" y2="406.4"/><line x1="459.0" y1="407.0" x2="454.3" y2="408.7"/><line x1="459.0" y1="407.0" x2="441.8" y2="401.8"/><line x1="459.0" y1="407.0" x2="454.7" y2="403.6"/><line x1="459.0" y1="407.0" x2="446.0" y2="409.6"/><line x1="459.0" y1="407.0" x2="468.1" y2="405.2"/><line x1="459.0" y1="407.0" x2="451.0" y2="403.5"/><line x1="459.0" y1="407.0" x2="460.8" y2="407.0"/><line x1="459.0" y1="407.0" x2="460.7" y2="411.4"/><line x1="459.0" y1="407.0" x2="457.2" y2="405.6"/><line x1="459.0" y1="407.0" x2="448.6" y2="409.4"/><line x1="459.0" y1="407.0" x2="456.4" y2="406.3"/><line x1="459.0" y1="407.0" x2="467.4" y2="409.0"/><line x1="459.0" y1="407.0" x2="476.3" y2="408.5"/><line x1="459.0" y1="407.0" x2="469.9" y2="410.6"/><line x1="459.0" y1="407.0" x2="462.7" y2="409.4"/><line x1="459.0" y1="407.0" x2="444.9" y2="405.6"/><line x1="459.0" y1="407.0" x2="447.9" y2="398.6"/><line x1="459.0" y1="407.0" x2="467.5" y2="412.7"/><line x1="459.0" y1="407.0" x2="453.5" y2="402.0"/><line x1="459.0" y1="407.0" x2="464.9" y2="410.0"/><line x1="459.0" y1="407.0" x2="474.7" y2="405.0"/><line x1="459.0" y1="407.0" x2="474.8" y2="414.6"/><line x1="459.0" y1="407.0" x2="461.0" y2="405.9"/><line x1="459.0" y1="407.0" x2="464.7" y2="405.9"/><line x1="459.0" y1="407.0" x2="456.1" y2="405.5"/><line x1="459.0" y1="407.0" x2="456.0" y2="407.2"/><line x1="459.0" y1="407.0" x2="469.1" y2="404.0"/><line x1="459.0" y1="407.0" x2="442.6" y2="399.7"/><line x1="459.0" y1="407.0" x2="446.3" y2="407.2"/><line x1="459.0" y1="407.0" x2="454.3" y2="406.9"/><line x1="459.0" y1="407.0" x2="465.0" y2="407.8"/><line x1="459.0" y1="407.0" x2="460.5" y2="408.2"/><line x1="459.0" y1="407.0" x2="462.8" y2="417.3"/><line x1="459.0" y1="407.0" x2="464.7" y2="397.1"/><line x1="459.0" y1="407.0" x2="473.5" y2="408.1"/><line x1="459.0" y1="407.0" x2="461.1" y2="404.6"/><line x1="459.0" y1="407.0" x2="456.1" y2="409.1"/><line x1="459.0" y1="407.0" x2="461.0" y2="411.7"/><line x1="459.0" y1="407.0" x2="470.3" y2="408.1"/><line x1="459.0" y1="407.0" x2="462.0" y2="407.9"/><line x1="459.0" y1="407.0" x2="453.5" y2="397.3"/><line x1="459.0" y1="407.0" x2="441.2" y2="406.1"/><line x1="459.0" y1="407.0" x2="474.9" y2="417.0"/><line x1="459.0" y1="407.0" x2="463.3" y2="409.0"/><line x1="459.0" y1="407.0" x2="453.5" y2="402.1"/><line x1="459.0" y1="407.0" x2="444.8" y2="399.7"/><line x1="459.0" y1="407.0" x2="464.3" y2="399.8"/><line x1="459.0" y1="407.0" x2="459.8" y2="404.3"/><line x1="459.0" y1="407.0" x2="459.2" y2="406.6"/><line x1="459.0" y1="407.0" x2="470.3" y2="410.4"/><line x1="459.0" y1="407.0" x2="463.6" y2="411.5"/><line x1="459.0" y1="407.0" x2="468.0" y2="408.6"/><line x1="459.0" y1="407.0" x2="436.6" y2="407.9"/><line x1="459.0" y1="407.0" x2="457.6" y2="402.6"/><line x1="459.0" y1="407.0" x2="442.4" y2="405.7"/><line x1="459.0" y1="407.0" x2="459.9" y2="405.3"/><line x1="459.0" y1="407.0" x2="462.2" y2="413.9"/><line x1="459.0" y1="407.0" x2="451.4" y2="414.7"/><line x1="459.0" y1="407.0" x2="470.0" y2="410.6"/><line x1="459.0" y1="407.0" x2="455.0" y2="398.5"/><line x1="459.0" y1="407.0" x2="452.5" y2="406.7"/><line x1="459.0" y1="407.0" x2="445.2" y2="400.1"/><line x1="459.0" y1="407.0" x2="445.0" y2="403.2"/><line x1="459.0" y1="407.0" x2="449.6" y2="399.3"/><line x1="459.0" y1="407.0" x2="448.5" y2="398.0"/><line x1="459.0" y1="407.0" x2="452.3" y2="402.1"/><line x1="459.0" y1="407.0" x2="452.5" y2="400.7"/><line x1="459.0" y1="407.0" x2="446.1" y2="402.2"/><line x1="459.0" y1="407.0" x2="446.6" y2="406.5"/><line x1="459.0" y1="407.0" x2="457.6" y2="402.8"/><line x1="459.0" y1="407.0" x2="449.0" y2="409.4"/><line x1="459.0" y1="407.0" x2="455.9" y2="401.6"/><line x1="459.0" y1="407.0" x2="452.5" y2="405.4"/><line x1="459.0" y1="407.0" x2="453.8" y2="400.3"/><line x1="459.0" y1="407.0" x2="450.7" y2="398.3"/><line x1="459.0" y1="407.0" x2="443.0" y2="402.8"/><line x1="459.0" y1="407.0" x2="440.8" y2="406.6"/><line x1="459.0" y1="407.0" x2="451.5" y2="404.3"/><line x1="459.0" y1="407.0" x2="448.6" y2="404.5"/><line x1="459.0" y1="407.0" x2="453.7" y2="405.9"/><line x1="459.0" y1="407.0" x2="450.4" y2="402.6"/><line x1="459.0" y1="407.0" x2="448.7" y2="401.6"/><line x1="459.0" y1="407.0" x2="448.3" y2="400.8"/><line x1="459.0" y1="407.0" x2="447.6" y2="403.3"/><line x1="459.0" y1="407.0" x2="441.3" y2="396.8"/><line x1="459.0" y1="407.0" x2="460.5" y2="405.1"/><line x1="459.0" y1="407.0" x2="443.4" y2="397.1"/><line x1="459.0" y1="407.0" x2="452.1" y2="404.1"/><line x1="459.0" y1="407.0" x2="455.6" y2="399.7"/><line x1="459.0" y1="407.0" x2="456.7" y2="404.4"/><line x1="459.0" y1="407.0" x2="443.4" y2="406.2"/><line x1="459.0" y1="407.0" x2="474.7" y2="425.1"/><line x1="459.0" y1="407.0" x2="467.9" y2="421.0"/><line x1="459.0" y1="407.0" x2="472.5" y2="423.8"/><line x1="459.0" y1="407.0" x2="465.8" y2="420.3"/><line x1="459.0" y1="407.0" x2="476.9" y2="420.8"/><line x1="459.0" y1="407.0" x2="477.0" y2="424.6"/><line x1="459.0" y1="407.0" x2="469.5" y2="417.6"/><line x1="459.0" y1="407.0" x2="474.0" y2="417.3"/><line x1="459.0" y1="407.0" x2="476.1" y2="421.9"/><line x1="459.0" y1="407.0" x2="471.7" y2="422.7"/><line x1="459.0" y1="407.0" x2="479.9" y2="422.0"/><line x1="459.0" y1="407.0" x2="465.9" y2="415.6"/><line x1="459.0" y1="407.0" x2="470.7" y2="423.5"/><line x1="459.0" y1="407.0" x2="472.5" y2="417.4"/><line x1="459.0" y1="407.0" x2="483.7" y2="421.9"/><line x1="459.0" y1="407.0" x2="478.1" y2="417.9"/><line x1="459.0" y1="407.0" x2="478.6" y2="417.7"/><line x1="459.0" y1="407.0" x2="474.2" y2="422.5"/><line x1="459.0" y1="407.0" x2="481.2" y2="425.3"/><line x1="459.0" y1="407.0" x2="467.3" y2="413.9"/><line x1="459.0" y1="407.0" x2="469.1" y2="417.6"/><line x1="459.0" y1="407.0" x2="469.8" y2="424.7"/><line x1="459.0" y1="407.0" x2="500.6" y2="425.0"/><line x1="459.0" y1="407.0" x2="489.7" y2="463.4"/><line x1="459.0" y1="407.0" x2="492.4" y2="433.5"/><line x1="459.0" y1="407.0" x2="501.7" y2="436.4"/><line x1="459.0" y1="407.0" x2="489.8" y2="423.4"/><line x1="459.0" y1="407.0" x2="490.6" y2="419.6"/><line x1="459.0" y1="407.0" x2="503.1" y2="439.7"/><line x1="459.0" y1="407.0" x2="486.0" y2="431.8"/><line x1="459.0" y1="407.0" x2="506.3" y2="436.3"/><line x1="459.0" y1="407.0" x2="490.7" y2="427.2"/><line x1="459.0" y1="407.0" x2="497.6" y2="460.7"/><line x1="459.0" y1="407.0" x2="492.5" y2="430.8"/><line x1="459.0" y1="407.0" x2="513.7" y2="428.5"/><line x1="459.0" y1="407.0" x2="484.0" y2="417.0"/><line x1="459.0" y1="407.0" x2="500.1" y2="447.9"/><line x1="459.0" y1="407.0" x2="488.3" y2="466.8"/><line x1="459.0" y1="407.0" x2="517.4" y2="431.9"/><line x1="459.0" y1="407.0" x2="496.8" y2="434.2"/><line x1="459.0" y1="407.0" x2="499.8" y2="460.4"/><line x1="459.0" y1="407.0" x2="497.1" y2="440.5"/><line x1="459.0" y1="407.0" x2="492.6" y2="436.8"/><line x1="459.0" y1="407.0" x2="493.7" y2="469.1"/><line x1="459.0" y1="407.0" x2="480.8" y2="442.4"/><line x1="459.0" y1="407.0" x2="517.2" y2="429.5"/><line x1="459.0" y1="407.0" x2="497.1" y2="457.4"/><line x1="459.0" y1="407.0" x2="492.1" y2="437.5"/><line x1="459.0" y1="407.0" x2="498.7" y2="426.0"/><line x1="459.0" y1="407.0" x2="501.2" y2="422.3"/></g>
<g fill="#7fd0aa"><rect x="457.2" y="408.2" width="1.2" height="1.2"/><rect x="467.0" y="406.1" width="1.2" height="1.2"/><rect x="459.4" y="402.7" width="1.2" height="1.2"/><rect x="476.0" y="411.7" width="1.2" height="1.2"/><rect x="447.0" y="403.8" width="1.2" height="1.2"/><rect x="465.4" y="409.1" width="1.2" height="1.2"/><rect x="476.3" y="414.7" width="1.2" height="1.2"/><rect x="452.9" y="404.5" width="1.2" height="1.2"/><rect x="445.0" y="404.5" width="1.2" height="1.2"/><rect x="458.0" y="416.8" width="1.2" height="1.2"/><rect x="460.9" y="397.8" width="1.2" height="1.2"/><rect x="451.4" y="405.1" width="1.2" height="1.2"/><rect x="446.0" y="400.1" width="1.2" height="1.2"/><rect x="454.4" y="406.6" width="1.2" height="1.2"/><rect x="457.3" y="402.1" width="1.2" height="1.2"/><rect x="466.9" y="405.3" width="1.2" height="1.2"/><rect x="454.2" y="399.5" width="1.2" height="1.2"/><rect x="449.8" y="407.0" width="1.2" height="1.2"/><rect x="441.7" y="402.6" width="1.2" height="1.2"/><rect x="466.1" y="405.8" width="1.2" height="1.2"/><rect x="461.7" y="402.0" width="1.2" height="1.2"/><rect x="471.1" y="412.7" width="1.2" height="1.2"/><rect x="462.1" y="399.4" width="1.2" height="1.2"/><rect x="446.9" y="407.8" width="1.2" height="1.2"/><rect x="475.9" y="410.3" width="1.2" height="1.2"/><rect x="471.7" y="405.9" width="1.2" height="1.2"/><rect x="456.4" y="405.5" width="1.2" height="1.2"/><rect x="463.9" y="400.7" width="1.2" height="1.2"/><rect x="467.2" y="412.9" width="1.2" height="1.2"/><rect x="447.5" y="398.4" width="1.2" height="1.2"/><rect x="462.5" y="404.0" width="1.2" height="1.2"/><rect x="433.3" y="404.6" width="1.2" height="1.2"/><rect x="460.3" y="404.3" width="1.2" height="1.2"/><rect x="480.1" y="410.4" width="1.2" height="1.2"/><rect x="450.5" y="404.9" width="1.2" height="1.2"/><rect x="448.2" y="400.9" width="1.2" height="1.2"/><rect x="462.8" y="404.4" width="1.2" height="1.2"/><rect x="452.5" y="411.6" width="1.2" height="1.2"/><rect x="466.7" y="410.7" width="1.2" height="1.2"/><rect x="463.5" y="408.8" width="1.2" height="1.2"/><rect x="473.5" y="408.6" width="1.2" height="1.2"/><rect x="478.2" y="405.6" width="1.2" height="1.2"/><rect x="456.8" y="400.0" width="1.2" height="1.2"/><rect x="454.5" y="407.3" width="1.2" height="1.2"/><rect x="473.9" y="406.0" width="1.2" height="1.2"/><rect x="458.7" y="404.5" width="1.2" height="1.2"/><rect x="451.6" y="399.8" width="1.2" height="1.2"/><rect x="460.3" y="399.2" width="1.2" height="1.2"/><rect x="459.5" y="406.2" width="1.2" height="1.2"/><rect x="452.3" y="400.7" width="1.2" height="1.2"/><rect x="442.8" y="410.7" width="1.2" height="1.2"/><rect x="443.4" y="409.5" width="1.2" height="1.2"/><rect x="464.9" y="405.6" width="1.2" height="1.2"/><rect x="445.7" y="407.8" width="1.2" height="1.2"/><rect x="476.9" y="405.5" width="1.2" height="1.2"/><rect x="454.6" y="409.5" width="1.2" height="1.2"/><rect x="460.4" y="414.4" width="1.2" height="1.2"/><rect x="452.1" y="407.0" width="1.2" height="1.2"/><rect x="444.0" y="411.8" width="1.2" height="1.2"/><rect x="457.2" y="405.1" width="1.2" height="1.2"/><rect x="478.4" y="408.2" width="1.2" height="1.2"/><rect x="457.8" y="408.2" width="1.2" height="1.2"/><rect x="474.8" y="408.6" width="1.2" height="1.2"/><rect x="468.8" y="409.9" width="1.2" height="1.2"/><rect x="455.3" y="405.6" width="1.2" height="1.2"/><rect x="459.4" y="402.3" width="1.2" height="1.2"/><rect x="471.9" y="402.7" width="1.2" height="1.2"/><rect x="469.8" y="411.9" width="1.2" height="1.2"/><rect x="458.0" y="402.7" width="1.2" height="1.2"/><rect x="455.7" y="407.3" width="1.2" height="1.2"/><rect x="465.9" y="408.4" width="1.2" height="1.2"/><rect x="469.0" y="405.6" width="1.2" height="1.2"/><rect x="461.9" y="400.2" width="1.2" height="1.2"/><rect x="466.2" y="407.9" width="1.2" height="1.2"/><rect x="453.3" y="409.7" width="1.2" height="1.2"/><rect x="467.6" y="396.1" width="1.2" height="1.2"/><rect x="459.9" y="400.2" width="1.2" height="1.2"/><rect x="467.6" y="417.7" width="1.2" height="1.2"/><rect x="453.0" y="405.2" width="1.2" height="1.2"/><rect x="455.6" y="406.8" width="1.2" height="1.2"/><rect x="464.1" y="412.2" width="1.2" height="1.2"/><rect x="447.1" y="410.2" width="1.2" height="1.2"/><rect x="448.6" y="405.2" width="1.2" height="1.2"/><rect x="469.9" y="410.9" width="1.2" height="1.2"/><rect x="449.2" y="401.4" width="1.2" height="1.2"/><rect x="453.7" y="404.8" width="1.2" height="1.2"/><rect x="471.2" y="403.0" width="1.2" height="1.2"/><rect x="462.8" y="409.2" width="1.2" height="1.2"/><rect x="463.8" y="408.8" width="1.2" height="1.2"/><rect x="473.7" y="410.7" width="1.2" height="1.2"/><rect x="466.8" y="409.7" width="1.2" height="1.2"/><rect x="478.3" y="401.8" width="1.2" height="1.2"/><rect x="471.8" y="407.3" width="1.2" height="1.2"/><rect x="456.2" y="401.6" width="1.2" height="1.2"/><rect x="439.4" y="400.9" width="1.2" height="1.2"/><rect x="450.9" y="406.6" width="1.2" height="1.2"/><rect x="442.2" y="408.8" width="1.2" height="1.2"/><rect x="461.4" y="405.4" width="1.2" height="1.2"/><rect x="451.6" y="401.5" width="1.2" height="1.2"/><rect x="447.1" y="401.6" width="1.2" height="1.2"/><rect x="458.6" y="405.2" width="1.2" height="1.2"/><rect x="444.0" y="402.2" width="1.2" height="1.2"/><rect x="449.1" y="404.9" width="1.2" height="1.2"/><rect x="477.2" y="411.9" width="1.2" height="1.2"/><rect x="456.3" y="398.9" width="1.2" height="1.2"/><rect x="445.0" y="396.6" width="1.2" height="1.2"/><rect x="466.4" y="404.3" width="1.2" height="1.2"/><rect x="459.5" y="403.6" width="1.2" height="1.2"/><rect x="458.3" y="411.6" width="1.2" height="1.2"/><rect x="451.6" y="403.3" width="1.2" height="1.2"/><rect x="449.4" y="407.8" width="1.2" height="1.2"/><rect x="448.6" y="399.5" width="1.2" height="1.2"/><rect x="445.1" y="397.7" width="1.2" height="1.2"/><rect x="461.4" y="416.9" width="1.2" height="1.2"/><rect x="447.4" y="407.8" width="1.2" height="1.2"/><rect x="461.8" y="402.0" width="1.2" height="1.2"/><rect x="455.7" y="404.5" width="1.2" height="1.2"/><rect x="449.9" y="412.2" width="1.2" height="1.2"/><rect x="438.4" y="403.8" width="1.2" height="1.2"/><rect x="462.2" y="404.2" width="1.2" height="1.2"/><rect x="459.3" y="409.6" width="1.2" height="1.2"/><rect x="459.7" y="407.8" width="1.2" height="1.2"/><rect x="467.0" y="399.2" width="1.2" height="1.2"/><rect x="472.0" y="417.6" width="1.2" height="1.2"/><rect x="467.8" y="411.7" width="1.2" height="1.2"/><rect x="443.9" y="402.8" width="1.2" height="1.2"/><rect x="450.4" y="402.1" width="1.2" height="1.2"/><rect x="469.0" y="404.6" width="1.2" height="1.2"/><rect x="458.4" y="398.1" width="1.2" height="1.2"/><rect x="456.7" y="406.0" width="1.2" height="1.2"/><rect x="451.6" y="401.7" width="1.2" height="1.2"/><rect x="478.8" y="404.7" width="1.2" height="1.2"/><rect x="448.1" y="400.7" width="1.2" height="1.2"/><rect x="469.3" y="416.4" width="1.2" height="1.2"/><rect x="462.3" y="403.7" width="1.2" height="1.2"/><rect x="453.2" y="409.3" width="1.2" height="1.2"/><rect x="447.9" y="409.9" width="1.2" height="1.2"/><rect x="473.0" y="408.8" width="1.2" height="1.2"/><rect x="464.5" y="410.1" width="1.2" height="1.2"/><rect x="475.2" y="404.7" width="1.2" height="1.2"/><rect x="470.9" y="406.6" width="1.2" height="1.2"/><rect x="450.4" y="404.9" width="1.2" height="1.2"/><rect x="456.9" y="401.6" width="1.2" height="1.2"/><rect x="442.6" y="399.2" width="1.2" height="1.2"/><rect x="472.0" y="416.4" width="1.2" height="1.2"/><rect x="464.3" y="411.8" width="1.2" height="1.2"/><rect x="453.1" y="404.6" width="1.2" height="1.2"/><rect x="462.1" y="402.2" width="1.2" height="1.2"/><rect x="448.1" y="404.4" width="1.2" height="1.2"/><rect x="455.9" y="401.1" width="1.2" height="1.2"/><rect x="462.6" y="405.6" width="1.2" height="1.2"/><rect x="469.0" y="407.8" width="1.2" height="1.2"/><rect x="455.2" y="405.8" width="1.2" height="1.2"/><rect x="457.1" y="402.9" width="1.2" height="1.2"/><rect x="453.7" y="408.1" width="1.2" height="1.2"/><rect x="464.2" y="412.2" width="1.2" height="1.2"/><rect x="441.2" y="401.2" width="1.2" height="1.2"/><rect x="454.0" y="405.8" width="1.2" height="1.2"/><rect x="454.1" y="403.0" width="1.2" height="1.2"/><rect x="466.4" y="408.1" width="1.2" height="1.2"/><rect x="445.4" y="409.0" width="1.2" height="1.2"/><rect x="469.1" y="405.5" width="1.2" height="1.2"/><rect x="467.5" y="404.6" width="1.2" height="1.2"/><rect x="470.2" y="407.2" width="1.2" height="1.2"/><rect x="450.4" y="402.9" width="1.2" height="1.2"/><rect x="450.4" y="405.2" width="1.2" height="1.2"/><rect x="460.2" y="406.4" width="1.2" height="1.2"/><rect x="460.7" y="398.6" width="1.2" height="1.2"/><rect x="460.1" y="410.8" width="1.2" height="1.2"/><rect x="461.5" y="404.9" width="1.2" height="1.2"/><rect x="456.6" y="405.0" width="1.2" height="1.2"/><rect x="453.1" y="402.6" width="1.2" height="1.2"/><rect x="448.0" y="408.8" width="1.2" height="1.2"/><rect x="457.6" y="409.6" width="1.2" height="1.2"/><rect x="455.8" y="405.7" width="1.2" height="1.2"/><rect x="456.3" y="407.4" width="1.2" height="1.2"/><rect x="466.8" y="408.4" width="1.2" height="1.2"/><rect x="452.0" y="401.6" width="1.2" height="1.2"/><rect x="475.7" y="407.9" width="1.2" height="1.2"/><rect x="454.3" y="411.1" width="1.2" height="1.2"/><rect x="469.3" y="410.0" width="1.2" height="1.2"/><rect x="452.6" y="414.4" width="1.2" height="1.2"/><rect x="462.1" y="408.8" width="1.2" height="1.2"/><rect x="457.6" y="400.0" width="1.2" height="1.2"/><rect x="444.3" y="405.0" width="1.2" height="1.2"/><rect x="462.6" y="405.7" width="1.2" height="1.2"/><rect x="447.3" y="398.0" width="1.2" height="1.2"/><rect x="456.1" y="399.6" width="1.2" height="1.2"/><rect x="466.9" y="412.1" width="1.2" height="1.2"/><rect x="487.0" y="414.7" width="1.2" height="1.2"/><rect x="452.9" y="401.4" width="1.2" height="1.2"/><rect x="455.9" y="409.4" width="1.2" height="1.2"/><rect x="464.3" y="409.4" width="1.2" height="1.2"/><rect x="460.1" y="408.9" width="1.2" height="1.2"/><rect x="474.1" y="404.4" width="1.2" height="1.2"/><rect x="454.7" y="399.6" width="1.2" height="1.2"/><rect x="474.2" y="414.0" width="1.2" height="1.2"/><rect x="467.0" y="402.6" width="1.2" height="1.2"/><rect x="460.4" y="405.3" width="1.2" height="1.2"/><rect x="459.4" y="405.3" width="1.2" height="1.2"/><rect x="464.1" y="405.3" width="1.2" height="1.2"/><rect x="467.1" y="408.5" width="1.2" height="1.2"/><rect x="455.5" y="404.9" width="1.2" height="1.2"/><rect x="453.3" y="408.3" width="1.2" height="1.2"/><rect x="455.4" y="406.6" width="1.2" height="1.2"/><rect x="455.4" y="399.3" width="1.2" height="1.2"/><rect x="468.5" y="403.4" width="1.2" height="1.2"/><rect x="465.1" y="408.8" width="1.2" height="1.2"/><rect x="442.0" y="399.1" width="1.2" height="1.2"/><rect x="453.7" y="401.7" width="1.2" height="1.2"/><rect x="445.7" y="406.6" width="1.2" height="1.2"/><rect x="455.6" y="407.0" width="1.2" height="1.2"/><rect x="453.7" y="406.3" width="1.2" height="1.2"/><rect x="450.7" y="404.4" width="1.2" height="1.2"/><rect x="464.4" y="407.2" width="1.2" height="1.2"/><rect x="454.5" y="400.8" width="1.2" height="1.2"/><rect x="459.9" y="407.6" width="1.2" height="1.2"/><rect x="456.3" y="402.4" width="1.2" height="1.2"/><rect x="462.2" y="416.7" width="1.2" height="1.2"/><rect x="455.0" y="406.7" width="1.2" height="1.2"/><rect x="464.1" y="396.5" width="1.2" height="1.2"/><rect x="460.2" y="403.4" width="1.2" height="1.2"/><rect x="472.9" y="407.5" width="1.2" height="1.2"/><rect x="450.5" y="403.6" width="1.2" height="1.2"/><rect x="460.5" y="404.0" width="1.2" height="1.2"/><rect x="458.8" y="400.5" width="1.2" height="1.2"/><rect x="455.5" y="408.5" width="1.2" height="1.2"/><rect x="478.2" y="412.4" width="1.2" height="1.2"/><rect x="460.4" y="411.1" width="1.2" height="1.2"/><rect x="467.7" y="414.4" width="1.2" height="1.2"/><rect x="469.7" y="407.5" width="1.2" height="1.2"/><rect x="460.9" y="407.1" width="1.2" height="1.2"/><rect x="461.4" y="407.3" width="1.2" height="1.2"/><rect x="451.8" y="396.2" width="1.2" height="1.2"/><rect x="452.9" y="396.7" width="1.2" height="1.2"/><rect x="459.1" y="406.0" width="1.2" height="1.2"/><rect x="440.6" y="405.5" width="1.2" height="1.2"/><rect x="467.3" y="407.9" width="1.2" height="1.2"/><rect x="474.3" y="416.4" width="1.2" height="1.2"/><rect x="445.2" y="407.7" width="1.2" height="1.2"/><rect x="462.7" y="408.4" width="1.2" height="1.2"/><rect x="468.6" y="404.8" width="1.2" height="1.2"/><rect x="452.9" y="401.5" width="1.2" height="1.2"/><rect x="450.7" y="404.1" width="1.2" height="1.2"/><rect x="444.2" y="399.1" width="1.2" height="1.2"/><rect x="464.4" y="406.7" width="1.2" height="1.2"/><rect x="463.7" y="399.2" width="1.2" height="1.2"/><rect x="450.7" y="402.2" width="1.2" height="1.2"/><rect x="459.2" y="403.7" width="1.2" height="1.2"/><rect x="468.1" y="407.4" width="1.2" height="1.2"/><rect x="458.6" y="406.0" width="1.2" height="1.2"/><rect x="466.1" y="405.4" width="1.2" height="1.2"/><rect x="469.7" y="409.8" width="1.2" height="1.2"/><rect x="460.0" y="406.4" width="1.2" height="1.2"/><rect x="463.0" y="410.9" width="1.2" height="1.2"/><rect x="467.9" y="409.2" width="1.2" height="1.2"/><rect x="467.4" y="408.0" width="1.2" height="1.2"/><rect x="471.4" y="408.1" width="1.2" height="1.2"/><rect x="436.0" y="407.3" width="1.2" height="1.2"/><rect x="460.4" y="401.5" width="1.2" height="1.2"/><rect x="457.0" y="402.0" width="1.2" height="1.2"/><rect x="479.7" y="411.8" width="1.2" height="1.2"/><rect x="441.8" y="405.1" width="1.2" height="1.2"/><rect x="452.9" y="412.7" width="1.2" height="1.2"/><rect x="459.3" y="404.7" width="1.2" height="1.2"/><rect x="455.6" y="396.7" width="1.2" height="1.2"/><rect x="461.6" y="413.3" width="1.2" height="1.2"/><rect x="437.8" y="406.9" width="1.2" height="1.2"/><rect x="450.8" y="414.1" width="1.2" height="1.2"/><rect x="463.0" y="406.0" width="1.2" height="1.2"/><rect x="469.4" y="410.0" width="1.2" height="1.2"/><rect x="451.8" y="407.6" width="1.2" height="1.2"/><rect x="454.4" y="397.9" width="1.2" height="1.2"/><rect x="479.6" y="408.3" width="1.2" height="1.2"/><rect x="451.9" y="406.1" width="1.2" height="1.2"/><rect x="443.3" y="397.6" width="1.2" height="1.2"/><rect x="444.6" y="399.5" width="1.2" height="1.2"/><rect x="447.5" y="404.8" width="1.2" height="1.2"/><rect x="444.4" y="402.6" width="1.2" height="1.2"/><rect x="451.3" y="398.5" width="1.2" height="1.2"/><rect x="449.0" y="398.7" width="1.2" height="1.2"/><rect x="453.6" y="403.4" width="1.2" height="1.2"/><rect x="447.9" y="397.4" width="1.2" height="1.2"/><rect x="448.3" y="399.2" width="1.2" height="1.2"/><rect x="451.7" y="401.5" width="1.2" height="1.2"/><rect x="442.3" y="403.7" width="1.2" height="1.2"/><rect x="451.9" y="400.1" width="1.2" height="1.2"/><rect x="454.4" y="401.2" width="1.2" height="1.2"/><rect x="445.5" y="401.6" width="1.2" height="1.2"/><rect x="443.0" y="399.6" width="1.2" height="1.2"/><rect x="446.0" y="405.9" width="1.2" height="1.2"/><rect x="456.4" y="401.5" width="1.2" height="1.2"/><rect x="457.0" y="402.2" width="1.2" height="1.2"/><rect x="449.4" y="404.3" width="1.2" height="1.2"/><rect x="448.4" y="408.8" width="1.2" height="1.2"/><rect x="449.2" y="398.0" width="1.2" height="1.2"/><rect x="455.3" y="401.0" width="1.2" height="1.2"/><rect x="453.1" y="404.4" width="1.2" height="1.2"/><rect x="451.9" y="404.8" width="1.2" height="1.2"/><rect x="457.5" y="402.3" width="1.2" height="1.2"/><rect x="453.2" y="399.7" width="1.2" height="1.2"/><rect x="445.0" y="404.3" width="1.2" height="1.2"/><rect x="450.1" y="397.7" width="1.2" height="1.2"/><rect x="449.6" y="401.1" width="1.2" height="1.2"/><rect x="442.4" y="402.2" width="1.2" height="1.2"/><rect x="445.5" y="396.5" width="1.2" height="1.2"/><rect x="440.2" y="406.0" width="1.2" height="1.2"/><rect x="438.3" y="401.2" width="1.2" height="1.2"/><rect x="450.9" y="403.7" width="1.2" height="1.2"/><rect x="440.2" y="399.7" width="1.2" height="1.2"/><rect x="448.0" y="403.9" width="1.2" height="1.2"/><rect x="443.9" y="397.5" width="1.2" height="1.2"/><rect x="453.1" y="405.3" width="1.2" height="1.2"/><rect x="449.8" y="399.8" width="1.2" height="1.2"/><rect x="449.8" y="402.0" width="1.2" height="1.2"/><rect x="452.8" y="398.2" width="1.2" height="1.2"/><rect x="448.1" y="401.0" width="1.2" height="1.2"/><rect x="440.7" y="401.4" width="1.2" height="1.2"/><rect x="447.7" y="400.2" width="1.2" height="1.2"/><rect x="450.2" y="397.4" width="1.2" height="1.2"/><rect x="447.0" y="402.7" width="1.2" height="1.2"/><rect x="448.8" y="404.8" width="1.2" height="1.2"/><rect x="440.7" y="396.2" width="1.2" height="1.2"/><rect x="448.7" y="402.9" width="1.2" height="1.2"/><rect x="459.9" y="404.5" width="1.2" height="1.2"/><rect x="441.9" y="403.3" width="1.2" height="1.2"/><rect x="442.8" y="396.5" width="1.2" height="1.2"/><rect x="462.9" y="403.9" width="1.2" height="1.2"/><rect x="451.5" y="403.5" width="1.2" height="1.2"/><rect x="458.1" y="403.3" width="1.2" height="1.2"/><rect x="455.0" y="399.1" width="1.2" height="1.2"/><rect x="438.7" y="404.8" width="1.2" height="1.2"/><rect x="456.1" y="403.8" width="1.2" height="1.2"/><rect x="448.7" y="402.0" width="1.2" height="1.2"/><rect x="442.8" y="405.6" width="1.2" height="1.2"/><rect x="476.0" y="423.1" width="1.2" height="1.2"/><rect x="474.1" y="424.5" width="1.2" height="1.2"/><rect x="475.0" y="423.6" width="1.2" height="1.2"/><rect x="467.3" y="420.4" width="1.2" height="1.2"/><rect x="484.4" y="421.9" width="1.2" height="1.2"/><rect x="471.9" y="423.2" width="1.2" height="1.2"/><rect x="477.3" y="423.9" width="1.2" height="1.2"/><rect x="465.2" y="419.7" width="1.2" height="1.2"/><rect x="468.6" y="415.9" width="1.2" height="1.2"/><rect x="476.3" y="420.2" width="1.2" height="1.2"/><rect x="474.0" y="432.1" width="1.2" height="1.2"/><rect x="476.4" y="424.0" width="1.2" height="1.2"/><rect x="469.8" y="416.9" width="1.2" height="1.2"/><rect x="468.9" y="417.0" width="1.2" height="1.2"/><rect x="468.9" y="416.6" width="1.2" height="1.2"/><rect x="473.4" y="416.7" width="1.2" height="1.2"/><rect x="468.0" y="413.8" width="1.2" height="1.2"/><rect x="475.5" y="421.3" width="1.2" height="1.2"/><rect x="477.2" y="425.4" width="1.2" height="1.2"/><rect x="471.1" y="422.1" width="1.2" height="1.2"/><rect x="464.2" y="425.9" width="1.2" height="1.2"/><rect x="479.3" y="421.4" width="1.2" height="1.2"/><rect x="467.5" y="420.0" width="1.2" height="1.2"/><rect x="465.3" y="415.0" width="1.2" height="1.2"/><rect x="476.9" y="421.8" width="1.2" height="1.2"/><rect x="470.1" y="422.9" width="1.2" height="1.2"/><rect x="468.1" y="419.8" width="1.2" height="1.2"/><rect x="471.9" y="416.8" width="1.2" height="1.2"/><rect x="476.6" y="417.8" width="1.2" height="1.2"/><rect x="483.1" y="421.3" width="1.2" height="1.2"/><rect x="484.0" y="419.7" width="1.2" height="1.2"/><rect x="477.5" y="417.3" width="1.2" height="1.2"/><rect x="466.8" y="419.0" width="1.2" height="1.2"/><rect x="478.0" y="417.1" width="1.2" height="1.2"/><rect x="479.9" y="419.5" width="1.2" height="1.2"/><rect x="473.6" y="421.9" width="1.2" height="1.2"/><rect x="478.1" y="415.3" width="1.2" height="1.2"/><rect x="480.6" y="424.7" width="1.2" height="1.2"/><rect x="472.4" y="416.3" width="1.2" height="1.2"/><rect x="466.7" y="413.3" width="1.2" height="1.2"/><rect x="476.4" y="420.1" width="1.2" height="1.2"/><rect x="468.5" y="417.0" width="1.2" height="1.2"/><rect x="481.2" y="421.6" width="1.2" height="1.2"/><rect x="469.2" y="424.1" width="1.2" height="1.2"/><rect x="475.6" y="421.2" width="1.2" height="1.2"/><rect x="500.0" y="424.4" width="1.2" height="1.2"/><rect x="485.1" y="428.9" width="1.2" height="1.2"/><rect x="489.1" y="462.8" width="1.2" height="1.2"/><rect x="495.8" y="420.5" width="1.2" height="1.2"/><rect x="491.8" y="432.9" width="1.2" height="1.2"/><rect x="511.0" y="442.8" width="1.2" height="1.2"/><rect x="501.1" y="435.8" width="1.2" height="1.2"/><rect x="482.0" y="418.6" width="1.2" height="1.2"/><rect x="489.2" y="422.8" width="1.2" height="1.2"/><rect x="507.0" y="431.4" width="1.2" height="1.2"/><rect x="490.0" y="419.0" width="1.2" height="1.2"/><rect x="486.3" y="429.0" width="1.2" height="1.2"/><rect x="502.5" y="439.1" width="1.2" height="1.2"/><rect x="490.4" y="441.5" width="1.2" height="1.2"/><rect x="485.4" y="431.2" width="1.2" height="1.2"/><rect x="483.8" y="448.7" width="1.2" height="1.2"/><rect x="505.7" y="435.7" width="1.2" height="1.2"/><rect x="475.3" y="424.0" width="1.2" height="1.2"/><rect x="490.1" y="426.6" width="1.2" height="1.2"/><rect x="486.2" y="433.0" width="1.2" height="1.2"/><rect x="497.0" y="460.1" width="1.2" height="1.2"/><rect x="481.0" y="420.2" width="1.2" height="1.2"/><rect x="491.9" y="430.2" width="1.2" height="1.2"/><rect x="483.2" y="428.2" width="1.2" height="1.2"/><rect x="513.1" y="427.9" width="1.2" height="1.2"/><rect x="506.7" y="448.4" width="1.2" height="1.2"/><rect x="483.4" y="416.4" width="1.2" height="1.2"/><rect x="518.5" y="436.6" width="1.2" height="1.2"/><rect x="499.5" y="447.3" width="1.2" height="1.2"/><rect x="477.2" y="432.9" width="1.2" height="1.2"/><rect x="487.7" y="466.2" width="1.2" height="1.2"/><rect x="492.7" y="424.4" width="1.2" height="1.2"/><rect x="516.8" y="431.3" width="1.2" height="1.2"/><rect x="480.7" y="422.3" width="1.2" height="1.2"/><rect x="496.2" y="433.6" width="1.2" height="1.2"/><rect x="499.5" y="433.4" width="1.2" height="1.2"/><rect x="499.2" y="459.8" width="1.2" height="1.2"/><rect x="500.3" y="455.5" width="1.2" height="1.2"/><rect x="496.5" y="439.9" width="1.2" height="1.2"/><rect x="478.8" y="422.6" width="1.2" height="1.2"/><rect x="492.0" y="436.2" width="1.2" height="1.2"/><rect x="487.9" y="436.0" width="1.2" height="1.2"/><rect x="493.1" y="468.5" width="1.2" height="1.2"/><rect x="486.2" y="454.3" width="1.2" height="1.2"/><rect x="480.2" y="441.8" width="1.2" height="1.2"/><rect x="482.9" y="438.5" width="1.2" height="1.2"/><rect x="516.6" y="428.9" width="1.2" height="1.2"/><rect x="482.2" y="422.2" width="1.2" height="1.2"/><rect x="496.5" y="456.8" width="1.2" height="1.2"/><rect x="508.4" y="435.0" width="1.2" height="1.2"/><rect x="491.5" y="436.9" width="1.2" height="1.2"/><rect x="514.7" y="425.7" width="1.2" height="1.2"/><rect x="498.1" y="425.4" width="1.2" height="1.2"/><rect x="484.6" y="423.0" width="1.2" height="1.2"/><rect x="500.6" y="421.7" width="1.2" height="1.2"/></g>
<g stroke="#7fd0aa" stroke-width="0.5" stroke-opacity="0.11"><line x1="615.4" y1="367.6" x2="600.4" y2="339.2"/><line x1="615.4" y1="367.6" x2="596.9" y2="340.9"/><line x1="615.4" y1="367.6" x2="599.6" y2="338.8"/><line x1="615.4" y1="367.6" x2="602.7" y2="340.0"/><line x1="615.4" y1="367.6" x2="598.8" y2="339.4"/><line x1="615.4" y1="367.6" x2="596.3" y2="338.0"/><line x1="615.4" y1="367.6" x2="593.3" y2="340.3"/><line x1="615.4" y1="367.6" x2="594.3" y2="339.6"/><line x1="615.4" y1="367.6" x2="596.9" y2="337.6"/><line x1="615.4" y1="367.6" x2="598.5" y2="339.1"/><line x1="615.4" y1="367.6" x2="600.5" y2="340.9"/><line x1="615.4" y1="367.6" x2="599.9" y2="339.9"/><line x1="615.4" y1="367.6" x2="597.5" y2="339.7"/><line x1="615.4" y1="367.6" x2="599.4" y2="338.2"/><line x1="615.4" y1="367.6" x2="601.1" y2="339.1"/><line x1="615.4" y1="367.6" x2="601.4" y2="339.4"/><line x1="615.4" y1="367.6" x2="620.1" y2="345.1"/><line x1="615.4" y1="367.6" x2="609.4" y2="347.9"/><line x1="615.4" y1="367.6" x2="612.5" y2="350.8"/><line x1="615.4" y1="367.6" x2="615.3" y2="357.3"/><line x1="615.4" y1="367.6" x2="599.4" y2="346.4"/><line x1="615.4" y1="367.6" x2="634.0" y2="357.6"/><line x1="615.4" y1="367.6" x2="624.1" y2="351.1"/><line x1="615.4" y1="367.6" x2="602.8" y2="344.0"/><line x1="615.4" y1="367.6" x2="625.9" y2="352.7"/><line x1="615.4" y1="367.6" x2="616.2" y2="354.9"/><line x1="615.4" y1="367.6" x2="622.5" y2="355.4"/><line x1="615.4" y1="367.6" x2="627.2" y2="349.8"/><line x1="615.4" y1="367.6" x2="635.8" y2="354.4"/><line x1="615.4" y1="367.6" x2="601.9" y2="347.9"/><line x1="615.4" y1="367.6" x2="634.4" y2="358.1"/><line x1="615.4" y1="367.6" x2="617.1" y2="347.8"/><line x1="615.4" y1="367.6" x2="605.1" y2="348.5"/><line x1="615.4" y1="367.6" x2="613.7" y2="345.6"/><line x1="615.4" y1="367.6" x2="613.2" y2="345.8"/><line x1="615.4" y1="367.6" x2="632.1" y2="353.6"/><line x1="615.4" y1="367.6" x2="621.6" y2="342.3"/><line x1="615.4" y1="367.6" x2="600.9" y2="345.2"/><line x1="615.4" y1="367.6" x2="627.0" y2="348.0"/><line x1="615.4" y1="367.6" x2="618.4" y2="346.9"/><line x1="615.4" y1="367.6" x2="629.7" y2="351.3"/><line x1="615.4" y1="367.6" x2="600.4" y2="344.4"/><line x1="615.4" y1="367.6" x2="630.4" y2="354.6"/><line x1="615.4" y1="367.6" x2="631.2" y2="355.3"/><line x1="615.4" y1="367.6" x2="603.1" y2="335.0"/><line x1="615.4" y1="367.6" x2="616.8" y2="348.3"/><line x1="615.4" y1="367.6" x2="606.7" y2="337.6"/><line x1="615.4" y1="367.6" x2="618.0" y2="350.6"/><line x1="615.4" y1="367.6" x2="602.5" y2="343.8"/><line x1="615.4" y1="367.6" x2="631.1" y2="355.1"/><line x1="615.4" y1="367.6" x2="603.0" y2="351.4"/><line x1="615.4" y1="367.6" x2="622.5" y2="353.6"/><line x1="615.4" y1="367.6" x2="621.9" y2="353.6"/><line x1="615.4" y1="367.6" x2="611.0" y2="346.7"/><line x1="615.4" y1="367.6" x2="607.8" y2="343.7"/><line x1="615.4" y1="367.6" x2="630.4" y2="359.2"/><line x1="615.4" y1="367.6" x2="599.6" y2="345.6"/><line x1="615.4" y1="367.6" x2="611.1" y2="340.3"/><line x1="615.4" y1="367.6" x2="609.7" y2="350.1"/><line x1="615.4" y1="367.6" x2="576.3" y2="357.2"/><line x1="615.4" y1="367.6" x2="571.7" y2="355.0"/><line x1="615.4" y1="367.6" x2="580.9" y2="365.7"/><line x1="615.4" y1="367.6" x2="568.2" y2="354.4"/><line x1="615.4" y1="367.6" x2="582.5" y2="362.9"/><line x1="615.4" y1="367.6" x2="584.4" y2="364.1"/><line x1="615.4" y1="367.6" x2="597.2" y2="367.4"/><line x1="615.4" y1="367.6" x2="568.1" y2="357.4"/><line x1="615.4" y1="367.6" x2="578.7" y2="366.9"/><line x1="615.4" y1="367.6" x2="599.1" y2="361.5"/><line x1="615.4" y1="367.6" x2="576.7" y2="364.6"/><line x1="615.4" y1="367.6" x2="596.7" y2="376.0"/><line x1="615.4" y1="367.6" x2="593.9" y2="367.8"/><line x1="615.4" y1="367.6" x2="564.8" y2="357.6"/><line x1="615.4" y1="367.6" x2="578.8" y2="364.8"/><line x1="615.4" y1="367.6" x2="594.1" y2="373.7"/><line x1="615.4" y1="367.6" x2="586.8" y2="361.5"/><line x1="615.4" y1="367.6" x2="591.8" y2="367.3"/><line x1="615.4" y1="367.6" x2="605.8" y2="371.3"/><line x1="615.4" y1="367.6" x2="591.5" y2="368.7"/><line x1="615.4" y1="367.6" x2="586.3" y2="365.6"/><line x1="615.4" y1="367.6" x2="598.7" y2="371.6"/><line x1="615.4" y1="367.6" x2="581.9" y2="362.3"/><line x1="615.4" y1="367.6" x2="563.4" y2="357.3"/><line x1="615.4" y1="367.6" x2="575.4" y2="359.2"/><line x1="615.4" y1="367.6" x2="589.2" y2="364.0"/><line x1="615.4" y1="367.6" x2="603.9" y2="370.8"/><line x1="615.4" y1="367.6" x2="589.2" y2="365.7"/><line x1="615.4" y1="367.6" x2="576.4" y2="357.9"/><line x1="615.4" y1="367.6" x2="604.2" y2="376.3"/><line x1="615.4" y1="367.6" x2="580.3" y2="362.6"/><line x1="615.4" y1="367.6" x2="574.2" y2="356.5"/><line x1="615.4" y1="367.6" x2="585.7" y2="368.4"/><line x1="615.4" y1="367.6" x2="578.5" y2="360.0"/><line x1="615.4" y1="367.6" x2="567.3" y2="360.1"/><line x1="615.4" y1="367.6" x2="593.7" y2="367.6"/><line x1="615.4" y1="367.6" x2="592.5" y2="368.1"/><line x1="615.4" y1="367.6" x2="604.6" y2="372.1"/><line x1="615.4" y1="367.6" x2="569.5" y2="357.4"/><line x1="615.4" y1="367.6" x2="602.1" y2="370.8"/><line x1="615.4" y1="367.6" x2="595.3" y2="374.7"/><line x1="615.4" y1="367.6" x2="576.1" y2="354.5"/><line x1="615.4" y1="367.6" x2="583.5" y2="364.4"/><line x1="615.4" y1="367.6" x2="589.7" y2="367.7"/><line x1="615.4" y1="367.6" x2="577.6" y2="358.7"/><line x1="615.4" y1="367.6" x2="622.8" y2="384.6"/><line x1="615.4" y1="367.6" x2="616.4" y2="400.5"/><line x1="615.4" y1="367.6" x2="612.5" y2="385.4"/><line x1="615.4" y1="367.6" x2="620.9" y2="417.6"/><line x1="615.4" y1="367.6" x2="620.0" y2="408.5"/><line x1="615.4" y1="367.6" x2="619.8" y2="393.7"/><line x1="615.4" y1="367.6" x2="618.5" y2="415.0"/><line x1="615.4" y1="367.6" x2="603.7" y2="376.7"/><line x1="615.4" y1="367.6" x2="607.6" y2="384.7"/><line x1="615.4" y1="367.6" x2="618.3" y2="415.1"/><line x1="615.4" y1="367.6" x2="610.6" y2="397.8"/><line x1="615.4" y1="367.6" x2="609.2" y2="381.3"/><line x1="615.4" y1="367.6" x2="621.9" y2="396.2"/><line x1="615.4" y1="367.6" x2="624.9" y2="403.0"/><line x1="615.4" y1="367.6" x2="611.3" y2="402.3"/><line x1="615.4" y1="367.6" x2="603.9" y2="377.2"/><line x1="615.4" y1="367.6" x2="606.2" y2="375.8"/><line x1="615.4" y1="367.6" x2="615.1" y2="390.7"/><line x1="615.4" y1="367.6" x2="606.2" y2="374.8"/><line x1="615.4" y1="367.6" x2="607.4" y2="377.7"/><line x1="615.4" y1="367.6" x2="619.0" y2="401.0"/><line x1="615.4" y1="367.6" x2="616.8" y2="391.6"/><line x1="615.4" y1="367.6" x2="598.6" y2="381.4"/><line x1="615.4" y1="367.6" x2="620.8" y2="412.1"/><line x1="615.4" y1="367.6" x2="615.1" y2="388.8"/><line x1="615.4" y1="367.6" x2="627.3" y2="409.7"/><line x1="615.4" y1="367.6" x2="620.0" y2="398.9"/><line x1="615.4" y1="367.6" x2="614.2" y2="402.0"/><line x1="615.4" y1="367.6" x2="610.5" y2="393.6"/><line x1="615.4" y1="367.6" x2="619.0" y2="402.5"/><line x1="615.4" y1="367.6" x2="610.2" y2="384.6"/><line x1="615.4" y1="367.6" x2="611.9" y2="384.5"/><line x1="615.4" y1="367.6" x2="626.3" y2="409.7"/><line x1="615.4" y1="367.6" x2="604.3" y2="385.0"/><line x1="615.4" y1="367.6" x2="611.4" y2="391.2"/><line x1="615.4" y1="367.6" x2="609.1" y2="410.3"/><line x1="615.4" y1="367.6" x2="615.1" y2="386.9"/><line x1="615.4" y1="367.6" x2="613.2" y2="389.5"/><line x1="615.4" y1="367.6" x2="618.7" y2="414.6"/><line x1="615.4" y1="367.6" x2="610.7" y2="382.5"/><line x1="615.4" y1="367.6" x2="632.7" y2="380.4"/><line x1="615.4" y1="367.6" x2="632.4" y2="379.5"/><line x1="615.4" y1="367.6" x2="666.8" y2="403.5"/><line x1="615.4" y1="367.6" x2="666.4" y2="393.6"/><line x1="615.4" y1="367.6" x2="665.7" y2="403.6"/><line x1="615.4" y1="367.6" x2="665.2" y2="397.1"/><line x1="615.4" y1="367.6" x2="657.3" y2="404.5"/><line x1="615.4" y1="367.6" x2="644.2" y2="385.3"/><line x1="615.4" y1="367.6" x2="652.7" y2="406.2"/><line x1="615.4" y1="367.6" x2="628.8" y2="378.0"/><line x1="615.4" y1="367.6" x2="650.9" y2="398.0"/><line x1="615.4" y1="367.6" x2="625.1" y2="370.8"/><line x1="615.4" y1="367.6" x2="667.6" y2="407.6"/><line x1="615.4" y1="367.6" x2="661.9" y2="406.1"/><line x1="615.4" y1="367.6" x2="628.0" y2="378.8"/><line x1="615.4" y1="367.6" x2="662.2" y2="395.5"/><line x1="615.4" y1="367.6" x2="659.9" y2="403.2"/><line x1="615.4" y1="367.6" x2="615.6" y2="381.5"/><line x1="615.4" y1="367.6" x2="650.4" y2="390.2"/><line x1="615.4" y1="367.6" x2="644.3" y2="383.6"/><line x1="615.4" y1="367.6" x2="655.2" y2="389.6"/><line x1="615.4" y1="367.6" x2="670.5" y2="396.9"/><line x1="615.4" y1="367.6" x2="652.6" y2="402.3"/><line x1="615.4" y1="367.6" x2="633.5" y2="376.7"/><line x1="615.4" y1="367.6" x2="648.3" y2="391.5"/><line x1="615.4" y1="367.6" x2="642.6" y2="398.8"/><line x1="615.4" y1="367.6" x2="614.6" y2="379.8"/><line x1="615.4" y1="367.6" x2="633.6" y2="369.3"/><line x1="615.4" y1="367.6" x2="636.4" y2="387.2"/><line x1="615.4" y1="367.6" x2="629.7" y2="377.9"/><line x1="615.4" y1="367.6" x2="633.3" y2="379.3"/><line x1="615.4" y1="367.6" x2="653.2" y2="397.2"/><line x1="615.4" y1="367.6" x2="668.3" y2="406.4"/><line x1="615.4" y1="367.6" x2="638.8" y2="393.5"/><line x1="615.4" y1="367.6" x2="651.3" y2="396.6"/><line x1="615.4" y1="367.6" x2="657.7" y2="400.0"/><line x1="615.4" y1="367.6" x2="650.0" y2="400.6"/><line x1="615.4" y1="367.6" x2="650.7" y2="398.4"/><line x1="615.4" y1="367.6" x2="622.2" y2="370.1"/><line x1="615.4" y1="367.6" x2="662.7" y2="404.3"/></g>
<g fill="#7fd0aa"><rect x="599.8" y="338.6" width="1.2" height="1.2"/><rect x="596.3" y="340.3" width="1.2" height="1.2"/><rect x="599.0" y="338.2" width="1.2" height="1.2"/><rect x="602.1" y="339.4" width="1.2" height="1.2"/><rect x="598.2" y="338.8" width="1.2" height="1.2"/><rect x="595.7" y="337.4" width="1.2" height="1.2"/><rect x="592.7" y="339.7" width="1.2" height="1.2"/><rect x="593.7" y="339.0" width="1.2" height="1.2"/><rect x="596.3" y="337.0" width="1.2" height="1.2"/><rect x="597.9" y="338.5" width="1.2" height="1.2"/><rect x="599.9" y="340.3" width="1.2" height="1.2"/><rect x="599.3" y="339.3" width="1.2" height="1.2"/><rect x="596.9" y="339.1" width="1.2" height="1.2"/><rect x="598.8" y="337.6" width="1.2" height="1.2"/><rect x="600.5" y="338.5" width="1.2" height="1.2"/><rect x="600.8" y="338.8" width="1.2" height="1.2"/><rect x="619.5" y="344.5" width="1.2" height="1.2"/><rect x="608.8" y="347.3" width="1.2" height="1.2"/><rect x="611.9" y="350.2" width="1.2" height="1.2"/><rect x="614.7" y="356.7" width="1.2" height="1.2"/><rect x="598.8" y="345.8" width="1.2" height="1.2"/><rect x="633.4" y="357.0" width="1.2" height="1.2"/><rect x="623.5" y="350.5" width="1.2" height="1.2"/><rect x="602.2" y="343.4" width="1.2" height="1.2"/><rect x="625.3" y="352.1" width="1.2" height="1.2"/><rect x="615.6" y="354.3" width="1.2" height="1.2"/><rect x="621.9" y="354.8" width="1.2" height="1.2"/><rect x="626.6" y="349.2" width="1.2" height="1.2"/><rect x="635.2" y="353.8" width="1.2" height="1.2"/><rect x="601.3" y="347.3" width="1.2" height="1.2"/><rect x="633.8" y="357.5" width="1.2" height="1.2"/><rect x="616.5" y="347.2" width="1.2" height="1.2"/><rect x="604.5" y="347.9" width="1.2" height="1.2"/><rect x="613.1" y="345.0" width="1.2" height="1.2"/><rect x="612.6" y="345.2" width="1.2" height="1.2"/><rect x="631.5" y="353.0" width="1.2" height="1.2"/><rect x="621.0" y="341.7" width="1.2" height="1.2"/><rect x="600.3" y="344.6" width="1.2" height="1.2"/><rect x="626.4" y="347.4" width="1.2" height="1.2"/><rect x="617.8" y="346.3" width="1.2" height="1.2"/><rect x="629.1" y="350.7" width="1.2" height="1.2"/><rect x="599.8" y="343.8" width="1.2" height="1.2"/><rect x="629.8" y="354.0" width="1.2" height="1.2"/><rect x="630.6" y="354.7" width="1.2" height="1.2"/><rect x="602.5" y="334.4" width="1.2" height="1.2"/><rect x="616.2" y="347.7" width="1.2" height="1.2"/><rect x="606.1" y="337.0" width="1.2" height="1.2"/><rect x="617.4" y="350.0" width="1.2" height="1.2"/><rect x="601.9" y="343.2" width="1.2" height="1.2"/><rect x="630.5" y="354.5" width="1.2" height="1.2"/><rect x="602.4" y="350.8" width="1.2" height="1.2"/><rect x="621.9" y="353.0" width="1.2" height="1.2"/><rect x="621.3" y="353.0" width="1.2" height="1.2"/><rect x="610.4" y="346.1" width="1.2" height="1.2"/><rect x="607.2" y="343.1" width="1.2" height="1.2"/><rect x="629.8" y="358.6" width="1.2" height="1.2"/><rect x="599.0" y="345.0" width="1.2" height="1.2"/><rect x="610.5" y="339.7" width="1.2" height="1.2"/><rect x="609.1" y="349.5" width="1.2" height="1.2"/><rect x="575.7" y="356.6" width="1.2" height="1.2"/><rect x="571.1" y="354.4" width="1.2" height="1.2"/><rect x="580.3" y="365.1" width="1.2" height="1.2"/><rect x="567.6" y="353.8" width="1.2" height="1.2"/><rect x="581.9" y="362.3" width="1.2" height="1.2"/><rect x="583.8" y="363.5" width="1.2" height="1.2"/><rect x="596.6" y="366.8" width="1.2" height="1.2"/><rect x="567.5" y="356.8" width="1.2" height="1.2"/><rect x="578.1" y="366.3" width="1.2" height="1.2"/><rect x="598.5" y="360.9" width="1.2" height="1.2"/><rect x="576.1" y="364.0" width="1.2" height="1.2"/><rect x="596.1" y="375.4" width="1.2" height="1.2"/><rect x="593.3" y="367.2" width="1.2" height="1.2"/><rect x="564.2" y="357.0" width="1.2" height="1.2"/><rect x="578.2" y="364.2" width="1.2" height="1.2"/><rect x="593.5" y="373.1" width="1.2" height="1.2"/><rect x="586.2" y="360.9" width="1.2" height="1.2"/><rect x="591.2" y="366.7" width="1.2" height="1.2"/><rect x="605.2" y="370.7" width="1.2" height="1.2"/><rect x="590.9" y="368.1" width="1.2" height="1.2"/><rect x="585.7" y="365.0" width="1.2" height="1.2"/><rect x="598.1" y="371.0" width="1.2" height="1.2"/><rect x="581.3" y="361.7" width="1.2" height="1.2"/><rect x="562.8" y="356.7" width="1.2" height="1.2"/><rect x="574.8" y="358.6" width="1.2" height="1.2"/><rect x="588.6" y="363.4" width="1.2" height="1.2"/><rect x="603.3" y="370.2" width="1.2" height="1.2"/><rect x="588.6" y="365.1" width="1.2" height="1.2"/><rect x="575.8" y="357.3" width="1.2" height="1.2"/><rect x="603.6" y="375.7" width="1.2" height="1.2"/><rect x="579.7" y="362.0" width="1.2" height="1.2"/><rect x="573.6" y="355.9" width="1.2" height="1.2"/><rect x="585.1" y="367.8" width="1.2" height="1.2"/><rect x="577.9" y="359.4" width="1.2" height="1.2"/><rect x="566.7" y="359.5" width="1.2" height="1.2"/><rect x="593.1" y="367.0" width="1.2" height="1.2"/><rect x="591.9" y="367.5" width="1.2" height="1.2"/><rect x="604.0" y="371.5" width="1.2" height="1.2"/><rect x="568.9" y="356.8" width="1.2" height="1.2"/><rect x="601.5" y="370.2" width="1.2" height="1.2"/><rect x="594.7" y="374.1" width="1.2" height="1.2"/><rect x="575.5" y="353.9" width="1.2" height="1.2"/><rect x="582.9" y="363.8" width="1.2" height="1.2"/><rect x="589.1" y="367.1" width="1.2" height="1.2"/><rect x="577.0" y="358.1" width="1.2" height="1.2"/><rect x="622.2" y="384.0" width="1.2" height="1.2"/><rect x="615.8" y="399.9" width="1.2" height="1.2"/><rect x="611.9" y="384.8" width="1.2" height="1.2"/><rect x="620.3" y="417.0" width="1.2" height="1.2"/><rect x="619.4" y="407.9" width="1.2" height="1.2"/><rect x="619.2" y="393.1" width="1.2" height="1.2"/><rect x="617.9" y="414.4" width="1.2" height="1.2"/><rect x="603.1" y="376.1" width="1.2" height="1.2"/><rect x="607.0" y="384.1" width="1.2" height="1.2"/><rect x="617.7" y="414.5" width="1.2" height="1.2"/><rect x="610.0" y="397.2" width="1.2" height="1.2"/><rect x="608.6" y="380.7" width="1.2" height="1.2"/><rect x="621.3" y="395.6" width="1.2" height="1.2"/><rect x="624.3" y="402.4" width="1.2" height="1.2"/><rect x="610.7" y="401.7" width="1.2" height="1.2"/><rect x="603.3" y="376.6" width="1.2" height="1.2"/><rect x="605.6" y="375.2" width="1.2" height="1.2"/><rect x="614.5" y="390.1" width="1.2" height="1.2"/><rect x="605.6" y="374.2" width="1.2" height="1.2"/><rect x="606.8" y="377.1" width="1.2" height="1.2"/><rect x="618.4" y="400.4" width="1.2" height="1.2"/><rect x="616.2" y="391.0" width="1.2" height="1.2"/><rect x="598.0" y="380.8" width="1.2" height="1.2"/><rect x="620.2" y="411.5" width="1.2" height="1.2"/><rect x="614.5" y="388.2" width="1.2" height="1.2"/><rect x="626.7" y="409.1" width="1.2" height="1.2"/><rect x="619.4" y="398.3" width="1.2" height="1.2"/><rect x="613.6" y="401.4" width="1.2" height="1.2"/><rect x="609.9" y="393.0" width="1.2" height="1.2"/><rect x="618.4" y="401.9" width="1.2" height="1.2"/><rect x="609.6" y="384.0" width="1.2" height="1.2"/><rect x="611.3" y="383.9" width="1.2" height="1.2"/><rect x="625.7" y="409.1" width="1.2" height="1.2"/><rect x="603.7" y="384.4" width="1.2" height="1.2"/><rect x="610.8" y="390.6" width="1.2" height="1.2"/><rect x="608.5" y="409.7" width="1.2" height="1.2"/><rect x="614.5" y="386.3" width="1.2" height="1.2"/><rect x="612.6" y="388.9" width="1.2" height="1.2"/><rect x="618.1" y="414.0" width="1.2" height="1.2"/><rect x="610.1" y="381.9" width="1.2" height="1.2"/><rect x="632.1" y="379.8" width="1.2" height="1.2"/><rect x="631.8" y="378.9" width="1.2" height="1.2"/><rect x="666.2" y="402.9" width="1.2" height="1.2"/><rect x="665.8" y="393.0" width="1.2" height="1.2"/><rect x="665.1" y="403.0" width="1.2" height="1.2"/><rect x="664.6" y="396.5" width="1.2" height="1.2"/><rect x="656.7" y="403.9" width="1.2" height="1.2"/><rect x="643.6" y="384.7" width="1.2" height="1.2"/><rect x="652.1" y="405.6" width="1.2" height="1.2"/><rect x="628.2" y="377.4" width="1.2" height="1.2"/><rect x="650.3" y="397.4" width="1.2" height="1.2"/><rect x="624.5" y="370.2" width="1.2" height="1.2"/><rect x="667.0" y="407.0" width="1.2" height="1.2"/><rect x="661.3" y="405.5" width="1.2" height="1.2"/><rect x="627.4" y="378.2" width="1.2" height="1.2"/><rect x="661.6" y="394.9" width="1.2" height="1.2"/><rect x="659.3" y="402.6" width="1.2" height="1.2"/><rect x="615.0" y="380.9" width="1.2" height="1.2"/><rect x="649.8" y="389.6" width="1.2" height="1.2"/><rect x="643.7" y="383.0" width="1.2" height="1.2"/><rect x="654.6" y="389.0" width="1.2" height="1.2"/><rect x="669.9" y="396.3" width="1.2" height="1.2"/><rect x="652.0" y="401.7" width="1.2" height="1.2"/><rect x="632.9" y="376.1" width="1.2" height="1.2"/><rect x="647.7" y="390.9" width="1.2" height="1.2"/><rect x="642.0" y="398.2" width="1.2" height="1.2"/><rect x="614.0" y="379.2" width="1.2" height="1.2"/><rect x="633.0" y="368.7" width="1.2" height="1.2"/><rect x="635.8" y="386.6" width="1.2" height="1.2"/><rect x="629.1" y="377.3" width="1.2" height="1.2"/><rect x="632.7" y="378.7" width="1.2" height="1.2"/><rect x="652.6" y="396.6" width="1.2" height="1.2"/><rect x="667.7" y="405.8" width="1.2" height="1.2"/><rect x="638.2" y="392.9" width="1.2" height="1.2"/><rect x="650.7" y="396.0" width="1.2" height="1.2"/><rect x="657.1" y="399.4" width="1.2" height="1.2"/><rect x="649.4" y="400.0" width="1.2" height="1.2"/><rect x="650.1" y="397.8" width="1.2" height="1.2"/><rect x="621.6" y="369.5" width="1.2" height="1.2"/><rect x="662.1" y="403.7" width="1.2" height="1.2"/></g>
<circle cx="615.4" cy="367.6" r="1.9" fill="#7fd0aa"/>
<g stroke="#7fd0aa" stroke-width="0.5" stroke-opacity="0.11"><line x1="566.4" y1="441.3" x2="543.6" y2="429.0"/><line x1="566.4" y1="441.3" x2="542.5" y2="426.2"/><line x1="566.4" y1="441.3" x2="555.1" y2="428.8"/><line x1="566.4" y1="441.3" x2="539.3" y2="425.7"/><line x1="566.4" y1="441.3" x2="547.1" y2="425.0"/><line x1="566.4" y1="441.3" x2="557.6" y2="428.6"/><line x1="566.4" y1="441.3" x2="534.8" y2="418.7"/><line x1="566.4" y1="441.3" x2="558.4" y2="431.7"/><line x1="566.4" y1="441.3" x2="557.4" y2="430.6"/><line x1="566.4" y1="441.3" x2="546.1" y2="426.2"/><line x1="566.4" y1="441.3" x2="541.9" y2="423.8"/><line x1="566.4" y1="441.3" x2="549.9" y2="431.3"/><line x1="566.4" y1="441.3" x2="543.4" y2="424.4"/><line x1="566.4" y1="441.3" x2="560.8" y2="430.3"/><line x1="566.4" y1="441.3" x2="551.7" y2="431.5"/><line x1="566.4" y1="441.3" x2="542.4" y2="428.3"/><line x1="566.4" y1="441.3" x2="559.5" y2="432.3"/><line x1="566.4" y1="441.3" x2="554.6" y2="425.6"/><line x1="566.4" y1="441.3" x2="538.3" y2="422.0"/><line x1="566.4" y1="441.3" x2="546.5" y2="428.0"/><line x1="566.4" y1="441.3" x2="549.4" y2="427.7"/><line x1="566.4" y1="441.3" x2="563.0" y2="436.5"/><line x1="566.4" y1="441.3" x2="545.0" y2="422.8"/><line x1="566.4" y1="441.3" x2="547.5" y2="428.6"/><line x1="566.4" y1="441.3" x2="565.7" y2="432.4"/><line x1="566.4" y1="441.3" x2="546.3" y2="429.6"/><line x1="566.4" y1="441.3" x2="560.4" y2="431.7"/><line x1="566.4" y1="441.3" x2="535.8" y2="424.9"/><line x1="566.4" y1="441.3" x2="546.8" y2="425.2"/><line x1="566.4" y1="441.3" x2="540.6" y2="421.0"/><line x1="566.4" y1="441.3" x2="563.1" y2="430.3"/><line x1="566.4" y1="441.3" x2="551.9" y2="427.2"/><line x1="566.4" y1="441.3" x2="541.4" y2="422.2"/><line x1="566.4" y1="441.3" x2="535.6" y2="425.2"/><line x1="566.4" y1="441.3" x2="546.1" y2="429.6"/><line x1="566.4" y1="441.3" x2="536.4" y2="423.4"/><line x1="566.4" y1="441.3" x2="550.1" y2="425.5"/><line x1="566.4" y1="441.3" x2="557.3" y2="430.4"/><line x1="566.4" y1="441.3" x2="544.1" y2="424.0"/><line x1="566.4" y1="441.3" x2="537.8" y2="426.7"/><line x1="566.4" y1="441.3" x2="573.8" y2="441.5"/><line x1="566.4" y1="441.3" x2="572.0" y2="434.0"/><line x1="566.4" y1="441.3" x2="571.1" y2="436.7"/><line x1="566.4" y1="441.3" x2="573.9" y2="440.3"/><line x1="566.4" y1="441.3" x2="571.0" y2="438.8"/><line x1="566.4" y1="441.3" x2="576.9" y2="437.1"/><line x1="566.4" y1="441.3" x2="570.7" y2="439.3"/><line x1="566.4" y1="441.3" x2="571.3" y2="438.7"/><line x1="566.4" y1="441.3" x2="574.3" y2="445.2"/><line x1="566.4" y1="441.3" x2="568.6" y2="439.9"/><line x1="566.4" y1="441.3" x2="581.8" y2="452.8"/><line x1="566.4" y1="441.3" x2="582.7" y2="467.6"/><line x1="566.4" y1="441.3" x2="596.0" y2="464.6"/><line x1="566.4" y1="441.3" x2="586.1" y2="459.6"/><line x1="566.4" y1="441.3" x2="570.5" y2="448.7"/><line x1="566.4" y1="441.3" x2="575.5" y2="444.2"/><line x1="566.4" y1="441.3" x2="582.5" y2="456.0"/><line x1="566.4" y1="441.3" x2="588.4" y2="464.3"/><line x1="566.4" y1="441.3" x2="585.6" y2="471.5"/><line x1="566.4" y1="441.3" x2="582.5" y2="452.0"/><line x1="566.4" y1="441.3" x2="583.5" y2="457.3"/><line x1="566.4" y1="441.3" x2="581.7" y2="458.9"/><line x1="566.4" y1="441.3" x2="573.9" y2="448.3"/><line x1="566.4" y1="441.3" x2="575.0" y2="443.0"/><line x1="566.4" y1="441.3" x2="582.5" y2="458.5"/><line x1="566.4" y1="441.3" x2="582.8" y2="457.4"/><line x1="566.4" y1="441.3" x2="589.9" y2="466.1"/><line x1="566.4" y1="441.3" x2="573.2" y2="452.8"/><line x1="566.4" y1="441.3" x2="588.2" y2="467.3"/><line x1="566.4" y1="441.3" x2="577.0" y2="453.0"/><line x1="566.4" y1="441.3" x2="583.1" y2="458.6"/><line x1="566.4" y1="441.3" x2="590.3" y2="458.8"/><line x1="566.4" y1="441.3" x2="575.5" y2="448.9"/><line x1="566.4" y1="441.3" x2="592.3" y2="467.4"/><line x1="566.4" y1="441.3" x2="594.1" y2="466.1"/><line x1="566.4" y1="441.3" x2="593.1" y2="467.6"/><line x1="566.4" y1="441.3" x2="574.1" y2="444.0"/><line x1="566.4" y1="441.3" x2="582.4" y2="464.0"/><line x1="566.4" y1="441.3" x2="581.4" y2="466.1"/><line x1="566.4" y1="441.3" x2="592.3" y2="464.4"/><line x1="566.4" y1="441.3" x2="558.5" y2="457.0"/><line x1="566.4" y1="441.3" x2="536.2" y2="464.5"/><line x1="566.4" y1="441.3" x2="598.0" y2="467.8"/><line x1="566.4" y1="441.3" x2="594.6" y2="474.4"/><line x1="566.4" y1="441.3" x2="564.0" y2="428.0"/><line x1="566.4" y1="441.3" x2="568.0" y2="431.0"/></g>
<g fill="#7fd0aa"><rect x="543.0" y="428.4" width="1.2" height="1.2"/><rect x="541.9" y="425.6" width="1.2" height="1.2"/><rect x="554.5" y="428.2" width="1.2" height="1.2"/><rect x="538.7" y="425.1" width="1.2" height="1.2"/><rect x="546.5" y="424.4" width="1.2" height="1.2"/><rect x="557.0" y="428.0" width="1.2" height="1.2"/><rect x="534.2" y="418.1" width="1.2" height="1.2"/><rect x="557.8" y="431.1" width="1.2" height="1.2"/><rect x="556.8" y="430.0" width="1.2" height="1.2"/><rect x="545.5" y="425.6" width="1.2" height="1.2"/><rect x="541.3" y="423.2" width="1.2" height="1.2"/><rect x="549.3" y="430.7" width="1.2" height="1.2"/><rect x="542.8" y="423.8" width="1.2" height="1.2"/><rect x="560.2" y="429.7" width="1.2" height="1.2"/><rect x="551.1" y="430.9" width="1.2" height="1.2"/><rect x="541.8" y="427.7" width="1.2" height="1.2"/><rect x="558.9" y="431.7" width="1.2" height="1.2"/><rect x="554.0" y="425.0" width="1.2" height="1.2"/><rect x="537.7" y="421.4" width="1.2" height="1.2"/><rect x="545.9" y="427.4" width="1.2" height="1.2"/><rect x="548.8" y="427.1" width="1.2" height="1.2"/><rect x="562.4" y="435.9" width="1.2" height="1.2"/><rect x="544.4" y="422.2" width="1.2" height="1.2"/><rect x="546.9" y="428.0" width="1.2" height="1.2"/><rect x="565.1" y="431.8" width="1.2" height="1.2"/><rect x="545.7" y="429.0" width="1.2" height="1.2"/><rect x="559.8" y="431.1" width="1.2" height="1.2"/><rect x="535.2" y="424.3" width="1.2" height="1.2"/><rect x="546.2" y="424.6" width="1.2" height="1.2"/><rect x="540.0" y="420.4" width="1.2" height="1.2"/><rect x="562.5" y="429.7" width="1.2" height="1.2"/><rect x="551.3" y="426.6" width="1.2" height="1.2"/><rect x="540.8" y="421.6" width="1.2" height="1.2"/><rect x="535.0" y="424.6" width="1.2" height="1.2"/><rect x="545.5" y="429.0" width="1.2" height="1.2"/><rect x="535.8" y="422.8" width="1.2" height="1.2"/><rect x="549.5" y="424.9" width="1.2" height="1.2"/><rect x="556.7" y="429.8" width="1.2" height="1.2"/><rect x="543.5" y="423.4" width="1.2" height="1.2"/><rect x="537.2" y="426.1" width="1.2" height="1.2"/><rect x="573.2" y="440.9" width="1.2" height="1.2"/><rect x="571.4" y="433.4" width="1.2" height="1.2"/><rect x="570.5" y="436.1" width="1.2" height="1.2"/><rect x="573.3" y="439.7" width="1.2" height="1.2"/><rect x="570.4" y="438.2" width="1.2" height="1.2"/><rect x="576.3" y="436.5" width="1.2" height="1.2"/><rect x="570.1" y="438.7" width="1.2" height="1.2"/><rect x="570.7" y="438.1" width="1.2" height="1.2"/><rect x="573.7" y="444.6" width="1.2" height="1.2"/><rect x="568.0" y="439.3" width="1.2" height="1.2"/><rect x="581.2" y="452.2" width="1.2" height="1.2"/><rect x="582.1" y="467.0" width="1.2" height="1.2"/><rect x="595.4" y="464.0" width="1.2" height="1.2"/><rect x="585.5" y="459.0" width="1.2" height="1.2"/><rect x="569.9" y="448.1" width="1.2" height="1.2"/><rect x="574.9" y="443.6" width="1.2" height="1.2"/><rect x="581.9" y="455.4" width="1.2" height="1.2"/><rect x="587.8" y="463.7" width="1.2" height="1.2"/><rect x="585.0" y="470.9" width="1.2" height="1.2"/><rect x="581.9" y="451.4" width="1.2" height="1.2"/><rect x="582.9" y="456.7" width="1.2" height="1.2"/><rect x="581.1" y="458.3" width="1.2" height="1.2"/><rect x="573.3" y="447.7" width="1.2" height="1.2"/><rect x="574.4" y="442.4" width="1.2" height="1.2"/><rect x="581.9" y="457.9" width="1.2" height="1.2"/><rect x="582.2" y="456.8" width="1.2" height="1.2"/><rect x="589.3" y="465.5" width="1.2" height="1.2"/><rect x="572.6" y="452.2" width="1.2" height="1.2"/><rect x="587.6" y="466.7" width="1.2" height="1.2"/><rect x="576.4" y="452.4" width="1.2" height="1.2"/><rect x="582.5" y="458.0" width="1.2" height="1.2"/><rect x="589.7" y="458.2" width="1.2" height="1.2"/><rect x="574.9" y="448.3" width="1.2" height="1.2"/><rect x="591.7" y="466.8" width="1.2" height="1.2"/><rect x="593.5" y="465.5" width="1.2" height="1.2"/><rect x="592.5" y="467.0" width="1.2" height="1.2"/><rect x="573.5" y="443.4" width="1.2" height="1.2"/><rect x="581.8" y="463.4" width="1.2" height="1.2"/><rect x="580.8" y="465.5" width="1.2" height="1.2"/><rect x="591.7" y="463.8" width="1.2" height="1.2"/><rect x="557.9" y="456.4" width="1.2" height="1.2"/><rect x="535.6" y="463.9" width="1.2" height="1.2"/><rect x="597.4" y="467.2" width="1.2" height="1.2"/><rect x="594.0" y="473.8" width="1.2" height="1.2"/><rect x="563.4" y="427.4" width="1.2" height="1.2"/><rect x="567.4" y="430.4" width="1.2" height="1.2"/></g>
<circle cx="566.4" cy="441.3" r="1.8" fill="#7fd0aa"/>
<circle cx="584.9" cy="480.9" r="1.75" fill="#7fd0aa"/>
<circle cx="603" cy="499.2" r="1.75" fill="#7fd0aa"/>
<g stroke="#7fd0aa" stroke-width="0.5" stroke-opacity="0.11"><line x1="605.3" y1="549.0" x2="601.5" y2="536.2"/><line x1="605.3" y1="549.0" x2="605.4" y2="540.4"/><line x1="605.3" y1="549.0" x2="599.7" y2="535.5"/><line x1="605.3" y1="549.0" x2="601.1" y2="533.1"/><line x1="605.3" y1="549.0" x2="603.7" y2="535.3"/><line x1="605.3" y1="549.0" x2="601.8" y2="537.7"/><line x1="605.3" y1="549.0" x2="605.1" y2="538.5"/><line x1="605.3" y1="549.0" x2="605.9" y2="535.4"/><line x1="605.3" y1="549.0" x2="602.7" y2="536.7"/><line x1="605.3" y1="549.0" x2="600.0" y2="536.7"/><line x1="605.3" y1="549.0" x2="606.9" y2="531.7"/><line x1="605.3" y1="549.0" x2="602.8" y2="531.9"/><line x1="605.3" y1="549.0" x2="608.4" y2="532.5"/><line x1="605.3" y1="549.0" x2="595.7" y2="528.3"/><line x1="605.3" y1="549.0" x2="609.8" y2="535.7"/><line x1="605.3" y1="549.0" x2="600.4" y2="534.5"/><line x1="605.3" y1="549.0" x2="589.5" y2="530.7"/><line x1="605.3" y1="549.0" x2="602.9" y2="537.0"/><line x1="605.3" y1="549.0" x2="612.9" y2="563.2"/><line x1="605.3" y1="549.0" x2="613.9" y2="567.9"/><line x1="605.3" y1="549.0" x2="609.3" y2="550.8"/><line x1="605.3" y1="549.0" x2="622.7" y2="550.5"/><line x1="605.3" y1="549.0" x2="610.2" y2="563.9"/><line x1="605.3" y1="549.0" x2="608.5" y2="551.0"/><line x1="605.3" y1="549.0" x2="611.2" y2="562.6"/><line x1="605.3" y1="549.0" x2="610.8" y2="554.2"/><line x1="605.3" y1="549.0" x2="610.7" y2="551.8"/><line x1="605.3" y1="549.0" x2="624.3" y2="564.1"/><line x1="605.3" y1="549.0" x2="602.5" y2="556.8"/><line x1="605.3" y1="549.0" x2="606.9" y2="560.7"/><line x1="605.3" y1="549.0" x2="623.8" y2="552.1"/><line x1="605.3" y1="549.0" x2="616.1" y2="553.1"/><line x1="605.3" y1="549.0" x2="600.2" y2="556.8"/><line x1="605.3" y1="549.0" x2="622.0" y2="562.5"/><line x1="605.3" y1="549.0" x2="614.7" y2="548.9"/><line x1="605.3" y1="549.0" x2="613.0" y2="556.6"/><line x1="605.3" y1="549.0" x2="621.8" y2="564.1"/><line x1="605.3" y1="549.0" x2="622.8" y2="565.2"/><line x1="605.3" y1="549.0" x2="623.2" y2="562.9"/><line x1="605.3" y1="549.0" x2="614.0" y2="555.4"/><line x1="605.3" y1="549.0" x2="620.2" y2="560.2"/><line x1="605.3" y1="549.0" x2="619.3" y2="564.8"/><line x1="605.3" y1="549.0" x2="612.1" y2="550.2"/><line x1="605.3" y1="549.0" x2="609.6" y2="548.4"/><line x1="605.3" y1="549.0" x2="617.5" y2="550.5"/><line x1="605.3" y1="549.0" x2="610.5" y2="551.1"/><line x1="605.3" y1="549.0" x2="613.0" y2="553.4"/><line x1="605.3" y1="549.0" x2="613.5" y2="556.2"/><line x1="605.3" y1="549.0" x2="617.7" y2="548.8"/><line x1="605.3" y1="549.0" x2="608.9" y2="552.5"/><line x1="605.3" y1="549.0" x2="613.6" y2="548.6"/><line x1="605.3" y1="549.0" x2="603.6" y2="541.7"/><line x1="605.3" y1="549.0" x2="612.7" y2="552.1"/><line x1="605.3" y1="549.0" x2="615.0" y2="543.9"/><line x1="605.3" y1="549.0" x2="616.2" y2="546.9"/></g>
<g fill="#7fd0aa"><rect x="600.9" y="535.6" width="1.2" height="1.2"/><rect x="604.8" y="539.8" width="1.2" height="1.2"/><rect x="599.1" y="534.9" width="1.2" height="1.2"/><rect x="600.5" y="532.5" width="1.2" height="1.2"/><rect x="603.1" y="534.7" width="1.2" height="1.2"/><rect x="601.2" y="537.1" width="1.2" height="1.2"/><rect x="604.5" y="537.9" width="1.2" height="1.2"/><rect x="605.3" y="534.8" width="1.2" height="1.2"/><rect x="602.1" y="536.1" width="1.2" height="1.2"/><rect x="599.4" y="536.1" width="1.2" height="1.2"/><rect x="606.3" y="531.1" width="1.2" height="1.2"/><rect x="602.2" y="531.3" width="1.2" height="1.2"/><rect x="607.8" y="531.9" width="1.2" height="1.2"/><rect x="595.1" y="527.7" width="1.2" height="1.2"/><rect x="609.2" y="535.1" width="1.2" height="1.2"/><rect x="599.8" y="533.9" width="1.2" height="1.2"/><rect x="588.9" y="530.1" width="1.2" height="1.2"/><rect x="602.3" y="536.4" width="1.2" height="1.2"/><rect x="612.3" y="562.6" width="1.2" height="1.2"/><rect x="613.3" y="567.3" width="1.2" height="1.2"/><rect x="608.7" y="550.2" width="1.2" height="1.2"/><rect x="622.1" y="549.9" width="1.2" height="1.2"/><rect x="609.6" y="563.3" width="1.2" height="1.2"/><rect x="607.9" y="550.4" width="1.2" height="1.2"/><rect x="610.6" y="562.0" width="1.2" height="1.2"/><rect x="610.2" y="553.6" width="1.2" height="1.2"/><rect x="610.1" y="551.2" width="1.2" height="1.2"/><rect x="623.7" y="563.5" width="1.2" height="1.2"/><rect x="601.9" y="556.2" width="1.2" height="1.2"/><rect x="606.3" y="560.1" width="1.2" height="1.2"/><rect x="623.2" y="551.5" width="1.2" height="1.2"/><rect x="615.5" y="552.5" width="1.2" height="1.2"/><rect x="599.6" y="556.2" width="1.2" height="1.2"/><rect x="621.4" y="561.9" width="1.2" height="1.2"/><rect x="614.1" y="548.3" width="1.2" height="1.2"/><rect x="612.4" y="556.0" width="1.2" height="1.2"/><rect x="621.2" y="563.5" width="1.2" height="1.2"/><rect x="622.2" y="564.6" width="1.2" height="1.2"/><rect x="622.6" y="562.3" width="1.2" height="1.2"/><rect x="613.4" y="554.8" width="1.2" height="1.2"/><rect x="619.6" y="559.6" width="1.2" height="1.2"/><rect x="618.7" y="564.2" width="1.2" height="1.2"/><rect x="611.5" y="549.6" width="1.2" height="1.2"/><rect x="609.0" y="547.8" width="1.2" height="1.2"/><rect x="616.9" y="549.9" width="1.2" height="1.2"/><rect x="609.9" y="550.5" width="1.2" height="1.2"/><rect x="612.4" y="552.8" width="1.2" height="1.2"/><rect x="612.9" y="555.6" width="1.2" height="1.2"/><rect x="617.1" y="548.2" width="1.2" height="1.2"/><rect x="608.3" y="551.9" width="1.2" height="1.2"/><rect x="613.0" y="548.0" width="1.2" height="1.2"/><rect x="603.0" y="541.1" width="1.2" height="1.2"/><rect x="612.1" y="551.5" width="1.2" height="1.2"/><rect x="614.4" y="543.3" width="1.2" height="1.2"/><rect x="615.6" y="546.3" width="1.2" height="1.2"/></g>
<circle cx="605.3" cy="549" r="1.8" fill="#7fd0aa"/>
<text transform="translate(595.00 349.20) scale(0.940 1)" font-size="10.7" fill="#1a1a1a" font-style="italic" text-anchor="end">Methanobrevibacter</text>
<text transform="translate(431.00 392.70) scale(0.940 1)" font-size="10.7" fill="#1a1a1a" font-style="italic">Methanobrevibacter_A</text>
<text transform="translate(581.00 441.50) scale(0.940 1)" font-size="10.7" fill="#1a1a1a" font-style="italic">Methanobrevibacter_B</text>
<text transform="translate(578.50 484.10) scale(0.940 1)" font-size="10.7" fill="#1a1a1a" font-style="italic" text-anchor="end">CADBMS01</text>
<text transform="translate(596.00 501.80) scale(0.940 1)" font-size="10.7" fill="#1a1a1a" font-style="italic" text-anchor="end">Methanobacterium</text>
<text transform="translate(592.40 552.70) scale(0.940 1)" font-size="10.7" fill="#1a1a1a" font-style="italic" text-anchor="end">Methanosphaera</text>
</svg></body></html>
